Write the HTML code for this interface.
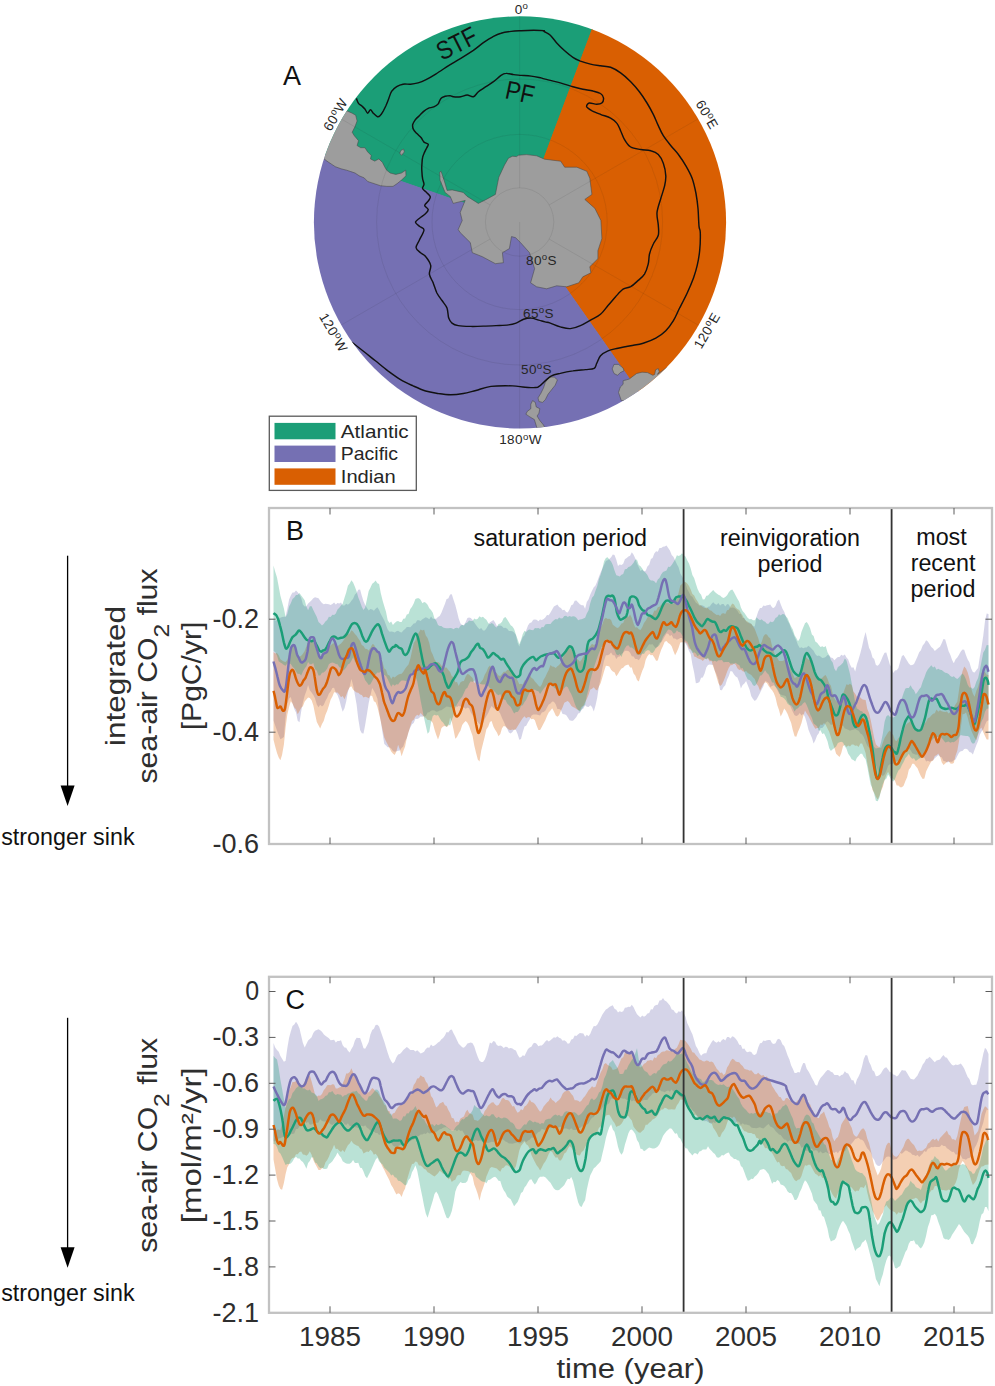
<!DOCTYPE html>
<html><head><meta charset="utf-8"><title>Figure</title>
<style>
html,body{margin:0;padding:0;background:#fff;}
body{width:995px;height:1386px;overflow:hidden;font-family:"Liberation Sans",sans-serif;}
svg{display:block;}
text{font-family:"Liberation Sans",sans-serif;}
</style></head><body>
<svg width="995" height="1386" viewBox="0 0 995 1386">
<rect width="995" height="1386" fill="#fff"/>

<defs><clipPath id="mapclip"><circle cx="520.0" cy="222.4" r="206.1"/></clipPath></defs>
<g clip-path="url(#mapclip)">
<path d="M520.0,222.4 L323.2,154.6 A208.1,208.1 0 0 1 592.9,27.5 Z" fill="#1b9e77" stroke="#1b9e77" stroke-width="1"/>
<path d="M520.0,222.4 L592.9,27.5 A208.1,208.1 0 0 1 639.4,392.9 Z" fill="#d95f02" stroke="#d95f02" stroke-width="1"/>
<path d="M520.0,222.4 L639.4,392.9 A208.1,208.1 0 0 1 323.2,154.6 Z" fill="#7570b3" stroke="#7570b3" stroke-width="1"/>
<polygon points="441.1,171.3 444.1,180.3 447.1,190.4 452.2,189.9 463.2,192.4 467.2,196.4 478.3,203.4 486.3,199.4 495.4,194.4 497.4,184.3 498.8,177.3 504.4,165.2 508.4,158.2 512.5,156.2 516.5,156.6 518.5,155.2 526.5,154.6 536.6,155.8 544.6,159.2 560.7,161.2 564.7,167.2 576.8,167.2 586.8,171.3 589.8,178.3 591.9,194.4 584.8,199.4 594.9,208.4 600.9,220.5 601.9,238.6 597.9,250.7 597.9,258.7 589.8,266.7 590.9,272.8 582.8,276.8 578.8,282.8 566.7,286.8 556.7,285.8 546.6,288.8 536.6,286.8 530.6,282.8 534.6,268.7 529.5,252.7 520.5,242.6 515.5,237.6 511.5,236.6 509.4,248.6 502.4,252.7 503.4,262.7 495.4,263.7 482.3,256.7 472.3,252.7 470.3,242.6 460.2,232.6 458.2,229.5 462.2,220.5 460.2,212.5 465.2,200.4 453.2,203.4 450.2,196.4 445.1,192.4 440.1,180.3 439.7,172.3" fill="#9d9d9d" stroke="#4a4a4a" stroke-width="0.55"/>
<polygon points="342.4,109.7 347.3,111.1 352.2,113.2 355.7,115.3 357.1,121.0 355.0,126.6 352.2,132.2 354.3,135.7 358.5,140.7 357.1,145.6 360.7,147.7 364.9,147.7 367.7,151.9 371.2,155.4 370.5,158.9 374.7,161.1 378.9,158.9 382.5,162.5 384.6,166.7 386.7,170.2 390.2,173.0 395.8,174.4 401.5,173.0 405.7,170.2 406.0,175.8 401.5,180.1 397.2,183.6 393.0,186.4 386.7,186.4 380.4,185.7 376.1,184.3 371.9,182.9 367.7,181.5 364.2,177.9 359.2,175.8 355.0,173.0 350.8,171.6 346.6,170.2 341.0,168.8 335.3,166.7 331.1,163.9 326.9,161.1 324.1,158.9 315.6,156.1 324.1,132.2" fill="#9d9d9d" stroke="#4a4a4a" stroke-width="0.55"/>
<polygon points="400.8,150.5 403.6,149.1 404.3,151.9 401.5,155.4 399.8,153.3" fill="#9d9d9d" stroke="#4a4a4a" stroke-width="0.55"/>
<polygon points="629.4,378.9 633.0,376.2 636.6,373.5 642.1,372.2 647.5,372.6 652.9,375.3 654.7,374.4 655.6,369.8 658.3,368.6 659.2,371.7 657.4,374.4 667.4,367.1 636.6,401.5 621.3,400.6 618.5,392.5 620.3,387.0 623.1,384.3 623.1,380.7 626.7,379.8" fill="#9d9d9d" stroke="#4a4a4a" stroke-width="0.55"/>
<polygon points="614.0,364.4 618.5,364.4 623.1,368.0 624.0,370.8 620.3,372.6 617.6,375.3 614.0,373.5 612.2,368.9" fill="#9d9d9d" stroke="#4a4a4a" stroke-width="0.55"/>
<polygon points="548.9,377.1 554.3,377.1 557.4,379.8 555.2,385.2 551.6,389.7 548.0,394.3 545.3,399.7 542.6,402.4 538.9,401.5 538.0,397.9 540.8,393.4 543.5,387.9 545.3,382.5" fill="#9d9d9d" stroke="#4a4a4a" stroke-width="0.55"/>
<polygon points="532.6,400.6 535.3,402.4 536.2,406.9 539.8,408.7 538.9,413.3 537.1,416.0 539.8,420.5 543.5,425.0 546.2,430.4 537.1,428.6 534.4,419.6 529.9,416.9 525.9,414.2 527.2,411.5 530.8,408.7 530.8,404.2" fill="#9d9d9d" stroke="#4a4a4a" stroke-width="0.55"/>
<circle cx="519.6" cy="222" r="34.2" stroke="#222" stroke-opacity="0.11" stroke-width="0.8" fill="none"/>
<circle cx="519.6" cy="222" r="87.6" stroke="#222" stroke-opacity="0.11" stroke-width="0.8" fill="none"/>
<circle cx="519.6" cy="222" r="143.0" stroke="#222" stroke-opacity="0.11" stroke-width="0.8" fill="none"/>
<line x1="519.6" y1="187.8" x2="519.6" y2="12.9" stroke="#222" stroke-opacity="0.11" stroke-width="0.8" fill="none"/>
<line x1="549.2" y1="204.9" x2="700.7" y2="117.4" stroke="#222" stroke-opacity="0.11" stroke-width="0.8" fill="none"/>
<line x1="549.2" y1="239.1" x2="700.7" y2="326.5" stroke="#222" stroke-opacity="0.11" stroke-width="0.8" fill="none"/>
<line x1="519.6" y1="256.2" x2="519.6" y2="431.1" stroke="#222" stroke-opacity="0.11" stroke-width="0.8" fill="none"/>
<line x1="490.0" y1="239.1" x2="338.5" y2="326.6" stroke="#222" stroke-opacity="0.11" stroke-width="0.8" fill="none"/>
<line x1="490.0" y1="204.9" x2="338.5" y2="117.4" stroke="#222" stroke-opacity="0.11" stroke-width="0.8" fill="none"/>
<line x1="519.6" y1="256.2" x2="519.6" y2="222" stroke="#222" stroke-opacity="0.11" stroke-width="0.8" fill="none"/>
<path d="M356.4,98.4 C356.8,99.3 357.6,102.1 358.5,103.4 C359.5,104.7 361.0,105.2 362.1,106.2 C363.1,107.1 363.9,107.8 364.9,109.0 C365.8,110.2 366.8,113.1 367.7,113.2 C368.6,113.3 369.6,109.7 370.5,109.7 C371.4,109.7 372.1,112.0 373.3,113.2 C374.5,114.4 376.4,116.4 377.5,116.7 C378.7,117.1 379.4,116.3 380.4,115.3 C381.3,114.4 382.2,112.7 383.2,111.1 C384.1,109.5 385.0,107.6 386.0,105.5 C386.9,103.4 387.9,100.8 388.8,98.4 C389.7,96.1 390.3,93.4 391.6,91.4 C392.9,89.4 394.8,87.9 396.7,86.7 C398.6,85.5 400.7,84.6 403.0,84.2 C405.3,83.8 408.0,84.4 410.6,84.2 C413.1,84.0 415.6,83.6 418.1,82.9 C420.6,82.2 422.7,81.4 425.6,79.9 C428.6,78.4 431.9,76.5 435.7,74.1 C439.4,71.8 444.1,68.5 448.2,65.8 C452.4,63.2 456.6,60.9 460.8,58.3 C465.0,55.7 469.6,52.8 473.4,50.3 C477.1,47.7 480.1,45.0 483.4,42.7 C486.8,40.4 490.5,38.0 493.5,36.4 C496.4,34.8 498.1,34.0 501.0,33.2 C503.9,32.3 507.7,31.8 511.1,31.4 C514.4,31.0 517.3,30.9 521.1,30.7 C524.9,30.4 529.9,30.2 533.7,30.2 C537.4,30.2 542.0,30.4 543.7,30.7 C545.4,30.9 542.9,30.7 544.0,31.4 C545.1,32.2 548.2,33.3 550.3,35.2 C552.3,37.1 554.2,40.2 556.5,42.7 C558.8,45.2 561.3,47.8 564.1,50.3 C566.8,52.7 570.1,55.5 572.9,57.3 C575.6,59.1 577.5,59.9 580.4,61.1 C583.3,62.2 587.1,63.3 590.5,64.1 C593.8,64.9 597.2,65.3 600.5,65.8 C603.9,66.4 607.2,66.2 610.6,67.3 C613.9,68.5 617.3,70.5 620.6,72.9 C624.0,75.3 627.5,78.5 630.7,81.7 C633.8,84.8 636.7,88.1 639.4,91.7 C642.2,95.3 644.7,99.2 647.0,103.0 C649.3,106.8 651.4,110.6 653.3,114.3 C655.2,118.1 656.6,122.1 658.3,125.6 C660.0,129.2 661.2,132.3 663.3,135.7 C665.4,139.0 668.3,142.6 670.9,145.7 C673.4,148.9 675.9,151.2 678.4,154.5 C680.9,157.9 683.6,161.9 685.9,165.8 C688.2,169.8 690.5,173.8 692.2,178.4 C693.9,183.0 695.0,188.4 696.0,193.5 C696.9,198.5 697.5,203.1 698.0,208.5 C698.5,214.0 698.6,222.1 699.0,226.1 C699.4,230.2 700.1,228.6 700.3,232.7 C700.4,236.7 700.3,244.8 699.7,250.3 C699.2,255.7 698.3,260.7 697.2,265.3 C696.2,269.9 695.1,273.3 693.5,277.9 C691.8,282.5 689.5,287.9 687.2,293.0 C684.9,298.0 682.0,303.4 679.6,308.0 C677.3,312.6 675.7,316.8 673.4,320.6 C671.1,324.4 668.8,327.7 665.8,330.7 C662.9,333.6 659.5,336.1 655.8,338.2 C652.0,340.3 647.4,342.0 643.2,343.2 C639.0,344.5 634.8,344.9 630.7,345.7 C626.5,346.6 621.9,347.4 618.1,348.2 C614.3,349.1 611.0,349.5 608.0,350.8 C605.1,352.0 602.4,353.7 600.5,355.8 C598.6,357.9 597.8,361.2 596.7,363.3 C595.7,365.4 596.1,367.3 594.2,368.3 C592.3,369.4 589.0,369.2 585.4,369.6 C581.9,370.0 577.1,370.2 572.9,370.9 C568.7,371.5 563.9,372.5 560.3,373.4 C556.7,374.2 554.0,374.6 551.5,375.9 C549.0,377.1 547.5,379.0 545.2,380.9 C542.9,382.8 541.0,386.1 537.7,387.2 C534.3,388.2 529.3,387.4 525.1,387.2 C520.9,387.0 518.3,386.1 512.6,385.9 C506.9,385.8 497.1,385.7 491.0,386.4 C484.8,387.2 480.5,389.3 475.9,390.5 C471.3,391.6 467.5,392.8 463.3,393.5 C459.1,394.2 454.9,394.7 450.8,394.7 C446.6,394.7 442.4,394.1 438.2,393.5 C434.0,392.8 429.8,392.2 425.6,391.0 C421.4,389.7 417.3,387.8 413.1,385.9 C408.9,384.0 404.7,382.2 400.5,379.6 C396.3,377.1 392.1,374.0 387.9,370.9 C383.8,367.7 379.6,364.2 375.4,360.8 C371.2,357.5 366.8,353.9 362.8,350.8 C358.8,347.6 353.4,343.4 351.5,342.0" fill="none" stroke="#111" stroke-width="1.45" stroke-linejoin="round"/>
<path d="M541.2,77.9 C539.5,77.6 534.5,76.5 531.2,76.1 C527.8,75.7 524.0,75.6 521.1,75.4 C518.2,75.1 516.1,75.0 513.6,74.6 C511.1,74.3 508.1,73.2 506.0,73.4 C503.9,73.5 503.1,74.0 501.0,75.4 C498.9,76.8 496.0,79.8 493.5,81.7 C491.0,83.5 488.4,85.0 485.9,86.7 C483.4,88.4 480.5,90.0 478.4,91.7 C476.3,93.4 475.3,96.2 473.4,96.7 C471.5,97.3 469.2,95.0 467.1,95.0 C465.0,95.0 463.1,96.4 460.8,96.7 C458.5,97.0 455.1,96.9 453.3,96.7 C451.5,96.5 451.4,95.7 450.0,95.6 C448.6,95.6 446.6,95.9 445.1,96.3 C443.6,96.8 442.0,97.2 440.9,98.4 C439.7,99.7 439.2,102.7 438.0,104.1 C436.9,105.5 435.5,106.2 433.8,106.9 C432.2,107.6 429.8,107.6 428.2,108.3 C426.6,109.0 425.4,109.9 424.0,111.1 C422.6,112.3 421.2,113.9 419.8,115.3 C418.3,116.7 416.7,118.0 415.5,119.5 C414.4,121.1 413.1,122.8 412.7,124.5 C412.4,126.1 412.7,127.9 413.4,129.4 C414.1,130.9 415.6,132.2 416.9,133.6 C418.2,135.0 420.0,136.4 421.2,137.8 C422.3,139.2 422.8,141.0 424.0,142.1 C425.1,143.1 427.7,143.2 428.2,144.2 C428.7,145.1 427.4,146.4 426.8,147.7 C426.2,149.0 425.4,150.3 424.7,151.9 C424.0,153.6 423.0,155.4 422.6,157.5 C422.1,159.6 422.0,162.2 421.9,164.6 C421.7,166.9 421.7,169.3 421.9,171.6 C422.0,174.0 422.2,176.5 422.6,178.6 C422.9,180.8 424.0,182.6 424.0,184.3 C424.0,185.9 422.1,187.1 422.6,188.5 C423.0,189.9 425.5,191.3 426.8,192.7 C428.1,194.1 430.1,195.5 430.3,196.9 C430.5,198.3 429.1,199.8 428.2,201.2 C427.3,202.6 424.7,204.0 424.7,205.4 C424.7,206.8 428.1,208.2 428.2,209.6 C428.3,211.0 426.8,212.4 425.4,213.8 C424.0,215.2 421.4,216.6 419.8,218.0 C418.1,219.4 415.5,220.9 415.5,222.3 C415.5,223.7 418.3,225.2 419.8,226.5 C421.2,227.8 424.0,227.7 424.0,230.0 C423.9,232.3 420.7,237.2 419.3,240.2 C418.0,243.2 415.9,245.6 416.1,247.7 C416.3,249.8 419.0,251.3 420.6,252.8 C422.2,254.2 424.0,254.4 425.6,256.5 C427.3,258.6 430.0,262.4 430.7,265.3 C431.3,268.3 429.0,271.2 429.4,274.1 C429.8,277.1 431.9,279.8 433.2,282.9 C434.4,286.1 435.5,290.0 436.9,293.0 C438.4,295.9 440.3,298.0 442.0,300.5 C443.6,303.0 445.9,305.1 447.0,308.0 C448.1,311.0 447.9,315.6 448.7,318.1 C449.6,320.6 450.4,321.9 452.0,323.1 C453.6,324.4 455.2,325.1 458.3,325.6 C461.4,326.2 466.7,326.3 470.9,326.4 C475.0,326.5 479.2,326.3 483.4,326.1 C487.6,326.0 491.8,325.8 496.0,325.6 C500.2,325.4 505.2,325.3 508.5,324.9 C511.9,324.5 513.6,324.0 516.1,323.1 C518.6,322.2 521.1,320.2 523.6,319.3 C526.1,318.5 528.6,318.0 531.2,318.1 C533.7,318.2 536.4,319.5 538.7,320.1 C541.0,320.7 543.0,321.4 545.0,321.9 C546.9,322.4 547.7,322.3 550.3,323.1 C552.8,324.0 557.0,326.0 560.3,326.9 C563.7,327.8 567.0,328.9 570.4,328.6 C573.7,328.4 577.1,327.1 580.4,325.6 C583.8,324.2 587.1,322.0 590.5,320.1 C593.8,318.2 597.6,316.8 600.5,314.3 C603.4,311.9 605.5,308.5 608.0,305.5 C610.6,302.6 613.1,299.5 615.6,296.7 C618.1,294.0 620.6,290.9 623.1,289.2 C625.6,287.5 628.1,288.1 630.7,286.7 C633.2,285.2 635.9,282.5 638.2,280.4 C640.5,278.3 642.8,276.8 644.5,274.1 C646.1,271.4 647.4,267.4 648.2,264.1 C649.1,260.7 648.7,257.4 649.5,254.0 C650.3,250.7 651.8,247.1 653.3,244.0 C654.7,240.8 657.5,238.3 658.3,235.2 C659.1,232.0 658.5,228.9 658.3,225.1 C658.1,221.4 656.6,217.0 657.0,212.6 C657.5,208.1 659.5,202.9 660.8,198.5 C662.1,194.1 663.7,189.7 664.6,185.9 C665.4,182.2 666.0,179.6 665.8,175.9 C665.6,172.1 664.6,166.9 663.3,163.3 C662.1,159.8 660.4,156.6 658.3,154.5 C656.2,152.4 653.7,151.6 650.8,150.8 C647.8,149.9 644.1,150.1 640.7,149.5 C637.4,148.9 633.4,148.7 630.7,147.0 C627.9,145.3 626.0,142.2 624.4,139.4 C622.7,136.7 621.9,133.4 620.6,130.7 C619.3,127.9 618.5,125.2 616.8,123.1 C615.2,121.0 613.3,119.6 610.6,118.1 C607.8,116.6 603.6,115.6 600.5,114.3 C597.4,113.1 594.0,111.8 591.7,110.6 C589.4,109.3 587.1,108.0 586.7,106.8 C586.3,105.5 587.5,103.4 589.2,103.0 C590.9,102.6 594.6,104.3 596.7,104.3 C598.8,104.3 600.6,104.1 601.8,103.0 C602.9,102.0 603.7,99.6 603.5,98.0 C603.3,96.4 602.3,94.6 600.5,93.5 C598.7,92.3 595.9,91.7 593.0,91.0 C590.0,90.2 586.3,89.9 582.9,89.2 C579.6,88.5 576.6,87.7 572.9,86.7 C569.1,85.6 564.9,84.2 560.3,82.9 C555.7,81.7 548.4,80.0 545.2,79.1 C542.0,78.3 541.9,78.1 541.2,77.9" fill="none" stroke="#111" stroke-width="1.45" stroke-linejoin="round"/>
</g>
<text x="283" y="85" font-size="27" fill="#111">A</text>
<text x="442" y="61" font-size="26" fill="#111" transform="rotate(-27 442 61)" textLength="42" lengthAdjust="spacingAndGlyphs">STF</text>
<text x="504" y="98" font-size="26" fill="#111" transform="rotate(12 504 98)" textLength="29" lengthAdjust="spacingAndGlyphs">PF</text>
<text x="521.5" y="13.5" font-size="13.5" fill="#262626" letter-spacing="0.4" text-anchor="middle">0<tspan font-size="9.7" dy="-4.5">o</tspan><tspan dy="4.5"></tspan></text>
<text x="520.5" y="444" font-size="13.5" fill="#262626" letter-spacing="0.4" text-anchor="middle">180<tspan font-size="9.7" dy="-4.5">o</tspan><tspan dy="4.5">W</tspan></text>
<text x="339.5" y="117" font-size="13.5" fill="#262626" letter-spacing="0.4" transform="rotate(-60 339.5 117)" text-anchor="middle">60<tspan font-size="9.7" dy="-4.5">o</tspan><tspan dy="4.5">W</tspan></text>
<text x="703" y="117" font-size="13.5" fill="#262626" letter-spacing="0.4" transform="rotate(60 703 117)" text-anchor="middle">60<tspan font-size="9.7" dy="-4.5">o</tspan><tspan dy="4.5">E</tspan></text>
<text x="329.5" y="335" font-size="13.5" fill="#262626" letter-spacing="0.4" transform="rotate(60 329.5 335)" text-anchor="middle">120<tspan font-size="9.7" dy="-4.5">o</tspan><tspan dy="4.5">W</tspan></text>
<text x="711" y="333" font-size="13.5" fill="#262626" letter-spacing="0.4" transform="rotate(-60 711 333)" text-anchor="middle">120<tspan font-size="9.7" dy="-4.5">o</tspan><tspan dy="4.5">E</tspan></text>
<text x="541.5" y="264.5" font-size="13.5" fill="#262626" letter-spacing="0.4" text-anchor="middle">80<tspan font-size="9.7" dy="-4.5">o</tspan><tspan dy="4.5">S</tspan></text>
<text x="538.5" y="317.5" font-size="13.5" fill="#262626" letter-spacing="0.4" text-anchor="middle">65<tspan font-size="9.7" dy="-4.5">o</tspan><tspan dy="4.5">S</tspan></text>
<text x="536.5" y="373.5" font-size="13.5" fill="#262626" letter-spacing="0.4" text-anchor="middle">50<tspan font-size="9.7" dy="-4.5">o</tspan><tspan dy="4.5">S</tspan></text>
<rect x="269.3" y="416.2" width="147" height="74.2" fill="#fff" stroke="#5a5a5a" stroke-width="1.3"/>
<rect x="274.5" y="422.9" width="61" height="16.4" fill="#1b9e77"/>
<text x="340.8" y="437.7" font-size="18.5" fill="#262626" textLength="67.8" lengthAdjust="spacingAndGlyphs">Atlantic</text>
<rect x="274.5" y="445.6" width="61" height="16.4" fill="#7570b3"/>
<text x="340.8" y="460.4" font-size="18.5" fill="#262626" textLength="57.3" lengthAdjust="spacingAndGlyphs">Pacific</text>
<rect x="274.5" y="468.4" width="61" height="16.4" fill="#d95f02"/>
<text x="340.8" y="483.2" font-size="18.5" fill="#262626" textLength="54.9" lengthAdjust="spacingAndGlyphs">Indian</text>
<defs><clipPath id="clipB"><rect x="269.0" y="508.0" width="723.0" height="336.0"/></clipPath></defs>
<g clip-path="url(#clipB)">
<path d="M273.5,619.3 L275.2,620.8 L277.0,619.9 L278.7,617.7 L280.4,617.7 L282.1,616.9 L283.9,616.8 L285.6,616.5 L287.3,608.9 L289.1,599.5 L290.8,595.6 L292.5,592.6 L294.3,592.4 L296.0,590.5 L297.7,592.3 L299.5,594.8 L301.2,598.0 L302.9,604.4 L304.7,606.6 L306.4,606.3 L308.1,603.5 L309.8,602.0 L311.6,600.3 L313.3,598.2 L315.0,597.3 L316.8,597.8 L318.5,598.3 L320.2,600.7 L322.0,603.0 L323.7,604.2 L325.4,603.7 L327.2,604.0 L328.9,604.2 L330.6,605.1 L332.4,604.0 L334.1,602.6 L335.8,604.5 L337.5,603.1 L339.3,603.6 L341.0,602.6 L342.7,605.5 L344.5,605.5 L346.2,603.7 L347.9,604.8 L349.7,603.3 L351.4,600.7 L353.1,598.8 L354.9,594.5 L356.6,592.9 L358.3,589.7 L360.1,589.6 L361.8,595.7 L363.5,601.3 L365.2,605.1 L367.0,608.0 L368.7,610.6 L370.4,608.9 L372.2,609.6 L373.9,610.8 L375.6,608.8 L377.4,607.2 L379.1,610.0 L380.8,613.9 L382.6,617.3 L384.3,620.5 L386.0,625.0 L387.7,629.5 L389.5,631.7 L391.2,631.5 L392.9,631.7 L394.7,632.6 L396.4,631.3 L398.1,630.7 L399.9,632.1 L401.6,632.4 L403.3,630.6 L405.1,628.9 L406.8,627.0 L408.5,626.9 L410.3,627.2 L412.0,625.4 L413.7,623.5 L415.4,623.3 L417.2,620.3 L418.9,620.2 L420.6,620.9 L422.4,619.2 L424.1,618.3 L425.8,617.2 L427.6,618.0 L429.3,619.2 L431.0,616.4 L432.8,618.7 L434.5,618.8 L436.2,618.7 L438.0,617.0 L439.7,615.9 L441.4,612.8 L443.1,608.6 L444.9,603.9 L446.6,599.0 L448.3,598.4 L450.1,594.5 L451.8,594.2 L453.5,599.7 L455.3,605.0 L457.0,611.5 L458.7,618.4 L460.5,623.5 L462.2,624.9 L463.9,625.1 L465.7,622.0 L467.4,618.1 L469.1,617.4 L470.8,618.1 L472.6,620.1 L474.3,622.6 L476.0,625.0 L477.8,627.6 L479.5,629.2 L481.2,628.1 L483.0,630.4 L484.7,630.5 L486.4,628.6 L488.2,625.3 L489.9,622.2 L491.6,621.3 L493.4,620.0 L495.1,622.4 L496.8,626.0 L498.5,625.7 L500.3,625.5 L502.0,626.3 L503.7,628.0 L505.5,627.7 L507.2,628.8 L508.9,630.9 L510.7,630.9 L512.4,631.2 L514.1,632.5 L515.9,634.9 L517.6,642.8 L519.3,646.5 L521.0,641.5 L522.8,636.9 L524.5,635.2 L526.2,630.2 L528.0,625.5 L529.7,622.9 L531.4,622.4 L533.2,619.8 L534.9,619.6 L536.6,619.8 L538.4,621.3 L540.1,619.4 L541.8,620.0 L543.6,618.9 L545.3,617.4 L547.0,615.1 L548.7,615.2 L550.5,612.5 L552.2,609.5 L553.9,606.4 L555.7,605.5 L557.4,604.6 L559.1,606.9 L560.9,607.9 L562.6,610.3 L564.3,609.8 L566.1,611.9 L567.8,612.4 L569.5,609.5 L571.3,605.2 L573.0,604.6 L574.7,600.8 L576.4,600.5 L578.2,602.4 L579.9,604.3 L581.6,605.2 L583.4,605.3 L585.1,608.8 L586.8,602.1 L588.6,599.3 L590.3,594.5 L592.0,590.8 L593.8,587.3 L595.5,585.6 L597.2,581.6 L599.0,576.4 L600.7,572.3 L602.4,568.4 L604.1,564.8 L605.9,561.0 L607.6,560.3 L609.3,559.0 L611.1,557.2 L612.8,554.6 L614.5,555.1 L616.3,559.7 L618.0,566.1 L619.7,564.6 L621.5,564.9 L623.2,563.7 L624.9,559.3 L626.7,558.1 L628.4,556.6 L630.1,555.7 L631.8,552.2 L633.6,554.7 L635.3,558.4 L637.0,563.4 L638.8,567.3 L640.5,571.1 L642.2,569.7 L644.0,571.3 L645.7,570.7 L647.4,566.6 L649.2,564.7 L650.9,559.0 L652.6,557.9 L654.3,553.4 L656.1,551.2 L657.8,551.7 L659.5,547.9 L661.3,548.0 L663.0,546.7 L664.7,546.6 L666.5,545.6 L668.2,548.1 L669.9,550.6 L671.7,554.9 L673.4,556.7 L675.1,560.3 L676.9,564.2 L678.6,567.2 L680.3,573.6 L682.0,576.3 L683.8,579.6 L685.5,583.1 L687.2,589.0 L689.0,592.2 L690.7,595.8 L692.4,596.8 L694.2,599.9 L695.9,602.7 L697.6,603.8 L699.4,605.8 L701.1,605.3 L702.8,605.5 L704.6,606.6 L706.3,608.8 L708.0,606.7 L709.7,606.6 L711.5,604.0 L713.2,602.3 L714.9,604.1 L716.7,604.8 L718.4,602.9 L720.1,605.5 L721.9,604.1 L723.6,604.1 L725.3,606.5 L727.1,603.9 L728.8,604.6 L730.5,608.0 L732.3,607.5 L734.0,607.7 L735.7,609.0 L737.4,610.8 L739.2,614.1 L740.9,613.9 L742.6,618.0 L744.4,618.1 L746.1,621.4 L747.8,622.8 L749.6,622.5 L751.3,623.9 L753.0,626.1 L754.8,626.5 L756.5,616.7 L758.2,611.4 L760.0,607.9 L761.7,607.9 L763.4,605.5 L765.1,606.1 L766.9,605.3 L768.6,604.9 L770.3,604.5 L772.1,607.4 L773.8,607.9 L775.5,605.9 L777.3,601.2 L779.0,599.6 L780.7,604.2 L782.5,608.8 L784.2,611.7 L785.9,616.5 L787.6,620.7 L789.4,623.8 L791.1,629.0 L792.8,632.6 L794.6,636.8 L796.3,640.6 L798.0,645.0 L799.8,648.0 L801.5,647.2 L803.2,648.3 L805.0,647.4 L806.7,647.4 L808.4,645.8 L810.2,647.3 L811.9,649.1 L813.6,650.8 L815.3,654.1 L817.1,655.9 L818.8,655.4 L820.5,656.4 L822.3,657.9 L824.0,657.7 L825.7,656.9 L827.5,655.0 L829.2,655.4 L830.9,657.5 L832.7,657.9 L834.4,660.2 L836.1,658.6 L837.9,656.9 L839.6,656.9 L841.3,654.7 L843.0,655.8 L844.8,654.5 L846.5,657.6 L848.2,659.4 L850.0,664.4 L851.7,667.7 L853.4,667.2 L855.2,671.6 L856.9,664.3 L858.6,659.2 L860.4,652.9 L862.1,646.2 L863.8,638.6 L865.6,631.9 L867.3,639.7 L869.0,647.8 L870.7,651.1 L872.5,657.5 L874.2,659.1 L875.9,664.9 L877.7,665.7 L879.4,663.9 L881.1,660.4 L882.9,655.9 L884.6,652.7 L886.3,652.6 L888.1,658.6 L889.8,664.5 L891.5,667.6 L893.3,672.9 L895.0,670.4 L896.7,670.3 L898.4,668.1 L900.2,661.6 L901.9,655.9 L903.6,655.1 L905.4,658.1 L907.1,660.8 L908.8,663.5 L910.6,665.3 L912.3,664.9 L914.0,663.9 L915.8,660.3 L917.5,656.6 L919.2,652.2 L920.9,650.2 L922.7,645.6 L924.4,643.4 L926.1,640.2 L927.9,641.5 L929.6,644.3 L931.3,647.1 L933.1,648.4 L934.8,650.9 L936.5,649.6 L938.3,647.9 L940.0,646.8 L941.7,643.2 L943.5,639.1 L945.2,639.5 L946.9,645.2 L948.6,651.3 L950.4,655.0 L952.1,660.1 L953.8,663.3 L955.6,659.3 L957.3,657.4 L959.0,654.8 L960.8,651.4 L962.5,649.4 L964.2,649.8 L966.0,655.2 L967.7,659.5 L969.4,662.3 L971.2,668.6 L972.9,672.0 L974.6,672.4 L976.3,670.3 L978.1,667.9 L979.8,657.0 L981.5,647.3 L983.3,635.5 L985.0,621.1 L986.7,613.4 L988.5,613.9 L988.5,720.2 L986.7,721.2 L985.0,725.1 L983.3,729.4 L981.5,731.5 L979.8,734.8 L978.1,740.9 L976.3,745.2 L974.6,749.7 L972.9,754.4 L971.2,752.5 L969.4,752.0 L967.7,749.5 L966.0,748.7 L964.2,748.9 L962.5,751.1 L960.8,751.2 L959.0,752.8 L957.3,755.9 L955.6,759.4 L953.8,760.2 L952.1,761.8 L950.4,761.7 L948.6,761.9 L946.9,762.6 L945.2,761.3 L943.5,761.1 L941.7,757.3 L940.0,756.7 L938.3,755.0 L936.5,756.8 L934.8,758.2 L933.1,760.2 L931.3,760.9 L929.6,761.7 L927.9,760.7 L926.1,761.4 L924.4,757.8 L922.7,757.7 L920.9,756.8 L919.2,757.7 L917.5,754.6 L915.8,754.8 L914.0,753.9 L912.3,753.2 L910.6,750.2 L908.8,748.6 L907.1,749.1 L905.4,750.9 L903.6,753.6 L901.9,756.6 L900.2,756.8 L898.4,761.0 L896.7,761.4 L895.0,761.5 L893.3,763.7 L891.5,764.1 L889.8,764.3 L888.1,765.8 L886.3,770.9 L884.6,774.5 L882.9,775.9 L881.1,774.7 L879.4,773.4 L877.7,770.1 L875.9,764.8 L874.2,757.1 L872.5,753.0 L870.7,748.8 L869.0,747.6 L867.3,745.7 L865.6,741.7 L863.8,736.9 L862.1,734.4 L860.4,733.4 L858.6,730.7 L856.9,730.1 L855.2,728.9 L853.4,729.7 L851.7,730.0 L850.0,730.8 L848.2,729.7 L846.5,728.9 L844.8,728.4 L843.0,725.6 L841.3,726.2 L839.6,728.1 L837.9,731.7 L836.1,727.9 L834.4,727.4 L832.7,724.2 L830.9,725.0 L829.2,722.8 L827.5,721.2 L825.7,722.7 L824.0,725.9 L822.3,727.9 L820.5,728.1 L818.8,733.2 L817.1,735.6 L815.3,740.3 L813.6,743.5 L811.9,737.8 L810.2,733.9 L808.4,729.4 L806.7,722.5 L805.0,716.9 L803.2,713.8 L801.5,715.4 L799.8,712.9 L798.0,715.2 L796.3,716.0 L794.6,715.2 L792.8,711.7 L791.1,708.1 L789.4,703.9 L787.6,701.8 L785.9,696.3 L784.2,695.5 L782.5,695.3 L780.7,694.4 L779.0,693.5 L777.3,690.1 L775.5,686.8 L773.8,685.3 L772.1,686.0 L770.3,687.0 L768.6,682.9 L766.9,681.7 L765.1,681.1 L763.4,686.3 L761.7,689.6 L760.0,693.1 L758.2,696.5 L756.5,699.6 L754.8,701.0 L753.0,698.9 L751.3,696.3 L749.6,689.8 L747.8,685.2 L746.1,680.9 L744.4,683.6 L742.6,685.0 L740.9,688.6 L739.2,681.9 L737.4,677.5 L735.7,676.4 L734.0,674.5 L732.3,671.6 L730.5,671.0 L728.8,676.1 L727.1,679.5 L725.3,685.2 L723.6,687.1 L721.9,690.2 L720.1,690.1 L718.4,679.7 L716.7,674.8 L714.9,670.9 L713.2,665.1 L711.5,664.8 L709.7,664.6 L708.0,664.9 L706.3,667.5 L704.6,673.4 L702.8,677.6 L701.1,677.7 L699.4,682.0 L697.6,683.1 L695.9,683.2 L694.2,672.8 L692.4,664.5 L690.7,654.1 L689.0,650.9 L687.2,646.2 L685.5,643.6 L683.8,640.1 L682.0,638.1 L680.3,637.9 L678.6,639.1 L676.9,639.7 L675.1,638.5 L673.4,638.6 L671.7,635.1 L669.9,636.0 L668.2,633.7 L666.5,633.6 L664.7,636.5 L663.0,639.5 L661.3,642.2 L659.5,642.8 L657.8,646.0 L656.1,648.6 L654.3,646.5 L652.6,644.2 L650.9,644.6 L649.2,644.3 L647.4,646.7 L645.7,649.0 L644.0,650.7 L642.2,653.9 L640.5,657.7 L638.8,660.3 L637.0,658.9 L635.3,659.0 L633.6,656.5 L631.8,656.2 L630.1,652.7 L628.4,651.0 L626.7,650.7 L624.9,650.8 L623.2,652.7 L621.5,654.1 L619.7,656.4 L618.0,656.7 L616.3,659.0 L614.5,655.2 L612.8,655.2 L611.1,652.5 L609.3,654.5 L607.6,655.3 L605.9,655.2 L604.1,660.4 L602.4,668.3 L600.7,678.1 L599.0,685.9 L597.2,697.7 L595.5,705.4 L593.8,711.6 L592.0,707.1 L590.3,705.3 L588.6,706.9 L586.8,706.7 L585.1,705.2 L583.4,708.5 L581.6,709.7 L579.9,712.9 L578.2,713.6 L576.4,717.0 L574.7,718.9 L573.0,720.8 L571.3,720.7 L569.5,720.3 L567.8,717.4 L566.1,715.1 L564.3,714.3 L562.6,713.9 L560.9,710.1 L559.1,709.0 L557.4,708.9 L555.7,704.3 L553.9,701.7 L552.2,701.6 L550.5,703.6 L548.7,704.5 L547.0,707.4 L545.3,710.8 L543.6,712.1 L541.8,712.5 L540.1,715.5 L538.4,715.1 L536.6,714.5 L534.9,714.6 L533.2,714.5 L531.4,715.7 L529.7,719.5 L528.0,722.2 L526.2,725.8 L524.5,726.4 L522.8,732.1 L521.0,738.9 L519.3,739.7 L517.6,734.1 L515.9,730.1 L514.1,729.6 L512.4,732.0 L510.7,733.6 L508.9,732.4 L507.2,728.7 L505.5,725.7 L503.7,721.4 L502.0,717.9 L500.3,713.8 L498.5,711.1 L496.8,710.0 L495.1,708.9 L493.4,708.0 L491.6,706.1 L489.9,709.0 L488.2,712.9 L486.4,715.9 L484.7,718.9 L483.0,723.2 L481.2,725.3 L479.5,724.1 L477.8,722.3 L476.0,719.4 L474.3,717.5 L472.6,715.2 L470.8,712.6 L469.1,708.3 L467.4,707.4 L465.7,708.8 L463.9,707.5 L462.2,705.9 L460.5,706.8 L458.7,705.7 L457.0,707.3 L455.3,705.8 L453.5,706.8 L451.8,707.5 L450.1,707.2 L448.3,706.8 L446.6,706.6 L444.9,707.8 L443.1,708.9 L441.4,710.3 L439.7,710.4 L438.0,711.4 L436.2,711.7 L434.5,710.5 L432.8,710.2 L431.0,710.7 L429.3,712.2 L427.6,712.6 L425.8,715.9 L424.1,715.8 L422.4,716.7 L420.6,716.6 L418.9,718.3 L417.2,718.9 L415.4,718.8 L413.7,723.1 L412.0,724.2 L410.3,727.6 L408.5,732.0 L406.8,738.2 L405.1,741.1 L403.3,746.6 L401.6,748.0 L399.9,750.4 L398.1,750.7 L396.4,751.2 L394.7,751.8 L392.9,750.9 L391.2,748.5 L389.5,747.2 L387.7,747.2 L386.0,745.5 L384.3,744.0 L382.6,733.3 L380.8,721.6 L379.1,711.2 L377.4,698.8 L375.6,694.1 L373.9,690.7 L372.2,687.9 L370.4,695.5 L368.7,702.9 L367.0,713.8 L365.2,724.7 L363.5,733.5 L361.8,733.3 L360.1,729.9 L358.3,718.9 L356.6,704.4 L354.9,695.0 L353.1,685.0 L351.4,679.0 L349.7,686.5 L347.9,692.0 L346.2,701.5 L344.5,708.2 L342.7,711.7 L341.0,706.2 L339.3,699.7 L337.5,694.9 L335.8,692.6 L334.1,687.8 L332.4,688.1 L330.6,691.4 L328.9,693.4 L327.2,697.7 L325.4,701.0 L323.7,705.0 L322.0,706.6 L320.2,704.7 L318.5,707.2 L316.8,704.6 L315.0,698.3 L313.3,695.1 L311.6,692.4 L309.8,690.3 L308.1,684.9 L306.4,691.0 L304.7,695.4 L302.9,702.5 L301.2,711.3 L299.5,722.2 L297.7,720.8 L296.0,712.6 L294.3,708.9 L292.5,703.2 L290.8,696.9 L289.1,698.5 L287.3,704.1 L285.6,716.7 L283.9,736.9 L282.1,738.3 L280.4,739.3 L278.7,734.9 L277.0,730.4 L275.2,725.5 L273.5,720.5 Z" fill="#7570b3" fill-opacity="0.3" stroke="none"/>
<path d="M273.5,651.9 L275.2,653.6 L277.0,653.0 L278.7,655.2 L280.4,659.3 L282.1,660.4 L283.9,661.6 L285.6,661.9 L287.3,660.1 L289.1,654.4 L290.8,649.9 L292.5,646.3 L294.3,646.0 L296.0,649.4 L297.7,653.8 L299.5,656.8 L301.2,655.8 L302.9,653.7 L304.7,651.1 L306.4,646.2 L308.1,641.2 L309.8,639.5 L311.6,641.7 L313.3,642.1 L315.0,645.8 L316.8,652.5 L318.5,656.6 L320.2,656.8 L322.0,653.7 L323.7,651.0 L325.4,649.9 L327.2,647.2 L328.9,646.3 L330.6,645.6 L332.4,643.8 L334.1,643.0 L335.8,645.9 L337.5,646.3 L339.3,644.8 L341.0,643.6 L342.7,641.4 L344.5,639.0 L346.2,635.1 L347.9,634.4 L349.7,633.5 L351.4,630.2 L353.1,631.5 L354.9,633.9 L356.6,635.8 L358.3,638.6 L360.1,641.1 L361.8,645.0 L363.5,646.0 L365.2,648.8 L367.0,649.0 L368.7,650.6 L370.4,648.1 L372.2,644.2 L373.9,644.5 L375.6,648.1 L377.4,650.1 L379.1,653.4 L380.8,657.4 L382.6,662.6 L384.3,668.5 L386.0,669.8 L387.7,674.8 L389.5,675.6 L391.2,679.1 L392.9,676.4 L394.7,677.5 L396.4,676.0 L398.1,674.7 L399.9,674.0 L401.6,673.7 L403.3,671.7 L405.1,668.8 L406.8,666.4 L408.5,664.4 L410.3,658.8 L412.0,650.9 L413.7,642.9 L415.4,640.4 L417.2,635.4 L418.9,632.6 L420.6,629.6 L422.4,630.4 L424.1,629.7 L425.8,635.4 L427.6,638.1 L429.3,643.1 L431.0,651.1 L432.8,654.8 L434.5,659.3 L436.2,662.0 L438.0,661.9 L439.7,662.9 L441.4,665.8 L443.1,665.2 L444.9,667.7 L446.6,667.4 L448.3,670.1 L450.1,672.1 L451.8,676.2 L453.5,677.1 L455.3,682.3 L457.0,682.1 L458.7,686.1 L460.5,682.3 L462.2,681.2 L463.9,681.0 L465.7,676.4 L467.4,673.9 L469.1,674.6 L470.8,676.3 L472.6,677.9 L474.3,682.9 L476.0,682.1 L477.8,683.5 L479.5,683.7 L481.2,681.8 L483.0,679.4 L484.7,674.7 L486.4,672.0 L488.2,667.6 L489.9,665.5 L491.6,668.1 L493.4,669.8 L495.1,672.0 L496.8,673.3 L498.5,675.4 L500.3,676.0 L502.0,673.9 L503.7,671.8 L505.5,671.7 L507.2,670.1 L508.9,669.4 L510.7,670.5 L512.4,673.3 L514.1,673.4 L515.9,677.6 L517.6,680.5 L519.3,684.2 L521.0,683.7 L522.8,684.4 L524.5,680.5 L526.2,679.9 L528.0,677.6 L529.7,674.6 L531.4,677.8 L533.2,679.1 L534.9,681.5 L536.6,683.3 L538.4,685.4 L540.1,686.9 L541.8,684.5 L543.6,679.8 L545.3,676.9 L547.0,673.3 L548.7,670.0 L550.5,664.9 L552.2,666.4 L553.9,666.7 L555.7,668.0 L557.4,666.3 L559.1,665.1 L560.9,662.5 L562.6,657.7 L564.3,654.8 L566.1,652.4 L567.8,649.1 L569.5,647.4 L571.3,649.6 L573.0,652.2 L574.7,657.5 L576.4,658.4 L578.2,659.7 L579.9,661.7 L581.6,659.8 L583.4,656.3 L585.1,653.7 L586.8,650.8 L588.6,647.7 L590.3,646.1 L592.0,643.8 L593.8,645.1 L595.5,644.3 L597.2,638.4 L599.0,632.3 L600.7,627.5 L602.4,624.3 L604.1,619.2 L605.9,617.8 L607.6,619.0 L609.3,618.8 L611.1,620.0 L612.8,624.7 L614.5,626.0 L616.3,627.6 L618.0,628.0 L619.7,626.2 L621.5,623.5 L623.2,622.9 L624.9,618.5 L626.7,615.9 L628.4,617.0 L630.1,614.4 L631.8,617.8 L633.6,623.7 L635.3,627.6 L637.0,627.2 L638.8,629.3 L640.5,630.1 L642.2,627.3 L644.0,623.0 L645.7,620.7 L647.4,617.4 L649.2,616.3 L650.9,614.8 L652.6,614.8 L654.3,610.5 L656.1,610.8 L657.8,607.3 L659.5,606.8 L661.3,604.7 L663.0,604.1 L664.7,604.1 L666.5,602.8 L668.2,602.9 L669.9,603.7 L671.7,603.2 L673.4,603.8 L675.1,601.4 L676.9,598.7 L678.6,592.7 L680.3,585.5 L682.0,584.1 L683.8,582.2 L685.5,582.0 L687.2,583.6 L689.0,585.9 L690.7,589.6 L692.4,594.1 L694.2,595.6 L695.9,599.0 L697.6,601.5 L699.4,604.7 L701.1,605.5 L702.8,607.0 L704.6,607.9 L706.3,607.4 L708.0,608.3 L709.7,610.3 L711.5,610.7 L713.2,612.4 L714.9,613.8 L716.7,615.1 L718.4,614.7 L720.1,616.0 L721.9,613.6 L723.6,613.2 L725.3,614.0 L727.1,610.3 L728.8,609.8 L730.5,606.2 L732.3,603.6 L734.0,604.5 L735.7,607.4 L737.4,608.9 L739.2,610.0 L740.9,613.1 L742.6,615.5 L744.4,619.1 L746.1,620.8 L747.8,621.8 L749.6,623.6 L751.3,623.8 L753.0,626.5 L754.8,629.1 L756.5,633.8 L758.2,637.9 L760.0,645.1 L761.7,642.1 L763.4,636.4 L765.1,634.2 L766.9,634.6 L768.6,637.1 L770.3,638.4 L772.1,646.3 L773.8,651.7 L775.5,656.3 L777.3,657.7 L779.0,661.1 L780.7,661.1 L782.5,661.1 L784.2,660.2 L785.9,658.5 L787.6,663.0 L789.4,666.4 L791.1,669.6 L792.8,674.0 L794.6,678.1 L796.3,677.2 L798.0,673.9 L799.8,672.8 L801.5,666.5 L803.2,662.5 L805.0,657.0 L806.7,657.7 L808.4,659.7 L810.2,659.6 L811.9,665.6 L813.6,670.2 L815.3,676.1 L817.1,678.8 L818.8,679.5 L820.5,679.0 L822.3,677.7 L824.0,675.9 L825.7,675.1 L827.5,678.8 L829.2,683.6 L830.9,685.8 L832.7,693.7 L834.4,698.3 L836.1,701.1 L837.9,702.0 L839.6,701.9 L841.3,697.1 L843.0,694.0 L844.8,688.7 L846.5,684.3 L848.2,685.1 L850.0,683.7 L851.7,685.2 L853.4,691.4 L855.2,693.7 L856.9,696.8 L858.6,697.1 L860.4,697.4 L862.1,699.2 L863.8,699.8 L865.6,699.9 L867.3,708.9 L869.0,713.1 L870.7,719.9 L872.5,729.2 L874.2,738.0 L875.9,744.3 L877.7,746.3 L879.4,747.2 L881.1,747.9 L882.9,742.6 L884.6,738.0 L886.3,735.3 L888.1,732.2 L889.8,730.6 L891.5,733.3 L893.3,735.0 L895.0,740.2 L896.7,740.9 L898.4,738.0 L900.2,737.1 L901.9,734.6 L903.6,731.3 L905.4,725.7 L907.1,723.6 L908.8,722.5 L910.6,721.0 L912.3,722.5 L914.0,724.2 L915.8,728.4 L917.5,730.6 L919.2,729.7 L920.9,730.9 L922.7,727.0 L924.4,723.7 L926.1,721.8 L927.9,718.3 L929.6,717.6 L931.3,715.4 L933.1,713.8 L934.8,713.2 L936.5,709.6 L938.3,711.8 L940.0,710.2 L941.7,711.3 L943.5,711.7 L945.2,711.9 L946.9,711.6 L948.6,713.6 L950.4,711.9 L952.1,711.6 L953.8,707.4 L955.6,704.3 L957.3,701.8 L959.0,690.2 L960.8,678.1 L962.5,671.3 L964.2,666.5 L966.0,668.4 L967.7,672.4 L969.4,678.6 L971.2,688.4 L972.9,693.7 L974.6,696.8 L976.3,691.1 L978.1,686.8 L979.8,680.6 L981.5,672.9 L983.3,671.3 L985.0,672.2 L986.7,674.8 L988.5,675.0 L988.5,739.6 L986.7,739.6 L985.0,736.0 L983.3,732.3 L981.5,727.5 L979.8,729.2 L978.1,734.5 L976.3,740.2 L974.6,737.8 L972.9,734.3 L971.2,730.2 L969.4,724.3 L967.7,717.6 L966.0,712.5 L964.2,713.9 L962.5,714.2 L960.8,728.0 L959.0,741.2 L957.3,750.7 L955.6,755.5 L953.8,763.0 L952.1,763.8 L950.4,763.4 L948.6,761.0 L946.9,762.1 L945.2,763.6 L943.5,765.0 L941.7,762.3 L940.0,756.6 L938.3,753.6 L936.5,755.3 L934.8,756.1 L933.1,760.4 L931.3,761.4 L929.6,764.4 L927.9,767.8 L926.1,771.6 L924.4,778.6 L922.7,779.1 L920.9,776.3 L919.2,772.5 L917.5,768.3 L915.8,766.3 L914.0,763.8 L912.3,763.7 L910.6,767.6 L908.8,769.7 L907.1,777.3 L905.4,780.9 L903.6,785.8 L901.9,787.2 L900.2,787.3 L898.4,785.6 L896.7,785.4 L895.0,780.8 L893.3,779.2 L891.5,777.1 L889.8,774.9 L888.1,771.8 L886.3,775.0 L884.6,780.1 L882.9,786.8 L881.1,790.9 L879.4,796.1 L877.7,799.6 L875.9,796.8 L874.2,792.8 L872.5,790.1 L870.7,780.6 L869.0,772.3 L867.3,762.9 L865.6,753.1 L863.8,747.8 L862.1,743.5 L860.4,743.4 L858.6,747.1 L856.9,745.4 L855.2,745.7 L853.4,744.6 L851.7,744.6 L850.0,746.4 L848.2,745.5 L846.5,746.9 L844.8,744.8 L843.0,746.3 L841.3,752.9 L839.6,756.9 L837.9,755.4 L836.1,753.7 L834.4,747.8 L832.7,743.1 L830.9,736.9 L829.2,731.8 L827.5,728.4 L825.7,724.7 L824.0,722.9 L822.3,725.1 L820.5,724.6 L818.8,728.0 L817.1,728.0 L815.3,728.8 L813.6,725.9 L811.9,722.7 L810.2,719.5 L808.4,716.0 L806.7,713.5 L805.0,710.4 L803.2,716.2 L801.5,722.9 L799.8,727.8 L798.0,731.7 L796.3,736.7 L794.6,736.2 L792.8,730.1 L791.1,722.8 L789.4,718.8 L787.6,714.1 L785.9,710.7 L784.2,708.5 L782.5,713.0 L780.7,716.4 L779.0,709.9 L777.3,705.2 L775.5,697.4 L773.8,692.9 L772.1,690.3 L770.3,688.2 L768.6,685.9 L766.9,683.0 L765.1,682.2 L763.4,683.9 L761.7,687.2 L760.0,690.8 L758.2,686.0 L756.5,684.1 L754.8,679.0 L753.0,677.2 L751.3,674.9 L749.6,674.1 L747.8,672.9 L746.1,670.9 L744.4,671.8 L742.6,671.2 L740.9,669.5 L739.2,669.9 L737.4,668.3 L735.7,664.8 L734.0,663.5 L732.3,664.9 L730.5,665.2 L728.8,667.8 L727.1,671.7 L725.3,676.7 L723.6,680.9 L721.9,684.6 L720.1,685.9 L718.4,683.2 L716.7,677.4 L714.9,671.3 L713.2,666.6 L711.5,660.8 L709.7,661.6 L708.0,658.6 L706.3,658.4 L704.6,658.9 L702.8,661.0 L701.1,659.4 L699.4,658.9 L697.6,658.2 L695.9,657.1 L694.2,656.5 L692.4,651.3 L690.7,649.6 L689.0,648.6 L687.2,644.1 L685.5,642.2 L683.8,642.5 L682.0,642.2 L680.3,642.6 L678.6,647.7 L676.9,651.7 L675.1,655.2 L673.4,650.9 L671.7,646.2 L669.9,644.0 L668.2,643.1 L666.5,641.0 L664.7,641.7 L663.0,646.0 L661.3,649.4 L659.5,654.8 L657.8,660.6 L656.1,660.8 L654.3,657.6 L652.6,655.1 L650.9,655.2 L649.2,654.1 L647.4,656.2 L645.7,659.7 L644.0,667.1 L642.2,671.1 L640.5,675.9 L638.8,681.5 L637.0,680.0 L635.3,675.5 L633.6,673.4 L631.8,667.4 L630.1,667.4 L628.4,664.4 L626.7,665.0 L624.9,665.7 L623.2,667.8 L621.5,668.4 L619.7,671.0 L618.0,674.1 L616.3,676.2 L614.5,672.3 L612.8,671.4 L611.1,669.7 L609.3,666.6 L607.6,666.0 L605.9,665.7 L604.1,671.3 L602.4,677.3 L600.7,683.0 L599.0,686.5 L597.2,690.4 L595.5,689.5 L593.8,687.3 L592.0,688.7 L590.3,689.6 L588.6,694.7 L586.8,698.9 L585.1,702.3 L583.4,705.7 L581.6,706.9 L579.9,710.4 L578.2,710.0 L576.4,709.0 L574.7,707.7 L573.0,706.9 L571.3,705.7 L569.5,702.8 L567.8,701.1 L566.1,701.7 L564.3,702.7 L562.6,707.2 L560.9,710.7 L559.1,715.3 L557.4,716.8 L555.7,715.6 L553.9,711.5 L552.2,708.2 L550.5,710.5 L548.7,712.5 L547.0,716.0 L545.3,720.3 L543.6,723.4 L541.8,727.1 L540.1,730.0 L538.4,730.0 L536.6,725.5 L534.9,720.3 L533.2,718.7 L531.4,719.3 L529.7,717.2 L528.0,716.9 L526.2,718.3 L524.5,716.2 L522.8,717.9 L521.0,720.8 L519.3,723.5 L517.6,726.2 L515.9,728.9 L514.1,730.1 L512.4,729.6 L510.7,730.1 L508.9,729.8 L507.2,728.3 L505.5,726.6 L503.7,725.9 L502.0,728.2 L500.3,733.9 L498.5,736.3 L496.8,732.3 L495.1,729.7 L493.4,726.6 L491.6,721.0 L489.9,722.0 L488.2,726.8 L486.4,729.2 L484.7,736.7 L483.0,743.4 L481.2,750.8 L479.5,761.4 L477.8,759.5 L476.0,752.7 L474.3,745.5 L472.6,735.9 L470.8,731.1 L469.1,726.0 L467.4,722.7 L465.7,721.0 L463.9,722.8 L462.2,725.1 L460.5,730.6 L458.7,733.5 L457.0,737.1 L455.3,738.8 L453.5,729.4 L451.8,721.5 L450.1,717.6 L448.3,726.0 L446.6,727.0 L444.9,725.9 L443.1,726.5 L441.4,728.3 L439.7,734.8 L438.0,739.5 L436.2,734.8 L434.5,729.6 L432.8,723.0 L431.0,720.7 L429.3,720.1 L427.6,720.1 L425.8,717.8 L424.1,717.0 L422.4,714.9 L420.6,713.1 L418.9,715.8 L417.2,714.8 L415.4,716.6 L413.7,719.7 L412.0,721.0 L410.3,726.3 L408.5,732.3 L406.8,738.0 L405.1,746.5 L403.3,751.2 L401.6,756.2 L399.9,749.5 L398.1,744.8 L396.4,751.5 L394.7,754.9 L392.9,753.4 L391.2,751.6 L389.5,747.9 L387.7,744.5 L386.0,741.3 L384.3,737.4 L382.6,729.9 L380.8,721.3 L379.1,714.1 L377.4,706.9 L375.6,702.2 L373.9,701.3 L372.2,696.0 L370.4,695.6 L368.7,698.2 L367.0,697.2 L365.2,696.8 L363.5,697.5 L361.8,695.0 L360.1,694.5 L358.3,692.8 L356.6,692.4 L354.9,691.3 L353.1,689.7 L351.4,686.2 L349.7,687.2 L347.9,690.5 L346.2,695.1 L344.5,699.2 L342.7,696.0 L341.0,697.2 L339.3,694.6 L337.5,692.5 L335.8,692.6 L334.1,692.3 L332.4,696.4 L330.6,699.8 L328.9,705.6 L327.2,710.7 L325.4,714.9 L323.7,720.9 L322.0,724.1 L320.2,728.4 L318.5,725.3 L316.8,722.1 L315.0,713.8 L313.3,705.2 L311.6,700.2 L309.8,697.9 L308.1,697.4 L306.4,699.5 L304.7,701.4 L302.9,706.3 L301.2,707.8 L299.5,711.0 L297.7,714.2 L296.0,709.2 L294.3,707.4 L292.5,703.6 L290.8,701.3 L289.1,706.9 L287.3,714.7 L285.6,727.6 L283.9,744.5 L282.1,754.8 L280.4,760.2 L278.7,757.6 L277.0,753.0 L275.2,746.4 L273.5,739.7 Z" fill="#d95f02" fill-opacity="0.3" stroke="none"/>
<path d="M273.5,565.6 L275.2,571.7 L277.0,577.6 L278.7,586.5 L280.4,595.8 L282.1,602.0 L283.9,608.4 L285.6,617.3 L287.3,614.1 L289.1,606.6 L290.8,603.3 L292.5,599.1 L294.3,597.6 L296.0,595.0 L297.7,595.0 L299.5,593.1 L301.2,595.4 L302.9,597.8 L304.7,600.2 L306.4,606.6 L308.1,610.3 L309.8,606.2 L311.6,606.3 L313.3,610.1 L315.0,613.6 L316.8,616.9 L318.5,622.0 L320.2,623.4 L322.0,625.5 L323.7,623.9 L325.4,621.4 L327.2,619.9 L328.9,616.8 L330.6,616.9 L332.4,614.7 L334.1,615.0 L335.8,613.5 L337.5,609.4 L339.3,607.8 L341.0,605.5 L342.7,603.7 L344.5,597.7 L346.2,592.5 L347.9,585.8 L349.7,583.6 L351.4,580.3 L353.1,582.6 L354.9,586.8 L356.6,591.4 L358.3,597.5 L360.1,602.1 L361.8,606.7 L363.5,609.9 L365.2,607.5 L367.0,599.0 L368.7,590.9 L370.4,587.8 L372.2,583.8 L373.9,582.5 L375.6,580.5 L377.4,583.2 L379.1,584.0 L380.8,593.2 L382.6,600.5 L384.3,606.3 L386.0,611.7 L387.7,620.2 L389.5,622.9 L391.2,621.5 L392.9,624.9 L394.7,623.1 L396.4,621.5 L398.1,621.0 L399.9,622.0 L401.6,621.9 L403.3,618.8 L405.1,618.4 L406.8,614.5 L408.5,614.1 L410.3,609.0 L412.0,606.8 L413.7,603.4 L415.4,599.1 L417.2,598.2 L418.9,598.3 L420.6,599.8 L422.4,603.2 L424.1,601.9 L425.8,602.8 L427.6,604.7 L429.3,608.3 L431.0,610.0 L432.8,612.8 L434.5,618.8 L436.2,620.6 L438.0,624.9 L439.7,626.1 L441.4,626.0 L443.1,627.6 L444.9,628.0 L446.6,628.3 L448.3,628.2 L450.1,628.1 L451.8,628.3 L453.5,629.2 L455.3,627.9 L457.0,627.7 L458.7,628.4 L460.5,625.8 L462.2,624.8 L463.9,625.7 L465.7,623.2 L467.4,622.6 L469.1,620.4 L470.8,621.0 L472.6,620.9 L474.3,618.6 L476.0,619.5 L477.8,618.7 L479.5,616.3 L481.2,617.6 L483.0,616.7 L484.7,618.5 L486.4,619.7 L488.2,622.9 L489.9,624.2 L491.6,623.0 L493.4,623.9 L495.1,626.6 L496.8,627.6 L498.5,624.1 L500.3,623.4 L502.0,621.8 L503.7,618.1 L505.5,617.0 L507.2,619.4 L508.9,622.2 L510.7,625.3 L512.4,626.6 L514.1,629.0 L515.9,634.6 L517.6,639.2 L519.3,644.3 L521.0,640.1 L522.8,634.0 L524.5,630.7 L526.2,632.1 L528.0,630.1 L529.7,629.6 L531.4,629.9 L533.2,630.3 L534.9,628.0 L536.6,628.3 L538.4,627.9 L540.1,628.9 L541.8,626.9 L543.6,627.3 L545.3,624.4 L547.0,624.0 L548.7,624.1 L550.5,623.9 L552.2,621.8 L553.9,620.2 L555.7,619.0 L557.4,619.4 L559.1,617.5 L560.9,618.6 L562.6,618.3 L564.3,615.9 L566.1,615.8 L567.8,616.9 L569.5,616.0 L571.3,616.7 L573.0,616.2 L574.7,616.4 L576.4,617.8 L578.2,620.2 L579.9,619.5 L581.6,619.3 L583.4,618.6 L585.1,617.8 L586.8,613.6 L588.6,610.3 L590.3,603.1 L592.0,597.8 L593.8,595.8 L595.5,590.8 L597.2,586.2 L599.0,579.0 L600.7,574.5 L602.4,568.4 L604.1,561.2 L605.9,558.1 L607.6,557.3 L609.3,559.4 L611.1,561.6 L612.8,565.0 L614.5,570.4 L616.3,575.2 L618.0,575.8 L619.7,576.5 L621.5,574.7 L623.2,574.1 L624.9,569.2 L626.7,569.1 L628.4,567.1 L630.1,566.4 L631.8,565.1 L633.6,562.8 L635.3,559.5 L637.0,559.8 L638.8,565.0 L640.5,566.3 L642.2,568.6 L644.0,571.4 L645.7,572.7 L647.4,575.0 L649.2,579.1 L650.9,580.6 L652.6,580.6 L654.3,581.2 L656.1,583.3 L657.8,579.5 L659.5,577.9 L661.3,574.2 L663.0,572.0 L664.7,571.3 L666.5,570.4 L668.2,566.7 L669.9,566.9 L671.7,565.1 L673.4,562.2 L675.1,559.6 L676.9,555.3 L678.6,555.9 L680.3,555.3 L682.0,553.3 L683.8,555.3 L685.5,556.6 L687.2,560.3 L689.0,563.5 L690.7,568.5 L692.4,575.1 L694.2,578.3 L695.9,583.7 L697.6,589.1 L699.4,592.7 L701.1,594.7 L702.8,599.6 L704.6,599.3 L706.3,595.7 L708.0,595.6 L709.7,593.5 L711.5,591.7 L713.2,590.1 L714.9,592.1 L716.7,593.6 L718.4,594.7 L720.1,595.5 L721.9,597.2 L723.6,597.9 L725.3,597.0 L727.1,595.3 L728.8,592.3 L730.5,590.2 L732.3,589.4 L734.0,592.2 L735.7,595.5 L737.4,598.7 L739.2,601.8 L740.9,607.4 L742.6,611.0 L744.4,613.0 L746.1,615.4 L747.8,618.0 L749.6,619.2 L751.3,618.9 L753.0,620.3 L754.8,620.2 L756.5,617.2 L758.2,618.9 L760.0,620.3 L761.7,619.2 L763.4,621.0 L765.1,621.7 L766.9,623.7 L768.6,623.8 L770.3,621.4 L772.1,622.3 L773.8,621.3 L775.5,618.0 L777.3,616.9 L779.0,614.2 L780.7,615.4 L782.5,614.1 L784.2,614.3 L785.9,616.3 L787.6,618.3 L789.4,622.7 L791.1,626.6 L792.8,629.5 L794.6,635.3 L796.3,637.9 L798.0,641.2 L799.8,638.5 L801.5,631.7 L803.2,627.5 L805.0,623.2 L806.7,621.9 L808.4,624.4 L810.2,628.5 L811.9,634.6 L813.6,635.9 L815.3,641.5 L817.1,642.7 L818.8,644.9 L820.5,646.9 L822.3,646.2 L824.0,647.3 L825.7,646.1 L827.5,652.2 L829.2,655.3 L830.9,660.0 L832.7,662.5 L834.4,668.7 L836.1,671.3 L837.9,666.9 L839.6,666.0 L841.3,664.5 L843.0,662.7 L844.8,658.4 L846.5,660.6 L848.2,666.9 L850.0,674.1 L851.7,683.3 L853.4,692.4 L855.2,702.4 L856.9,708.4 L858.6,709.5 L860.4,711.0 L862.1,711.3 L863.8,713.9 L865.6,719.4 L867.3,722.4 L869.0,728.0 L870.7,732.2 L872.5,740.3 L874.2,747.1 L875.9,748.5 L877.7,748.1 L879.4,748.0 L881.1,741.9 L882.9,733.3 L884.6,721.7 L886.3,716.6 L888.1,714.9 L889.8,716.8 L891.5,717.0 L893.3,717.6 L895.0,716.4 L896.7,712.7 L898.4,709.6 L900.2,702.3 L901.9,698.2 L903.6,693.1 L905.4,688.5 L907.1,688.1 L908.8,688.1 L910.6,685.2 L912.3,688.5 L914.0,690.2 L915.8,694.2 L917.5,691.9 L919.2,689.2 L920.9,687.2 L922.7,681.4 L924.4,677.6 L926.1,672.4 L927.9,669.2 L929.6,667.2 L931.3,665.3 L933.1,667.5 L934.8,666.5 L936.5,669.8 L938.3,668.8 L940.0,669.8 L941.7,669.9 L943.5,671.6 L945.2,672.7 L946.9,673.1 L948.6,674.0 L950.4,675.9 L952.1,677.1 L953.8,676.3 L955.6,677.9 L957.3,679.1 L959.0,677.6 L960.8,675.2 L962.5,673.4 L964.2,675.4 L966.0,679.6 L967.7,684.8 L969.4,687.6 L971.2,687.5 L972.9,689.0 L974.6,687.1 L976.3,681.7 L978.1,678.0 L979.8,670.6 L981.5,661.5 L983.3,652.6 L985.0,649.8 L986.7,644.9 L988.5,645.3 L988.5,708.4 L986.7,708.7 L985.0,711.8 L983.3,718.0 L981.5,721.5 L979.8,726.9 L978.1,733.6 L976.3,739.1 L974.6,743.0 L972.9,743.8 L971.2,742.1 L969.4,737.1 L967.7,736.1 L966.0,736.0 L964.2,735.8 L962.5,735.4 L960.8,735.1 L959.0,736.9 L957.3,739.6 L955.6,741.1 L953.8,742.2 L952.1,742.1 L950.4,742.8 L948.6,741.6 L946.9,741.9 L945.2,742.4 L943.5,740.3 L941.7,738.0 L940.0,736.8 L938.3,736.8 L936.5,737.6 L934.8,737.3 L933.1,738.8 L931.3,741.0 L929.6,745.0 L927.9,745.4 L926.1,749.8 L924.4,752.1 L922.7,754.0 L920.9,757.9 L919.2,758.6 L917.5,759.7 L915.8,761.1 L914.0,758.3 L912.3,758.8 L910.6,757.3 L908.8,753.8 L907.1,756.2 L905.4,757.9 L903.6,761.9 L901.9,765.1 L900.2,768.7 L898.4,770.5 L896.7,774.3 L895.0,779.0 L893.3,781.5 L891.5,780.1 L889.8,777.1 L888.1,774.6 L886.3,778.7 L884.6,779.9 L882.9,784.1 L881.1,790.2 L879.4,797.7 L877.7,801.3 L875.9,800.7 L874.2,794.0 L872.5,788.4 L870.7,784.4 L869.0,776.1 L867.3,766.7 L865.6,759.2 L863.8,756.9 L862.1,753.8 L860.4,753.8 L858.6,756.0 L856.9,757.8 L855.2,761.6 L853.4,759.9 L851.7,759.3 L850.0,756.3 L848.2,753.8 L846.5,748.8 L844.8,746.3 L843.0,742.4 L841.3,741.7 L839.6,742.2 L837.9,743.1 L836.1,746.5 L834.4,747.9 L832.7,749.2 L830.9,750.9 L829.2,748.3 L827.5,741.3 L825.7,736.8 L824.0,733.3 L822.3,734.0 L820.5,730.2 L818.8,730.8 L817.1,726.2 L815.3,724.7 L813.6,723.4 L811.9,717.7 L810.2,714.4 L808.4,709.2 L806.7,705.1 L805.0,702.0 L803.2,703.2 L801.5,705.4 L799.8,706.1 L798.0,708.2 L796.3,708.9 L794.6,711.6 L792.8,707.6 L791.1,705.2 L789.4,705.2 L787.6,703.7 L785.9,700.5 L784.2,698.4 L782.5,697.3 L780.7,696.7 L779.0,692.1 L777.3,688.8 L775.5,686.7 L773.8,682.5 L772.1,682.4 L770.3,678.2 L768.6,674.6 L766.9,672.9 L765.1,670.2 L763.4,673.0 L761.7,675.2 L760.0,675.8 L758.2,680.4 L756.5,683.9 L754.8,685.9 L753.0,685.2 L751.3,682.0 L749.6,680.1 L747.8,679.4 L746.1,676.2 L744.4,671.9 L742.6,668.1 L740.9,668.5 L739.2,665.1 L737.4,664.3 L735.7,662.8 L734.0,663.7 L732.3,663.4 L730.5,663.8 L728.8,662.1 L727.1,661.9 L725.3,661.9 L723.6,662.3 L721.9,660.0 L720.1,660.3 L718.4,660.2 L716.7,661.8 L714.9,660.7 L713.2,661.5 L711.5,660.6 L709.7,660.0 L708.0,657.8 L706.3,659.4 L704.6,658.1 L702.8,656.5 L701.1,656.1 L699.4,654.7 L697.6,656.2 L695.9,653.6 L694.2,652.2 L692.4,652.9 L690.7,649.3 L689.0,645.8 L687.2,641.8 L685.5,641.0 L683.8,637.5 L682.0,635.0 L680.3,632.3 L678.6,632.1 L676.9,630.3 L675.1,633.2 L673.4,633.4 L671.7,630.8 L669.9,629.8 L668.2,629.6 L666.5,632.0 L664.7,634.4 L663.0,636.9 L661.3,641.3 L659.5,645.0 L657.8,646.7 L656.1,647.6 L654.3,650.9 L652.6,653.1 L650.9,652.8 L649.2,650.3 L647.4,650.2 L645.7,651.2 L644.0,654.0 L642.2,653.4 L640.5,655.2 L638.8,654.6 L637.0,654.9 L635.3,650.8 L633.6,648.9 L631.8,647.5 L630.1,647.5 L628.4,645.3 L626.7,645.8 L624.9,648.2 L623.2,652.0 L621.5,656.9 L619.7,654.1 L618.0,655.2 L616.3,654.2 L614.5,649.7 L612.8,648.1 L611.1,643.8 L609.3,642.2 L607.6,640.1 L605.9,639.3 L604.1,643.2 L602.4,645.7 L600.7,648.9 L599.0,652.9 L597.2,657.7 L595.5,662.7 L593.8,668.0 L592.0,674.2 L590.3,680.4 L588.6,688.9 L586.8,695.8 L585.1,704.7 L583.4,706.5 L581.6,709.3 L579.9,711.8 L578.2,710.3 L576.4,707.5 L574.7,703.5 L573.0,698.3 L571.3,694.2 L569.5,691.1 L567.8,687.2 L566.1,686.2 L564.3,687.9 L562.6,689.7 L560.9,691.8 L559.1,692.5 L557.4,690.1 L555.7,688.7 L553.9,687.5 L552.2,685.2 L550.5,682.4 L548.7,683.8 L547.0,685.1 L545.3,686.8 L543.6,688.7 L541.8,691.5 L540.1,693.9 L538.4,691.2 L536.6,690.8 L534.9,689.6 L533.2,690.1 L531.4,689.6 L529.7,692.3 L528.0,695.7 L526.2,699.8 L524.5,702.0 L522.8,705.3 L521.0,705.8 L519.3,709.7 L517.6,711.9 L515.9,712.0 L514.1,713.6 L512.4,710.3 L510.7,706.9 L508.9,705.3 L507.2,703.4 L505.5,700.1 L503.7,699.5 L502.0,697.7 L500.3,694.1 L498.5,695.2 L496.8,694.2 L495.1,691.9 L493.4,690.4 L491.6,689.8 L489.9,688.2 L488.2,685.7 L486.4,686.0 L484.7,684.3 L483.0,684.5 L481.2,684.2 L479.5,683.5 L477.8,683.4 L476.0,683.2 L474.3,680.3 L472.6,681.9 L470.8,681.3 L469.1,683.8 L467.4,687.8 L465.7,689.0 L463.9,693.1 L462.2,696.8 L460.5,698.7 L458.7,701.4 L457.0,704.2 L455.3,707.7 L453.5,714.9 L451.8,720.3 L450.1,725.5 L448.3,724.5 L446.6,726.7 L444.9,725.2 L443.1,722.6 L441.4,720.9 L439.7,718.0 L438.0,714.9 L436.2,715.5 L434.5,714.8 L432.8,716.1 L431.0,722.2 L429.3,731.7 L427.6,733.7 L425.8,725.8 L424.1,718.2 L422.4,709.4 L420.6,700.6 L418.9,690.4 L417.2,681.3 L415.4,676.0 L413.7,671.4 L412.0,672.0 L410.3,677.6 L408.5,679.6 L406.8,681.5 L405.1,680.8 L403.3,680.4 L401.6,680.4 L399.9,681.9 L398.1,684.5 L396.4,684.3 L394.7,685.7 L392.9,684.3 L391.2,686.8 L389.5,683.1 L387.7,679.2 L386.0,676.1 L384.3,675.1 L382.6,672.7 L380.8,671.6 L379.1,672.8 L377.4,672.5 L375.6,674.6 L373.9,677.7 L372.2,680.9 L370.4,684.3 L368.7,685.0 L367.0,682.6 L365.2,680.3 L363.5,675.8 L361.8,670.9 L360.1,669.0 L358.3,663.4 L356.6,662.9 L354.9,661.5 L353.1,657.3 L351.4,660.8 L349.7,663.4 L347.9,664.6 L346.2,667.5 L344.5,669.6 L342.7,671.1 L341.0,668.3 L339.3,667.0 L337.5,664.2 L335.8,664.1 L334.1,663.1 L332.4,662.6 L330.6,662.9 L328.9,664.2 L327.2,668.6 L325.4,670.9 L323.7,672.4 L322.0,672.7 L320.2,675.5 L318.5,675.4 L316.8,670.8 L315.0,669.0 L313.3,663.0 L311.6,664.3 L309.8,664.3 L308.1,661.9 L306.4,666.2 L304.7,668.5 L302.9,671.5 L301.2,675.6 L299.5,673.7 L297.7,674.1 L296.0,671.6 L294.3,668.4 L292.5,666.7 L290.8,663.9 L289.1,663.3 L287.3,663.5 L285.6,665.8 L283.9,664.9 L282.1,663.5 L280.4,662.6 L278.7,661.3 L277.0,655.6 L275.2,652.1 L273.5,651.2 Z" fill="#1b9e77" fill-opacity="0.3" stroke="none"/>
<path d="M273.5,613.1 C273.9,613.5 275.3,614.1 276.1,615.1 C276.9,616.1 277.4,617.3 278.1,619.0 C278.7,620.8 279.4,623.2 280.0,625.6 C280.7,627.9 281.3,630.6 282.0,633.4 C282.6,636.2 283.3,640.0 283.9,642.5 C284.6,645.0 285.3,647.7 285.9,648.4 C286.6,649.2 287.2,648.1 287.9,647.1 C288.5,646.1 289.1,644.2 289.8,642.5 C290.6,640.9 291.5,638.6 292.4,637.3 C293.4,636.0 294.6,635.8 295.7,634.7 C296.8,633.6 298.0,630.8 299.0,630.5 C299.9,630.2 300.7,631.7 301.6,632.7 C302.5,633.8 303.3,635.5 304.2,636.7 C305.1,637.9 305.9,639.3 306.8,639.9 C307.7,640.6 308.7,640.4 309.4,640.6 C310.2,640.8 310.6,641.2 311.4,641.2 C312.1,641.2 313.1,639.9 314.0,640.6 C314.9,641.2 315.7,643.5 316.6,645.1 C317.5,646.8 318.5,649.3 319.2,650.4 C320.0,651.5 320.5,651.7 321.2,651.7 C321.8,651.7 322.5,650.7 323.1,650.4 C323.8,650.0 324.4,650.4 325.1,649.7 C325.8,649.1 326.3,647.9 327.1,646.5 C327.8,645.0 328.8,642.8 329.7,641.2 C330.5,639.7 331.4,637.8 332.3,637.0 C333.2,636.3 334.0,636.4 334.9,636.7 C335.8,636.9 336.6,638.4 337.5,638.6 C338.4,638.8 339.1,638.2 340.1,638.0 C341.1,637.7 342.3,638.0 343.4,637.3 C344.5,636.7 345.7,635.5 346.7,634.0 C347.6,632.6 348.4,630.5 349.3,628.8 C350.1,627.2 351.0,625.2 351.9,624.2 C352.8,623.3 353.6,622.9 354.5,622.9 C355.4,622.9 356.2,623.3 357.1,624.2 C358.0,625.2 358.9,626.9 359.7,628.8 C360.6,630.8 361.5,633.9 362.3,636.0 C363.2,638.1 364.1,640.5 364.9,641.2 C365.8,642.0 366.7,641.6 367.6,640.6 C368.4,639.6 369.3,637.1 370.2,635.4 C371.0,633.6 371.9,631.6 372.8,630.1 C373.7,628.6 374.5,627.2 375.4,626.2 C376.3,625.2 377.3,624.1 378.0,624.2 C378.8,624.4 379.3,625.3 380.0,626.9 C380.6,628.4 381.2,631.0 381.9,633.4 C382.7,635.8 383.7,638.7 384.5,641.2 C385.4,643.7 386.4,646.7 387.2,648.4 C387.9,650.2 388.5,651.6 389.1,651.7 C389.8,651.8 390.4,649.8 391.1,649.1 C391.7,648.3 392.4,647.5 393.0,647.1 C393.7,646.7 394.5,646.8 395.0,646.5 C395.5,646.1 395.2,644.9 395.9,645.1 C396.6,645.4 398.2,647.1 399.1,647.8 C400.1,648.4 401.0,648.1 401.8,649.1 C402.5,650.0 403.1,652.7 403.7,653.6 C404.4,654.6 404.9,655.3 405.7,654.9 C406.4,654.6 407.4,653.5 408.3,651.7 C409.2,649.8 410.0,646.3 410.9,643.8 C411.8,641.3 412.8,638.4 413.5,636.7 C414.3,634.9 414.8,633.5 415.5,633.4 C416.1,633.3 416.8,634.3 417.4,636.0 C418.1,637.7 418.7,640.8 419.4,643.8 C420.0,646.9 420.7,651.0 421.4,654.3 C422.0,657.6 422.7,660.9 423.3,663.4 C424.0,665.9 424.5,668.4 425.3,669.3 C426.0,670.2 427.0,669.2 427.9,668.7 C428.8,668.1 429.6,666.8 430.5,666.1 C431.4,665.3 432.2,664.5 433.1,664.1 C434.0,663.7 434.9,663.1 435.7,663.4 C436.6,663.8 437.5,665.0 438.3,666.1 C439.2,667.1 440.1,668.4 441.0,670.0 C441.8,671.5 442.8,673.2 443.6,675.2 C444.3,677.2 444.8,679.7 445.5,681.7 C446.3,683.8 447.4,687.0 448.1,687.6 C448.9,688.3 449.3,686.8 450.1,685.7 C450.9,684.5 451.8,681.9 452.7,680.4 C453.6,678.9 454.5,678.0 455.3,676.5 C456.2,675.0 457.2,673.5 457.9,671.3 C458.7,669.1 459.2,665.2 459.9,663.4 C460.6,661.7 461.0,661.5 461.9,660.8 C462.7,660.2 464.0,660.2 465.1,659.5 C466.2,658.9 467.4,658.1 468.4,656.9 C469.4,655.7 470.1,653.6 471.0,652.3 C471.9,651.0 472.7,650.3 473.6,649.1 C474.5,647.9 475.5,646.0 476.2,645.1 C477.0,644.3 477.5,643.4 478.2,643.8 C478.8,644.3 479.4,646.9 480.1,647.8 C480.9,648.6 481.9,648.2 482.8,649.1 C483.6,649.9 484.5,651.6 485.4,653.0 C486.2,654.4 487.1,657.1 488.0,657.6 C488.9,658.0 489.7,656.4 490.6,655.6 C491.5,654.8 492.3,653.1 493.2,653.0 C494.1,652.9 495.0,654.3 495.8,654.9 C496.7,655.6 497.6,656.1 498.4,656.9 C499.3,657.7 500.2,659.2 501.1,659.5 C501.9,659.8 502.8,658.2 503.7,658.9 C504.5,659.5 505.4,662.0 506.3,663.4 C507.2,664.9 508.0,666.1 508.9,667.4 C509.8,668.7 510.6,670.0 511.5,671.3 C512.4,672.6 513.2,674.2 514.1,675.2 C515.0,676.2 515.8,677.2 516.7,677.2 C517.7,677.2 519.3,676.4 520.0,675.2 C520.7,674.0 520.3,671.7 520.9,670.0 C521.5,668.2 522.5,666.3 523.5,664.7 C524.5,663.2 525.7,661.9 526.8,660.8 C527.8,659.7 528.9,658.9 530.0,658.2 C531.1,657.6 532.3,656.6 533.3,656.9 C534.3,657.2 535.0,660.0 535.9,660.2 C536.8,660.4 537.6,658.9 538.5,658.2 C539.4,657.6 540.2,656.8 541.1,656.3 C542.1,655.7 543.3,655.3 544.4,654.9 C545.5,654.6 546.6,654.5 547.7,654.3 C548.8,654.1 549.9,653.9 550.9,653.6 C551.9,653.4 552.8,652.8 553.5,653.0 C554.3,653.2 554.7,654.2 555.5,654.9 C556.3,655.7 557.2,657.2 558.1,657.6 C559.0,657.9 559.9,657.5 560.7,656.9 C561.6,656.4 562.5,655.3 563.3,654.3 C564.2,653.3 565.1,652.2 566.0,651.0 C566.8,649.8 567.8,647.9 568.6,647.1 C569.3,646.3 569.9,646.2 570.5,646.5 C571.2,646.7 571.8,647.1 572.5,648.4 C573.1,649.7 573.9,652.0 574.4,654.3 C575.0,656.6 575.3,659.7 575.8,662.1 C576.2,664.5 576.5,667.1 577.1,668.7 C577.6,670.2 578.3,670.8 579.0,671.3 C579.8,671.7 580.9,671.7 581.6,671.3 C582.4,670.8 582.9,670.6 583.6,668.7 C584.2,666.7 585.0,662.8 585.6,659.5 C586.1,656.3 586.4,651.9 586.9,649.1 C587.3,646.2 587.6,644.1 588.2,642.5 C588.7,641.0 589.4,640.6 590.1,639.9 C590.9,639.3 591.9,639.4 592.7,638.6 C593.6,637.9 594.5,636.7 595.4,635.4 C596.2,634.0 597.2,632.6 598.0,630.8 C598.7,628.9 599.3,626.6 599.9,624.2 C600.6,621.8 601.2,619.2 601.9,616.4 C602.5,613.6 603.2,610.3 603.8,607.3 C604.5,604.2 605.1,600.0 605.8,598.1 C606.5,596.2 607.0,596.1 607.8,595.8 C608.5,595.4 609.6,596.2 610.4,596.2 C611.1,596.1 611.7,595.2 612.3,595.5 C613.0,595.8 613.8,596.6 614.3,598.1 C614.8,599.6 615.2,602.3 615.6,604.6 C616.0,607.0 616.4,610.3 616.9,612.5 C617.5,614.7 618.2,616.5 618.9,617.7 C619.5,618.9 620.1,619.6 620.8,619.7 C621.6,619.8 622.6,618.9 623.4,618.4 C624.3,617.8 625.4,617.4 626.1,616.4 C626.7,615.4 626.9,614.4 627.4,612.5 C627.8,610.5 628.2,607.0 628.7,604.6 C629.1,602.3 629.4,599.5 630.0,598.1 C630.5,596.8 631.2,596.8 631.9,596.5 C632.7,596.3 633.7,596.3 634.5,596.8 C635.4,597.3 636.4,598.0 637.2,599.4 C637.9,600.8 638.5,603.8 639.1,605.3 C639.8,606.8 640.4,607.7 641.1,608.6 C641.7,609.4 642.4,610.1 643.0,610.5 C643.7,611.0 644.2,610.4 645.0,611.2 C645.8,611.9 646.9,614.3 647.8,615.1 C648.7,615.9 649.6,615.3 650.5,615.8 C651.3,616.2 652.2,617.2 653.1,617.7 C653.9,618.3 654.8,619.3 655.7,619.0 C656.5,618.7 657.4,617.3 658.3,615.8 C659.2,614.2 660.0,611.8 660.9,609.9 C661.8,607.9 662.6,605.5 663.5,604.0 C664.4,602.5 665.3,601.3 666.1,600.7 C667.0,600.2 667.9,600.4 668.7,600.7 C669.6,601.1 670.5,602.7 671.4,602.7 C672.2,602.7 673.2,601.6 674.0,600.7 C674.7,599.9 675.2,598.2 675.9,597.5 C676.7,596.8 677.7,596.7 678.5,596.5 C679.4,596.4 680.3,596.4 681.2,596.5 C682.0,596.7 682.9,596.8 683.8,597.5 C684.6,598.2 685.5,599.3 686.4,600.7 C687.3,602.1 688.1,604.2 689.0,606.0 C689.9,607.7 690.7,609.3 691.6,611.2 C692.5,613.0 693.3,615.3 694.2,617.1 C695.1,618.8 696.0,620.4 696.8,621.6 C697.7,622.8 698.6,623.5 699.4,624.2 C700.3,625.0 701.2,626.4 702.1,626.2 C702.9,626.0 703.8,624.1 704.7,622.9 C705.5,621.7 706.4,619.5 707.3,619.0 C708.2,618.6 709.0,619.9 709.9,620.3 C710.8,620.8 711.6,621.3 712.5,621.6 C713.4,622.0 714.4,621.5 715.1,622.3 C715.9,623.0 716.4,624.8 717.1,626.2 C717.7,627.6 718.4,629.8 719.0,630.8 C719.7,631.8 720.2,632.2 721.0,632.1 C721.8,632.0 722.7,630.3 723.6,630.1 C724.5,629.9 725.4,631.2 726.2,630.8 C727.1,630.3 728.0,628.3 728.8,627.5 C729.7,626.7 730.6,626.3 731.5,626.2 C732.3,626.1 733.1,626.5 734.1,626.9 C735.0,627.2 736.5,627.3 737.3,628.2 C738.2,629.0 738.6,630.6 739.3,632.1 C739.9,633.6 740.6,635.7 741.3,637.3 C741.9,638.9 742.6,640.6 743.2,641.9 C743.9,643.2 744.5,644.1 745.2,645.1 C745.8,646.2 746.4,647.5 747.1,648.4 C747.9,649.3 748.9,650.2 749.7,650.4 C750.6,650.6 751.5,650.3 752.4,649.7 C753.2,649.2 754.1,647.7 755.0,647.1 C755.8,646.6 756.8,646.8 757.6,646.5 C758.3,646.1 758.9,645.0 759.5,645.1 C760.2,645.3 760.7,646.2 761.5,647.1 C762.3,648.0 763.2,649.5 764.1,650.4 C765.0,651.2 765.8,651.9 766.7,652.3 C767.7,652.8 768.9,652.5 770.0,653.0 C771.1,653.5 772.5,655.0 773.5,655.5 C774.5,656.0 775.2,656.3 776.1,656.1 C777.0,655.9 777.8,654.8 778.7,654.2 C779.6,653.5 780.5,652.9 781.3,652.2 C782.2,651.6 783.2,650.4 783.9,650.3 C784.7,650.1 785.3,650.6 785.9,651.6 C786.6,652.5 787.2,654.4 787.9,656.1 C788.5,657.9 789.2,660.0 789.8,662.0 C790.5,664.0 791.1,666.3 791.8,667.9 C792.4,669.5 793.0,670.7 793.7,671.8 C794.5,672.9 795.5,673.8 796.4,674.4 C797.2,675.1 798.2,676.2 799.0,675.7 C799.7,675.3 800.3,673.8 800.9,671.8 C801.6,669.8 802.2,666.6 802.9,664.0 C803.5,661.4 804.2,658.0 804.8,656.1 C805.5,654.3 806.2,653.0 806.8,652.9 C807.5,652.8 808.1,654.4 808.8,655.5 C809.4,656.6 810.1,657.8 810.7,659.4 C811.4,661.0 812.0,663.2 812.7,665.3 C813.3,667.3 814.0,670.0 814.6,671.8 C815.3,673.7 816.0,675.2 816.6,676.4 C817.3,677.6 817.8,678.3 818.6,679.0 C819.3,679.6 820.4,679.6 821.2,680.3 C821.9,681.0 822.5,681.9 823.1,682.9 C823.8,683.9 824.4,684.8 825.1,686.2 C825.8,687.6 826.5,689.4 827.1,691.4 C827.6,693.4 827.8,696.0 828.4,697.9 C828.9,699.9 829.7,701.4 830.3,703.2 C831.0,704.9 831.6,706.6 832.3,708.4 C832.9,710.1 833.6,712.4 834.2,713.6 C834.9,714.8 835.6,715.6 836.2,715.6 C836.9,715.6 837.5,715.0 838.2,713.6 C838.8,712.2 839.6,709.5 840.1,707.1 C840.7,704.7 841.0,701.3 841.4,699.2 C841.9,697.2 842.2,695.3 842.7,694.7 C843.3,694.0 844.0,694.8 844.7,695.3 C845.4,695.9 846.0,697.0 846.7,697.9 C847.3,698.9 848.0,699.7 848.6,701.2 C849.3,702.7 850.0,704.8 850.6,707.1 C851.1,709.4 851.4,712.3 851.9,714.9 C852.3,717.5 852.6,720.8 853.2,722.8 C853.7,724.7 854.5,726.1 855.1,726.7 C855.8,727.2 856.5,726.9 857.1,726.0 C857.8,725.2 858.4,723.0 859.1,721.5 C859.7,719.9 860.4,718.0 861.0,716.9 C861.7,715.8 862.3,715.1 863.0,714.9 C863.6,714.7 864.3,714.7 864.9,715.6 C865.6,716.4 866.3,717.9 866.9,720.1 C867.6,722.4 868.2,726.0 868.9,729.3 C869.5,732.6 870.2,736.0 870.8,739.7 C871.5,743.4 872.2,747.8 872.8,751.5 C873.3,755.2 873.7,758.7 874.1,762.0 C874.5,765.2 875.0,768.5 875.4,771.1 C875.8,773.7 876.2,776.5 876.7,777.6 C877.3,778.7 878.0,779.2 878.7,777.6 C879.3,776.1 880.0,771.8 880.6,768.5 C881.3,765.2 881.9,761.1 882.6,758.0 C883.2,755.0 883.9,752.2 884.5,750.2 C885.2,748.2 885.7,747.0 886.5,746.3 C887.3,745.5 888.2,745.3 889.1,745.6 C890.0,746.0 891.0,747.3 891.7,748.2 C892.5,749.2 893.1,750.9 893.7,751.5 C894.2,752.2 894.4,751.8 895.0,752.2 C895.6,752.5 896.3,754.4 897.0,753.5 C897.7,752.5 898.3,749.0 899.0,746.3 C899.6,743.6 900.3,740.0 900.9,737.1 C901.6,734.3 902.2,731.7 902.9,729.3 C903.5,726.9 904.2,724.5 904.8,722.8 C905.5,721.0 906.2,719.9 906.8,718.8 C907.5,717.8 908.1,716.2 908.8,716.2 C909.4,716.2 910.1,717.5 910.7,718.8 C911.4,720.1 912.0,722.5 912.7,724.1 C913.3,725.6 914.0,727.0 914.6,728.0 C915.3,729.0 915.8,729.5 916.6,729.9 C917.4,730.4 918.5,730.7 919.2,730.6 C920.0,730.5 920.5,730.4 921.2,729.3 C921.8,728.2 922.5,726.0 923.1,724.1 C923.8,722.1 924.4,720.1 925.1,717.5 C925.8,714.9 926.4,711.2 927.1,708.4 C927.7,705.6 928.4,702.2 929.0,700.6 C929.7,698.9 930.3,698.8 931.0,698.6 C931.6,698.4 932.3,699.2 932.9,699.2 C933.6,699.2 934.2,698.6 934.9,698.6 C935.6,698.6 936.2,698.5 936.9,699.2 C937.5,700.0 938.2,701.9 938.8,703.2 C939.5,704.5 940.0,706.2 940.8,707.1 C941.5,708.0 942.5,708.1 943.4,708.4 C944.3,708.7 945.1,709.0 946.0,709.0 C946.9,709.0 947.7,708.6 948.6,708.4 C949.5,708.2 950.4,707.7 951.2,707.7 C952.1,707.7 953.0,708.2 953.8,708.4 C954.7,708.6 955.6,709.3 956.5,709.0 C957.3,708.8 958.2,707.6 959.1,707.1 C959.9,706.5 960.8,706.0 961.7,705.8 C962.6,705.6 963.5,706.0 964.3,705.8 C965.1,705.6 965.6,704.3 966.3,704.5 C966.9,704.7 967.6,705.8 968.2,707.1 C968.9,708.4 969.5,710.4 970.2,712.3 C970.8,714.3 971.5,716.9 972.1,718.8 C972.8,720.8 973.5,723.6 974.1,724.1 C974.6,724.5 974.9,723.2 975.4,721.5 C975.9,719.7 976.7,716.4 977.4,713.6 C978.0,710.8 978.7,707.5 979.3,704.5 C980.0,701.4 980.7,698.4 981.3,695.3 C981.8,692.3 982.2,688.8 982.6,686.2 C983.0,683.6 983.3,681.1 983.9,679.6 C984.4,678.2 985.2,677.5 985.9,677.7 C986.5,677.9 987.4,679.8 987.8,681.0 C988.2,682.2 988.4,684.2 988.5,684.9" fill="none" stroke="#1b9e77" stroke-width="2.45" stroke-linejoin="round" stroke-linecap="butt"/>
<path d="M273.5,661.5 C273.8,662.7 274.8,666.2 275.5,668.7 C276.1,671.2 276.8,673.9 277.4,676.5 C278.1,679.1 278.7,682.4 279.4,684.3 C280.0,686.3 280.7,687.2 281.3,688.3 C282.0,689.4 282.7,690.3 283.3,690.9 C283.8,691.4 284.2,692.2 284.6,691.5 C285.0,690.9 285.5,689.5 285.9,687.0 C286.3,684.5 286.8,680.2 287.2,676.5 C287.6,672.8 288.1,668.4 288.5,664.7 C289.0,661.0 289.4,657.1 289.8,654.3 C290.3,651.5 290.6,649.3 291.1,647.8 C291.7,646.2 292.4,645.4 293.1,645.1 C293.7,644.9 294.4,644.9 295.0,646.5 C295.7,648.0 296.4,652.3 297.0,654.3 C297.7,656.3 298.3,656.9 299.0,658.2 C299.6,659.5 300.3,661.5 300.9,662.1 C301.6,662.8 302.1,662.6 302.9,662.1 C303.7,661.7 304.7,661.3 305.5,659.5 C306.3,657.8 306.9,654.5 307.5,651.7 C308.0,648.9 308.3,644.8 308.8,642.5 C309.2,640.2 309.5,638.8 310.1,638.0 C310.6,637.1 311.4,637.3 312.0,637.3 C312.7,637.3 313.4,636.9 314.0,638.0 C314.5,639.1 314.8,641.8 315.3,643.8 C315.8,645.9 316.6,648.3 317.3,650.4 C317.9,652.4 318.6,654.9 319.2,656.3 C319.9,657.6 320.5,658.5 321.2,658.2 C321.8,657.9 322.5,655.2 323.1,654.3 C323.8,653.4 324.4,653.4 325.1,653.0 C325.8,652.6 326.4,653.0 327.1,651.7 C327.7,650.4 328.4,647.1 329.0,645.1 C329.7,643.2 330.3,641.0 331.0,639.9 C331.6,638.8 332.3,638.3 332.9,638.6 C333.6,638.9 334.2,640.4 334.9,641.9 C335.6,643.4 336.2,645.7 336.9,647.8 C337.5,649.8 338.2,652.6 338.8,654.3 C339.5,656.0 340.0,657.5 340.8,658.2 C341.5,659.0 342.5,658.9 343.4,658.9 C344.3,658.9 345.1,658.5 346.0,658.2 C346.9,657.9 347.9,658.4 348.6,656.9 C349.4,655.4 350.0,651.1 350.6,649.1 C351.1,647.0 351.3,645.5 351.9,644.5 C352.4,643.5 353.2,642.4 353.8,643.2 C354.5,644.0 355.0,646.6 355.8,649.1 C356.6,651.6 357.5,655.4 358.4,658.2 C359.3,661.0 360.3,663.8 361.0,666.1 C361.8,668.3 362.3,670.6 363.0,671.9 C363.6,673.2 364.3,674.3 364.9,673.9 C365.6,673.5 366.3,671.7 366.9,669.3 C367.6,666.9 368.2,662.5 368.9,659.5 C369.5,656.6 370.2,653.5 370.8,651.7 C371.5,649.8 372.0,648.9 372.8,648.4 C373.5,648.0 374.6,648.5 375.4,649.1 C376.2,649.6 376.7,651.0 377.4,651.7 C378.0,652.3 378.8,651.7 379.3,653.0 C379.9,654.3 380.2,656.7 380.6,659.5 C381.1,662.4 381.4,666.3 381.9,670.0 C382.5,673.7 383.2,678.7 383.9,681.7 C384.5,684.8 385.1,686.5 385.9,688.3 C386.6,690.0 387.7,690.4 388.5,692.2 C389.2,693.9 389.8,696.9 390.4,698.7 C391.1,700.6 391.7,703.3 392.4,703.3 C393.0,703.3 393.9,699.9 394.3,698.7 C394.8,697.5 394.6,697.2 395.2,696.1 C395.8,695.0 397.0,692.7 397.8,692.2 C398.7,691.6 399.6,692.9 400.5,692.8 C401.3,692.7 402.2,692.3 403.1,691.5 C403.9,690.8 404.8,690.1 405.7,688.3 C406.5,686.4 407.5,682.6 408.3,680.4 C409.1,678.2 409.5,676.3 410.3,675.2 C411.0,674.1 412.1,674.7 412.9,673.9 C413.6,673.1 414.2,671.3 414.8,670.6 C415.5,670.0 415.9,670.3 416.8,670.0 C417.7,669.6 418.9,668.9 420.0,668.7 C421.2,668.4 422.7,668.9 424.0,668.7 C425.3,668.4 426.8,668.0 427.9,667.4 C429.0,666.7 429.5,665.3 430.5,664.7 C431.5,664.2 432.8,663.9 433.8,664.1 C434.7,664.3 435.5,665.0 436.4,666.1 C437.3,667.1 438.1,669.8 439.0,670.6 C439.9,671.5 440.8,672.0 441.6,671.3 C442.4,670.5 442.9,668.2 443.6,666.1 C444.2,663.9 444.9,660.8 445.5,658.2 C446.2,655.6 446.8,652.6 447.5,650.4 C448.1,648.2 448.8,646.6 449.4,645.1 C450.1,643.7 450.8,642.1 451.4,641.9 C452.1,641.7 452.7,642.2 453.4,643.8 C454.0,645.5 454.7,649.1 455.3,651.7 C456.0,654.3 456.6,656.9 457.3,659.5 C457.9,662.1 458.6,665.2 459.2,667.4 C459.9,669.5 460.6,671.5 461.2,672.6 C461.9,673.7 462.4,674.0 463.2,673.9 C463.9,673.8 464.9,672.6 465.8,671.9 C466.6,671.3 467.5,670.4 468.4,670.0 C469.3,669.5 470.1,669.3 471.0,669.3 C471.9,669.3 472.9,669.0 473.6,670.0 C474.4,671.0 474.9,672.8 475.6,675.2 C476.2,677.6 476.9,681.3 477.5,684.3 C478.2,687.4 478.8,691.5 479.5,693.5 C480.1,695.4 480.8,696.3 481.5,696.1 C482.1,695.9 482.7,693.7 483.4,692.2 C484.2,690.7 485.3,688.7 486.0,687.0 C486.8,685.2 487.3,684.1 488.0,681.7 C488.6,679.3 489.3,675.0 489.9,672.6 C490.6,670.2 491.4,668.2 491.9,667.4 C492.5,666.5 492.8,666.7 493.2,667.4 C493.6,668.0 494.0,669.5 494.5,671.3 C495.1,673.0 495.8,676.2 496.5,677.8 C497.1,679.4 497.8,680.4 498.4,681.1 C499.1,681.7 499.7,682.3 500.4,681.7 C501.1,681.2 501.6,679.0 502.4,677.8 C503.1,676.6 504.1,674.8 505.0,674.5 C505.8,674.3 506.7,676.0 507.6,676.5 C508.5,677.0 509.3,677.5 510.2,677.8 C511.1,678.1 512.0,677.2 512.8,678.5 C513.6,679.8 514.1,683.4 514.8,685.7 C515.4,687.9 515.9,690.9 516.7,692.2 C517.6,693.5 519.3,693.6 520.0,693.5 C520.7,693.4 520.4,692.4 520.9,691.5 C521.4,690.7 522.2,689.5 522.8,688.3 C523.5,687.1 524.0,685.9 524.8,684.3 C525.6,682.8 526.5,680.9 527.4,679.1 C528.3,677.4 529.2,675.5 530.0,673.9 C530.9,672.3 531.9,670.3 532.6,669.3 C533.4,668.3 533.9,667.9 534.6,668.0 C535.3,668.1 535.9,670.0 536.6,670.0 C537.2,670.0 537.8,668.7 538.5,668.0 C539.3,667.4 540.4,666.4 541.1,666.1 C541.9,665.7 542.4,666.9 543.1,666.1 C543.7,665.2 544.4,662.6 545.0,660.8 C545.7,659.1 546.2,656.8 547.0,655.6 C547.8,654.4 548.6,654.1 549.6,653.6 C550.6,653.2 551.9,653.3 552.9,653.0 C553.9,652.7 554.8,652.0 555.5,651.7 C556.2,651.4 556.3,650.7 556.8,651.0 C557.4,651.4 558.1,652.4 558.8,653.6 C559.4,654.8 560.1,656.7 560.7,658.2 C561.4,659.7 561.9,661.5 562.7,662.8 C563.4,664.1 564.5,665.4 565.3,666.1 C566.1,666.7 566.5,666.8 567.3,666.7 C568.0,666.6 569.0,665.9 569.9,665.4 C570.7,664.9 571.7,664.2 572.5,663.4 C573.2,662.7 573.8,661.9 574.4,660.8 C575.1,659.7 575.6,657.9 576.4,656.9 C577.2,655.9 578.1,655.4 579.0,654.9 C579.9,654.5 580.8,654.5 581.6,654.3 C582.5,654.1 583.4,653.8 584.2,653.6 C585.1,653.5 586.0,654.2 586.9,653.6 C587.7,653.1 588.6,651.2 589.5,650.4 C590.3,649.5 591.2,648.6 592.1,648.4 C593.0,648.2 593.9,649.8 594.7,649.1 C595.5,648.3 596.0,646.5 596.7,643.8 C597.3,641.2 598.0,636.7 598.6,633.4 C599.3,630.1 599.9,627.1 600.6,624.2 C601.2,621.4 601.9,619.2 602.5,616.4 C603.2,613.6 603.8,610.0 604.5,607.3 C605.1,604.5 605.9,601.5 606.5,600.1 C607.0,598.7 607.2,598.8 607.8,598.8 C608.3,598.8 609.0,599.7 609.7,600.1 C610.5,600.4 611.6,600.2 612.3,600.7 C613.1,601.3 613.6,602.3 614.3,603.3 C614.9,604.4 615.6,605.8 616.3,607.3 C616.9,608.7 617.7,610.9 618.2,611.8 C618.8,612.8 619.0,613.9 619.5,613.1 C620.1,612.4 620.8,609.0 621.5,607.3 C622.1,605.5 622.8,603.3 623.4,602.7 C624.1,602.0 624.7,602.6 625.4,603.3 C626.1,604.1 626.6,606.5 627.4,607.3 C628.1,608.0 629.2,608.3 630.0,607.9 C630.7,607.5 631.3,604.1 631.9,604.6 C632.6,605.2 633.2,608.6 633.9,611.2 C634.5,613.8 635.2,618.0 635.9,620.3 C636.5,622.6 637.2,624.9 637.8,624.9 C638.5,624.9 639.1,622.1 639.8,620.3 C640.4,618.6 641.1,615.6 641.7,614.4 C642.4,613.2 643.1,613.4 643.7,613.1 C644.2,612.9 644.4,613.8 645.0,613.1 C645.6,612.5 646.3,610.2 647.2,609.2 C648.1,608.2 649.4,607.9 650.5,607.3 C651.5,606.6 652.7,605.8 653.7,605.3 C654.7,604.8 655.6,605.2 656.3,604.0 C657.1,602.8 657.6,600.3 658.3,598.1 C658.9,595.9 659.6,593.4 660.3,590.9 C660.9,588.4 661.6,585.0 662.2,583.1 C662.9,581.1 663.6,579.7 664.2,579.2 C664.7,578.6 665.0,579.0 665.5,579.8 C665.9,580.7 666.3,582.4 666.8,584.4 C667.2,586.4 667.7,589.4 668.1,591.6 C668.5,593.8 668.9,595.9 669.4,597.5 C669.9,599.0 670.6,600.1 671.4,600.7 C672.1,601.4 673.2,601.1 674.0,601.4 C674.7,601.7 675.3,602.3 675.9,602.7 C676.6,603.1 677.2,604.2 677.9,604.0 C678.5,603.8 679.2,602.6 679.8,601.4 C680.5,600.2 681.3,597.9 681.8,596.8 C682.4,595.7 682.7,594.8 683.1,594.8 C683.6,594.8 684.0,595.6 684.4,596.8 C684.9,598.0 685.3,600.1 685.7,602.0 C686.2,604.0 686.5,606.2 687.0,608.6 C687.6,611.0 688.3,614.0 689.0,616.4 C689.6,618.8 690.4,621.0 691.0,622.9 C691.5,624.9 691.8,626.0 692.3,628.2 C692.7,630.3 693.1,633.6 693.6,636.0 C694.0,638.4 694.3,640.6 694.9,642.5 C695.4,644.5 696.1,646.2 696.8,647.8 C697.6,649.3 698.6,650.5 699.4,651.7 C700.3,652.9 701.3,654.2 702.1,654.9 C702.8,655.7 703.4,656.7 704.0,656.3 C704.7,655.8 705.3,653.8 706.0,652.3 C706.6,650.9 707.3,649.6 707.9,647.8 C708.6,645.9 709.2,643.1 709.9,641.2 C710.6,639.4 711.2,637.7 711.9,636.7 C712.5,635.6 713.2,634.9 713.8,634.7 C714.5,634.5 715.2,634.5 715.8,635.4 C716.3,636.2 716.5,638.1 717.1,639.9 C717.6,641.8 718.4,644.7 719.0,646.5 C719.7,648.2 720.2,650.3 721.0,650.4 C721.8,650.5 722.7,648.2 723.6,647.1 C724.5,646.0 725.4,644.8 726.2,643.8 C727.1,642.9 728.0,642.1 728.8,641.2 C729.7,640.4 730.6,639.3 731.5,638.6 C732.3,638.0 733.3,637.3 734.1,637.3 C734.8,637.3 735.4,637.7 736.0,638.6 C736.7,639.5 737.3,641.2 738.0,642.5 C738.6,643.8 739.3,645.4 739.9,646.5 C740.6,647.5 741.1,648.6 741.9,649.1 C742.7,649.5 743.8,648.3 744.5,649.1 C745.3,649.8 745.8,652.1 746.5,653.6 C747.1,655.2 747.8,656.8 748.4,658.2 C749.1,659.6 749.6,661.2 750.4,662.1 C751.2,663.1 752.1,664.0 753.0,664.1 C753.9,664.2 754.9,663.8 755.6,662.8 C756.4,661.8 756.9,660.0 757.6,658.2 C758.2,656.5 758.8,654.3 759.5,652.3 C760.3,650.4 761.3,647.7 762.2,646.5 C763.0,645.3 763.9,645.0 764.8,645.1 C765.6,645.3 766.5,646.6 767.4,647.1 C768.3,647.7 769.1,648.0 770.0,648.4 C770.9,648.8 771.9,649.8 772.8,649.6 C773.7,649.4 774.6,647.7 775.5,647.0 C776.3,646.3 777.2,645.3 778.1,645.4 C778.9,645.5 779.8,646.6 780.7,647.6 C781.5,648.7 782.5,649.9 783.3,651.6 C784.1,653.2 784.6,655.2 785.3,657.4 C785.9,659.7 786.6,662.7 787.2,665.3 C787.9,667.9 788.5,670.7 789.2,673.1 C789.8,675.5 790.5,678.0 791.1,679.6 C791.8,681.3 792.4,682.2 793.1,682.9 C793.7,683.7 794.4,683.6 795.0,684.2 C795.7,684.9 796.4,686.9 797.0,686.8 C797.7,686.7 798.3,685.1 799.0,683.6 C799.6,682.0 800.3,679.3 800.9,677.7 C801.6,676.1 802.2,674.3 802.9,673.8 C803.5,673.2 804.2,673.4 804.8,674.4 C805.5,675.4 806.2,677.7 806.8,679.6 C807.5,681.6 808.1,684.2 808.8,686.2 C809.4,688.1 810.1,689.9 810.7,691.4 C811.4,692.9 812.0,693.7 812.7,695.3 C813.3,697.0 814.0,699.7 814.6,701.2 C815.3,702.7 816.0,704.6 816.6,704.5 C817.3,704.4 817.9,702.2 818.6,700.6 C819.2,698.9 819.9,696.0 820.5,694.7 C821.2,693.4 821.8,693.3 822.5,692.7 C823.1,692.2 823.8,692.5 824.4,691.4 C825.1,690.3 825.9,687.2 826.4,686.2 C827.0,685.2 827.3,685.1 827.7,685.5 C828.1,686.0 828.6,687.4 829.0,688.8 C829.5,690.2 829.8,692.8 830.3,694.0 C830.9,695.2 831.6,695.8 832.3,696.0 C832.9,696.2 833.6,695.2 834.2,695.3 C834.9,695.4 835.6,695.7 836.2,696.6 C836.9,697.6 837.5,699.9 838.2,701.2 C838.8,702.5 839.6,704.4 840.1,704.5 C840.7,704.6 841.0,702.9 841.4,701.9 C841.9,700.8 842.3,698.8 842.7,697.9 C843.2,697.1 843.6,696.2 844.0,696.6 C844.5,697.1 844.9,698.8 845.4,700.6 C845.8,702.3 846.1,705.0 846.7,707.1 C847.2,709.2 848.0,711.9 848.6,713.0 C849.3,714.1 849.9,714.2 850.6,713.6 C851.2,713.1 851.9,711.0 852.5,709.7 C853.2,708.4 853.8,707.1 854.5,705.8 C855.1,704.5 855.8,703.4 856.5,701.9 C857.1,700.3 857.8,698.4 858.4,696.6 C859.1,694.9 859.7,693.0 860.4,691.4 C861.0,689.8 861.7,687.9 862.3,686.8 C863.0,685.7 863.6,684.9 864.3,684.9 C864.9,684.9 865.6,685.5 866.3,686.8 C866.9,688.1 867.6,690.6 868.2,692.7 C868.9,694.8 869.5,697.3 870.2,699.2 C870.8,701.2 871.5,702.7 872.1,704.5 C872.8,706.2 873.4,708.4 874.1,709.7 C874.7,711.0 875.3,711.9 876.1,712.3 C876.8,712.7 877.9,712.7 878.7,712.3 C879.4,711.9 880.0,710.8 880.6,709.7 C881.3,708.6 881.9,707.0 882.6,705.8 C883.2,704.6 883.9,703.1 884.5,702.5 C885.2,702.0 885.9,702.0 886.5,702.5 C887.2,703.1 887.8,704.5 888.5,705.8 C889.1,707.1 889.8,709.2 890.4,710.4 C891.1,711.5 891.6,712.2 892.4,713.0 C893.1,713.7 894.3,715.0 895.0,714.9 C895.7,714.8 895.8,713.8 896.4,712.3 C896.9,710.8 897.7,707.6 898.3,705.8 C899.0,703.9 899.6,702.2 900.3,701.2 C900.9,700.2 901.6,700.0 902.2,699.9 C902.9,699.8 903.5,699.8 904.2,700.6 C904.8,701.3 905.5,702.7 906.2,704.5 C906.8,706.2 907.5,709.2 908.1,711.0 C908.8,712.9 909.4,714.5 910.1,715.6 C910.7,716.7 911.4,717.4 912.0,717.5 C912.7,717.6 913.3,717.3 914.0,716.2 C914.6,715.1 915.3,713.1 916.0,711.0 C916.6,708.9 917.3,706.0 917.9,703.8 C918.6,701.6 919.2,699.2 919.9,697.9 C920.5,696.6 921.2,696.3 921.8,696.0 C922.5,695.7 923.0,696.1 923.8,696.0 C924.6,695.9 925.6,695.2 926.4,695.3 C927.2,695.4 927.7,695.9 928.4,696.6 C929.0,697.4 929.7,699.2 930.3,699.9 C931.0,700.6 931.6,700.8 932.3,700.6 C932.9,700.3 933.6,699.5 934.2,698.6 C934.9,697.7 935.4,696.0 936.2,695.3 C937.0,694.7 937.9,694.9 938.8,694.7 C939.7,694.5 940.7,693.8 941.4,694.0 C942.2,694.2 942.7,695.0 943.4,696.0 C944.0,697.0 944.7,698.7 945.4,699.9 C946.0,701.1 946.7,702.0 947.3,703.2 C948.0,704.4 948.6,705.8 949.3,707.1 C949.9,708.4 950.6,709.9 951.2,711.0 C951.9,712.1 952.5,713.2 953.2,713.6 C953.8,714.1 954.5,714.1 955.1,713.6 C955.8,713.2 956.5,712.1 957.1,711.0 C957.8,709.9 958.4,708.4 959.1,707.1 C959.7,705.8 960.4,704.0 961.0,703.2 C961.7,702.3 962.3,702.2 963.0,701.9 C963.6,701.5 964.3,700.9 964.9,701.2 C965.6,701.5 966.3,702.6 966.9,703.8 C967.6,705.0 968.2,706.8 968.9,708.4 C969.5,710.0 970.2,711.9 970.8,713.6 C971.5,715.4 972.1,717.5 972.8,718.8 C973.4,720.1 974.2,722.1 974.7,721.5 C975.3,720.8 975.5,717.8 976.1,714.9 C976.6,712.1 977.4,708.4 978.0,704.5 C978.7,700.6 979.3,695.8 980.0,691.4 C980.6,687.1 981.3,682.0 981.9,678.3 C982.6,674.6 983.2,671.3 983.9,669.2 C984.5,667.1 985.3,666.3 985.9,665.9 C986.4,665.6 986.7,666.3 987.2,667.2 C987.6,668.2 988.2,671.0 988.5,671.8" fill="none" stroke="#7570b3" stroke-width="2.45" stroke-linejoin="round" stroke-linecap="butt"/>
<path d="M273.5,690.9 C273.7,691.7 274.4,694.1 274.8,696.1 C275.2,698.1 275.7,700.7 276.1,702.6 C276.5,704.6 276.9,707.1 277.4,707.9 C278.0,708.6 278.8,707.4 279.4,707.2 C279.9,707.0 280.1,706.0 280.7,706.6 C281.2,707.1 282.0,709.9 282.6,710.5 C283.3,711.0 284.1,711.1 284.6,709.8 C285.1,708.5 285.5,705.6 285.9,702.6 C286.3,699.7 286.8,695.7 287.2,692.2 C287.6,688.7 288.1,684.8 288.5,681.7 C289.0,678.7 289.3,675.9 289.8,673.9 C290.4,671.9 291.1,670.4 291.8,670.0 C292.4,669.5 293.1,670.0 293.7,671.3 C294.4,672.6 295.0,675.9 295.7,677.8 C296.4,679.8 297.0,681.7 297.7,683.0 C298.3,684.3 299.0,685.4 299.6,685.7 C300.3,685.9 300.9,685.2 301.6,684.3 C302.2,683.5 302.9,681.5 303.5,680.4 C304.2,679.3 304.8,679.1 305.5,677.8 C306.2,676.5 306.8,674.2 307.5,672.6 C308.1,671.0 308.8,668.9 309.4,668.0 C310.1,667.1 310.7,667.0 311.4,667.4 C312.0,667.7 312.8,668.4 313.3,670.0 C313.9,671.5 314.2,673.9 314.6,676.5 C315.1,679.1 315.5,683.0 316.0,685.7 C316.4,688.3 316.8,690.7 317.3,692.2 C317.7,693.7 318.0,694.6 318.6,694.8 C319.1,695.0 319.9,694.4 320.5,693.5 C321.2,692.6 321.7,690.8 322.5,689.6 C323.2,688.4 324.3,687.6 325.1,686.3 C325.9,685.0 326.4,683.6 327.1,681.7 C327.7,679.9 328.4,677.4 329.0,675.2 C329.7,673.0 330.3,670.0 331.0,668.7 C331.6,667.4 332.2,667.3 332.9,667.4 C333.7,667.5 334.8,668.4 335.6,669.3 C336.3,670.2 337.0,671.6 337.5,672.6 C338.1,673.6 338.3,675.2 338.8,675.2 C339.4,675.2 340.1,674.1 340.8,672.6 C341.4,671.1 342.1,668.2 342.7,666.1 C343.4,663.9 344.0,661.3 344.7,659.5 C345.4,657.8 346.0,657.1 346.7,655.6 C347.3,654.1 348.0,651.6 348.6,650.4 C349.3,649.2 349.9,648.6 350.6,648.4 C351.2,648.2 351.9,648.1 352.5,649.1 C353.2,650.0 353.8,652.3 354.5,654.3 C355.1,656.3 355.8,658.9 356.5,660.8 C357.1,662.8 357.8,664.5 358.4,666.1 C359.1,667.6 359.6,669.1 360.4,670.0 C361.1,670.8 362.2,671.0 363.0,671.3 C363.8,671.6 364.3,672.2 364.9,671.9 C365.6,671.7 366.1,670.2 366.9,670.0 C367.7,669.8 368.6,670.1 369.5,670.6 C370.4,671.2 371.3,672.3 372.1,673.2 C373.0,674.2 373.9,675.5 374.7,676.5 C375.6,677.5 376.5,677.8 377.4,679.1 C378.2,680.4 379.2,682.2 380.0,684.3 C380.7,686.5 381.3,689.4 381.9,692.2 C382.6,695.0 383.2,698.9 383.9,701.3 C384.5,703.7 385.2,704.8 385.9,706.6 C386.5,708.3 387.2,710.0 387.8,711.8 C388.5,713.5 389.1,715.6 389.8,717.0 C390.4,718.4 391.1,719.6 391.7,720.3 C392.4,720.9 393.1,721.0 393.7,720.9 C394.2,720.8 394.6,720.3 395.0,719.6 C395.4,719.0 395.4,718.1 395.9,717.0 C396.4,715.9 397.2,713.6 397.8,713.1 C398.5,712.5 399.0,713.3 399.8,713.7 C400.6,714.2 401.6,716.0 402.4,715.7 C403.2,715.4 403.7,713.7 404.4,711.8 C405.0,709.8 405.7,706.6 406.3,703.9 C407.0,701.3 407.5,698.5 408.3,696.1 C409.1,693.7 410.0,691.7 410.9,689.6 C411.8,687.4 412.8,685.9 413.5,683.0 C414.3,680.2 414.8,675.3 415.5,672.6 C416.1,669.9 416.9,667.9 417.4,666.7 C418.0,665.5 418.2,664.9 418.7,665.4 C419.3,665.9 420.0,668.8 420.7,670.0 C421.4,671.2 422.1,672.0 422.7,672.6 C423.2,673.1 423.5,673.7 424.0,673.2 C424.4,672.8 424.7,669.4 425.3,670.0 C425.8,670.5 426.6,674.1 427.2,676.5 C427.9,678.9 428.5,681.9 429.2,684.3 C429.8,686.7 430.4,689.4 431.2,690.9 C431.9,692.4 433.0,692.0 433.8,693.5 C434.5,695.0 435.1,698.3 435.7,700.0 C436.4,701.8 437.0,703.4 437.7,703.9 C438.3,704.5 439.0,704.4 439.6,703.3 C440.3,702.2 441.0,699.2 441.6,697.4 C442.3,695.7 443.0,693.7 443.6,692.8 C444.1,692.0 444.3,691.6 444.9,692.2 C445.4,692.7 446.1,695.3 446.8,696.1 C447.6,696.9 448.7,696.1 449.4,696.8 C450.2,697.4 450.8,698.2 451.4,700.0 C452.1,701.9 452.7,705.4 453.4,707.9 C454.0,710.4 454.7,713.6 455.3,715.0 C456.0,716.5 456.5,716.7 457.3,716.4 C458.0,716.0 459.1,714.5 459.9,713.1 C460.7,711.7 461.2,709.8 461.9,707.9 C462.5,705.9 463.2,702.9 463.8,701.3 C464.5,699.8 465.1,698.9 465.8,698.7 C466.4,698.5 467.1,699.2 467.7,700.0 C468.4,700.9 468.9,702.9 469.7,703.9 C470.5,705.0 471.5,704.8 472.3,706.6 C473.1,708.3 473.6,711.3 474.3,714.4 C474.9,717.4 475.6,721.8 476.2,724.8 C476.9,727.9 477.5,731.8 478.2,732.7 C478.8,733.6 479.5,731.8 480.1,730.1 C480.8,728.3 481.5,725.3 482.1,722.2 C482.8,719.2 483.4,715.0 484.1,711.8 C484.7,708.5 485.4,705.5 486.0,702.6 C486.7,699.8 487.3,696.8 488.0,694.8 C488.6,692.8 489.3,691.5 489.9,690.9 C490.6,690.2 491.3,689.8 491.9,690.9 C492.6,692.0 493.2,694.8 493.9,697.4 C494.5,700.0 495.2,704.5 495.8,706.6 C496.5,708.6 497.1,710.0 497.8,709.8 C498.4,709.6 499.0,707.3 499.7,705.2 C500.5,703.2 501.5,699.6 502.4,697.4 C503.2,695.2 504.1,693.2 505.0,692.2 C505.8,691.2 506.8,691.5 507.6,691.5 C508.3,691.5 508.9,691.4 509.5,692.2 C510.2,692.9 510.7,695.0 511.5,696.1 C512.3,697.2 513.2,697.2 514.1,698.7 C515.0,700.2 515.8,704.4 516.7,705.2 C517.7,706.1 519.3,704.8 520.0,703.9 C520.7,703.1 520.4,702.0 520.9,700.0 C521.4,698.1 522.2,693.9 522.8,692.2 C523.5,690.4 524.0,689.8 524.8,689.6 C525.6,689.4 526.5,690.7 527.4,690.9 C528.3,691.1 529.3,691.0 530.0,690.9 C530.8,690.8 531.3,689.6 532.0,690.2 C532.6,690.9 533.3,692.5 533.9,694.8 C534.6,697.1 535.3,701.4 535.9,703.9 C536.6,706.4 537.2,709.2 537.9,709.8 C538.5,710.5 539.1,709.1 539.8,707.9 C540.6,706.7 541.6,704.6 542.4,702.6 C543.3,700.7 544.3,698.3 545.0,696.1 C545.8,693.9 546.4,691.5 547.0,689.6 C547.7,687.6 548.3,685.3 549.0,684.3 C549.6,683.4 550.3,683.6 550.9,683.7 C551.6,683.8 552.1,684.9 552.9,685.0 C553.7,685.1 554.7,683.6 555.5,684.3 C556.3,685.1 556.8,687.8 557.5,689.6 C558.1,691.3 558.8,694.8 559.4,694.8 C560.1,694.8 560.7,691.7 561.4,689.6 C562.0,687.4 562.7,684.1 563.3,681.7 C564.0,679.3 564.6,676.9 565.3,675.2 C566.0,673.5 566.6,672.3 567.3,671.3 C567.9,670.3 568.6,669.8 569.2,669.3 C569.9,668.9 570.5,668.1 571.2,668.7 C571.8,669.2 572.5,670.8 573.1,672.6 C573.8,674.3 574.4,676.7 575.1,679.1 C575.8,681.5 576.4,684.9 577.1,687.0 C577.7,689.0 578.3,690.8 579.0,691.5 C579.8,692.3 580.9,692.3 581.6,691.5 C582.4,690.8 582.9,688.8 583.6,687.0 C584.2,685.1 584.9,682.7 585.6,680.4 C586.2,678.1 586.9,675.0 587.5,673.2 C588.2,671.5 588.7,670.6 589.5,670.0 C590.2,669.3 591.2,669.3 592.1,669.3 C593.0,669.3 593.8,670.2 594.7,670.0 C595.6,669.8 596.5,669.1 597.3,668.0 C598.1,666.9 598.6,665.5 599.3,663.4 C599.9,661.4 600.6,658.2 601.2,655.6 C601.9,653.0 602.5,650.0 603.2,647.8 C603.8,645.5 604.5,643.1 605.1,641.9 C605.8,640.7 606.5,640.6 607.1,640.6 C607.8,640.6 608.4,641.7 609.1,641.9 C609.7,642.1 610.4,641.3 611.0,641.9 C611.7,642.4 612.2,644.2 613.0,645.1 C613.8,646.1 614.8,647.2 615.6,647.8 C616.4,648.3 616.9,648.9 617.6,648.4 C618.2,648.0 618.9,646.8 619.5,645.1 C620.2,643.5 620.8,640.5 621.5,638.6 C622.1,636.8 622.8,635.1 623.4,634.0 C624.1,633.0 624.7,632.4 625.4,632.1 C626.1,631.8 626.7,631.9 627.4,632.1 C628.0,632.3 628.7,633.3 629.3,633.4 C630.0,633.5 630.6,632.1 631.3,632.7 C631.9,633.4 632.6,635.2 633.2,637.3 C633.9,639.4 634.5,642.8 635.2,645.1 C635.9,647.5 636.5,650.4 637.2,651.7 C637.8,653.0 638.5,653.4 639.1,653.0 C639.8,652.6 640.4,650.4 641.1,649.1 C641.7,647.8 642.4,646.5 643.0,645.1 C643.7,643.8 644.3,642.4 645.0,641.2 C645.7,640.0 646.4,639.1 647.2,638.0 C648.0,636.9 648.9,635.7 649.8,634.7 C650.7,633.7 651.8,632.3 652.4,632.1 C653.1,631.9 653.3,632.6 653.7,633.4 C654.2,634.2 654.5,635.8 655.0,636.7 C655.6,637.5 656.3,638.9 657.0,638.6 C657.6,638.3 658.3,636.4 658.9,634.7 C659.6,633.0 660.3,630.1 660.9,628.2 C661.6,626.2 662.3,623.9 662.9,622.9 C663.4,622.0 663.6,622.0 664.2,622.3 C664.7,622.6 665.4,624.6 666.1,624.9 C666.9,625.2 667.9,624.7 668.7,624.2 C669.6,623.8 670.6,622.2 671.4,622.3 C672.1,622.4 672.6,624.1 673.3,624.9 C674.1,625.7 675.2,627.2 675.9,626.9 C676.7,626.5 677.2,624.8 677.9,622.9 C678.5,621.1 679.2,617.6 679.8,615.8 C680.5,613.9 681.2,612.7 681.8,611.8 C682.5,611.0 683.0,610.7 683.8,610.5 C684.5,610.3 685.6,610.2 686.4,610.5 C687.1,610.9 687.7,611.6 688.3,612.5 C689.0,613.4 689.6,614.4 690.3,615.8 C691.0,617.1 691.6,618.8 692.3,620.3 C692.9,621.8 693.6,623.6 694.2,624.9 C694.9,626.2 695.5,627.2 696.2,628.2 C696.8,629.1 697.5,629.9 698.1,630.8 C698.8,631.6 699.4,633.2 700.1,633.4 C700.8,633.6 701.4,632.6 702.1,632.1 C702.7,631.5 703.4,630.3 704.0,630.1 C704.7,629.9 705.3,630.0 706.0,630.8 C706.6,631.5 707.3,633.4 707.9,634.7 C708.6,636.0 709.2,637.7 709.9,638.6 C710.6,639.5 711.2,639.1 711.9,639.9 C712.5,640.8 713.2,642.1 713.8,643.8 C714.5,645.6 715.1,648.4 715.8,650.4 C716.4,652.3 717.1,654.6 717.7,655.6 C718.4,656.6 719.0,656.7 719.7,656.3 C720.4,655.8 721.0,654.2 721.7,653.0 C722.3,651.8 723.0,650.3 723.6,649.1 C724.3,647.9 724.9,646.9 725.6,645.8 C726.2,644.7 726.9,644.4 727.5,642.5 C728.2,640.7 729.0,636.9 729.5,634.7 C730.0,632.5 730.3,630.8 730.8,629.5 C731.3,628.2 732.1,626.9 732.8,626.9 C733.4,626.9 734.1,628.2 734.7,629.5 C735.4,630.8 736.0,633.1 736.7,634.7 C737.3,636.3 738.0,637.7 738.6,639.3 C739.3,640.8 739.9,642.8 740.6,643.8 C741.3,644.9 741.9,645.9 742.6,645.8 C743.2,645.7 743.9,644.0 744.5,643.2 C745.2,642.4 745.8,641.6 746.5,641.2 C747.1,640.9 747.8,640.8 748.4,641.2 C749.1,641.7 749.7,642.9 750.4,643.8 C751.1,644.8 751.7,646.0 752.4,647.1 C753.0,648.2 753.7,648.7 754.3,650.4 C755.0,652.0 755.6,654.5 756.3,656.9 C756.9,659.3 757.6,662.5 758.2,664.7 C758.9,667.0 759.5,670.2 760.2,670.6 C760.9,671.1 761.5,669.2 762.2,667.4 C762.8,665.5 763.5,661.4 764.1,659.5 C764.8,657.7 765.3,656.9 766.1,656.3 C766.8,655.6 768.0,655.6 768.7,655.6 C769.3,655.6 769.6,655.8 770.0,656.3 C770.4,656.7 770.4,656.4 770.9,658.1 C771.4,659.8 772.2,663.6 772.8,666.6 C773.5,669.5 774.1,673.1 774.8,675.7 C775.5,678.3 776.1,680.6 776.8,682.3 C777.4,683.9 778.1,684.7 778.7,685.5 C779.4,686.4 779.9,687.5 780.7,687.5 C781.4,687.5 782.5,686.5 783.3,685.5 C784.1,684.5 784.6,682.7 785.3,681.6 C785.9,680.5 786.7,678.9 787.2,679.0 C787.8,679.1 788.0,680.4 788.5,682.3 C789.1,684.1 789.8,687.5 790.5,690.1 C791.1,692.7 791.8,695.9 792.4,697.9 C793.1,700.0 793.7,701.4 794.4,702.5 C795.0,703.6 795.7,704.5 796.4,704.5 C797.0,704.5 797.7,703.8 798.3,702.5 C799.0,701.2 799.6,699.1 800.3,696.6 C800.9,694.1 801.6,690.4 802.2,687.5 C802.9,684.5 803.5,681.1 804.2,679.0 C804.8,676.9 805.5,675.5 806.2,675.1 C806.8,674.6 807.5,675.4 808.1,676.4 C808.8,677.4 809.4,678.9 810.1,681.0 C810.7,683.0 811.4,685.7 812.0,688.8 C812.7,691.8 813.3,696.2 814.0,699.2 C814.6,702.3 815.3,705.2 816.0,707.1 C816.6,708.9 817.3,710.1 817.9,710.4 C818.6,710.6 819.2,709.5 819.9,708.4 C820.5,707.3 821.2,705.2 821.8,703.8 C822.5,702.4 823.1,700.9 823.8,699.9 C824.4,698.9 825.1,698.3 825.8,697.9 C826.4,697.6 827.1,697.3 827.7,697.9 C828.4,698.6 829.1,700.1 829.7,701.9 C830.2,703.6 830.4,705.6 831.0,708.4 C831.5,711.2 832.3,715.6 832.9,718.8 C833.6,722.1 834.2,725.4 834.9,728.0 C835.6,730.6 836.2,733.5 836.9,734.5 C837.5,735.5 838.2,735.2 838.8,733.9 C839.5,732.6 840.1,729.4 840.8,726.7 C841.4,724.0 842.1,720.4 842.7,717.5 C843.4,714.7 844.0,711.5 844.7,709.7 C845.4,707.8 846.0,707.0 846.7,706.4 C847.3,705.9 848.0,706.2 848.6,706.4 C849.3,706.6 849.9,706.8 850.6,707.7 C851.2,708.7 851.9,710.5 852.5,712.3 C853.2,714.2 853.8,716.9 854.5,718.8 C855.1,720.8 855.8,722.9 856.5,724.1 C857.1,725.3 857.8,726.1 858.4,726.0 C859.1,725.9 859.7,724.5 860.4,723.4 C861.0,722.3 861.7,719.8 862.3,719.5 C863.0,719.2 863.6,719.8 864.3,721.5 C864.9,723.1 865.6,726.9 866.3,729.3 C866.9,731.7 867.6,733.2 868.2,735.8 C868.9,738.4 869.5,741.7 870.2,745.0 C870.8,748.2 871.5,751.7 872.1,755.4 C872.8,759.1 873.4,763.7 874.1,767.2 C874.7,770.7 875.4,774.4 876.1,776.3 C876.7,778.3 877.4,779.2 878.0,778.9 C878.7,778.7 879.3,777.2 880.0,775.0 C880.6,772.8 881.3,768.9 881.9,765.9 C882.6,762.8 883.2,759.3 883.9,756.7 C884.5,754.1 885.2,751.8 885.9,750.2 C886.5,748.6 887.2,747.5 887.8,746.9 C888.5,746.4 889.1,746.4 889.8,746.9 C890.4,747.5 891.1,748.3 891.7,750.2 C892.4,752.0 893.1,755.9 893.7,758.0 C894.2,760.2 894.6,762.2 895.0,763.3 C895.4,764.4 895.8,764.6 896.4,764.6 C896.9,764.6 897.7,764.1 898.3,763.3 C899.0,762.4 899.6,760.7 900.3,759.3 C900.9,758.0 901.6,756.6 902.2,755.4 C902.9,754.2 903.4,753.0 904.2,752.2 C905.0,751.3 906.0,751.2 906.8,750.2 C907.6,749.2 908.1,747.6 908.8,746.3 C909.4,745.0 910.2,743.2 910.7,742.4 C911.3,741.5 911.5,740.8 912.0,741.1 C912.6,741.3 913.2,742.5 914.0,743.7 C914.8,744.9 915.7,746.7 916.6,748.2 C917.5,749.8 918.3,751.4 919.2,752.8 C920.1,754.2 921.1,756.4 921.8,756.7 C922.6,757.1 923.0,755.9 923.8,754.8 C924.6,753.7 925.5,752.0 926.4,750.2 C927.3,748.3 928.3,745.8 929.0,743.7 C929.8,741.5 930.3,738.9 931.0,737.1 C931.6,735.4 932.3,733.5 932.9,733.2 C933.6,732.9 934.2,733.9 934.9,735.2 C935.6,736.5 936.3,740.0 936.9,741.1 C937.4,742.1 937.6,742.6 938.2,741.7 C938.7,740.8 939.5,737.1 940.1,735.8 C940.8,734.5 941.3,734.1 942.1,733.9 C942.8,733.6 943.9,734.5 944.7,734.5 C945.5,734.5 945.9,733.8 946.7,733.9 C947.4,734.0 948.5,734.6 949.3,735.2 C950.0,735.7 950.5,737.1 951.2,737.1 C952.0,737.1 953.0,735.6 953.8,735.2 C954.7,734.7 955.7,735.7 956.5,734.5 C957.2,733.3 957.9,731.3 958.4,728.0 C959.0,724.7 959.3,719.3 959.7,714.9 C960.2,710.6 960.6,705.2 961.0,701.9 C961.5,698.5 961.8,696.2 962.3,694.7 C962.9,693.1 963.6,692.7 964.3,692.7 C964.9,692.7 965.6,693.4 966.3,694.7 C966.9,696.0 967.6,698.0 968.2,700.6 C968.9,703.1 969.5,706.4 970.2,709.7 C970.8,713.0 971.5,717.1 972.1,720.1 C972.8,723.2 973.4,726.2 974.1,728.0 C974.7,729.7 975.4,730.8 976.1,730.6 C976.7,730.4 977.4,729.1 978.0,726.7 C978.7,724.3 979.3,719.9 980.0,716.2 C980.6,712.5 981.4,708.0 981.9,704.5 C982.5,701.0 982.8,697.1 983.2,695.3 C983.7,693.6 984.0,693.8 984.5,694.0 C985.1,694.2 986.0,695.3 986.5,696.6 C987.0,697.9 987.5,700.6 987.8,701.9 C988.1,703.2 988.4,704.0 988.5,704.5" fill="none" stroke="#d95f02" stroke-width="2.45" stroke-linejoin="round" stroke-linecap="butt"/>
<line x1="683.6" y1="508.0" x2="683.6" y2="844.0" stroke="#333" stroke-width="1.8"/>
<line x1="891.6" y1="508.0" x2="891.6" y2="844.0" stroke="#333" stroke-width="1.8"/>
</g>
<rect x="269.0" y="508.0" width="723.0" height="336.0" fill="none" stroke="#c2c2c2" stroke-width="2.3"/>
<line x1="330.0" y1="844.0" x2="330.0" y2="837.5" stroke="#5c5c5c" stroke-width="1"/>
<line x1="330.0" y1="508.0" x2="330.0" y2="514.5" stroke="#5c5c5c" stroke-width="1"/>
<line x1="434.0" y1="844.0" x2="434.0" y2="837.5" stroke="#5c5c5c" stroke-width="1"/>
<line x1="434.0" y1="508.0" x2="434.0" y2="514.5" stroke="#5c5c5c" stroke-width="1"/>
<line x1="538.0" y1="844.0" x2="538.0" y2="837.5" stroke="#5c5c5c" stroke-width="1"/>
<line x1="538.0" y1="508.0" x2="538.0" y2="514.5" stroke="#5c5c5c" stroke-width="1"/>
<line x1="642.0" y1="844.0" x2="642.0" y2="837.5" stroke="#5c5c5c" stroke-width="1"/>
<line x1="642.0" y1="508.0" x2="642.0" y2="514.5" stroke="#5c5c5c" stroke-width="1"/>
<line x1="746.0" y1="844.0" x2="746.0" y2="837.5" stroke="#5c5c5c" stroke-width="1"/>
<line x1="746.0" y1="508.0" x2="746.0" y2="514.5" stroke="#5c5c5c" stroke-width="1"/>
<line x1="850.0" y1="844.0" x2="850.0" y2="837.5" stroke="#5c5c5c" stroke-width="1"/>
<line x1="850.0" y1="508.0" x2="850.0" y2="514.5" stroke="#5c5c5c" stroke-width="1"/>
<line x1="954.0" y1="844.0" x2="954.0" y2="837.5" stroke="#5c5c5c" stroke-width="1"/>
<line x1="954.0" y1="508.0" x2="954.0" y2="514.5" stroke="#5c5c5c" stroke-width="1"/>
<line x1="269.0" y1="619.2" x2="275.5" y2="619.2" stroke="#5c5c5c" stroke-width="1"/>
<line x1="992.0" y1="619.2" x2="985.5" y2="619.2" stroke="#5c5c5c" stroke-width="1"/>
<text x="259.1" y="628.0" font-size="26.8" fill="#2e2e2e" text-anchor="end" textLength="46.6" lengthAdjust="spacingAndGlyphs">-0.2</text>
<line x1="269.0" y1="732.2" x2="275.5" y2="732.2" stroke="#5c5c5c" stroke-width="1"/>
<line x1="992.0" y1="732.2" x2="985.5" y2="732.2" stroke="#5c5c5c" stroke-width="1"/>
<text x="259.1" y="741.0" font-size="26.8" fill="#2e2e2e" text-anchor="end" textLength="46.6" lengthAdjust="spacingAndGlyphs">-0.4</text>
<text x="259.1" y="852.8" font-size="26.8" fill="#2e2e2e" text-anchor="end" textLength="46.6" lengthAdjust="spacingAndGlyphs">-0.6</text>
<text x="286" y="540" font-size="27" fill="#111">B</text>
<text x="560.3" y="545.6" font-size="23.3" fill="#111" text-anchor="middle">saturation period</text>
<text x="790" y="545.6" font-size="23.3" fill="#111" text-anchor="middle">reinvigoration</text>
<text x="790" y="571.6" font-size="23.3" fill="#111" text-anchor="middle">period</text>
<text x="941.5" y="544.6" font-size="23.3" fill="#111" text-anchor="middle">most</text>
<text x="943" y="570.6" font-size="23.3" fill="#111" text-anchor="middle">recent</text>
<text x="943" y="596.6" font-size="23.3" fill="#111" text-anchor="middle">period</text>
<g transform="translate(0,676) rotate(-90)" fill="#2e2e2e" font-size="27.5" text-anchor="middle"><text x="0" y="124.8" textLength="140" lengthAdjust="spacingAndGlyphs">integrated</text><text x="0" y="156.9" textLength="215" lengthAdjust="spacingAndGlyphs">sea-air CO<tspan font-size="22.5" dy="12.5">2</tspan><tspan dy="-12.5"> flux</tspan></text><text x="0" y="201.4" textLength="108.5" lengthAdjust="spacingAndGlyphs">[PgC/yr]</text></g>
<line x1="67.6" y1="555.7" x2="67.6" y2="796" stroke="#000" stroke-width="1.3"/>
<polygon points="60.599999999999994,785.5 74.6,785.5 67.6,806" fill="#000"/>
<text x="1.2" y="845" font-size="23.3" fill="#111">stronger sink</text>
<defs><clipPath id="clipC"><rect x="269.0" y="976.8" width="723.0" height="336.0"/></clipPath></defs>
<g clip-path="url(#clipC)">
<path d="M273.5,1042.9 L275.2,1047.4 L277.0,1050.1 L278.7,1051.8 L280.4,1056.0 L282.1,1058.8 L283.9,1061.7 L285.6,1060.7 L287.3,1048.2 L289.1,1037.8 L290.8,1031.6 L292.5,1025.9 L294.3,1024.6 L296.0,1021.7 L297.7,1024.2 L299.5,1028.5 L301.2,1035.7 L302.9,1043.0 L304.7,1047.5 L306.4,1044.0 L308.1,1040.5 L309.8,1038.9 L311.6,1037.2 L313.3,1033.0 L315.0,1030.8 L316.8,1030.0 L318.5,1029.3 L320.2,1030.3 L322.0,1031.8 L323.7,1034.3 L325.4,1035.8 L327.2,1037.1 L328.9,1038.3 L330.6,1040.2 L332.4,1040.1 L334.1,1039.8 L335.8,1042.4 L337.5,1041.1 L339.3,1041.0 L341.0,1040.3 L342.7,1045.3 L344.5,1047.5 L346.2,1047.7 L347.9,1050.7 L349.7,1052.5 L351.4,1049.0 L353.1,1046.2 L354.9,1040.6 L356.6,1037.8 L358.3,1038.1 L360.1,1038.1 L361.8,1042.7 L363.5,1048.2 L365.2,1048.8 L367.0,1045.4 L368.7,1042.0 L370.4,1034.5 L372.2,1030.0 L373.9,1028.8 L375.6,1024.9 L377.4,1024.8 L379.1,1026.5 L380.8,1031.6 L382.6,1036.7 L384.3,1041.4 L386.0,1047.3 L387.7,1052.7 L389.5,1058.1 L391.2,1061.3 L392.9,1063.5 L394.7,1061.5 L396.4,1057.3 L398.1,1054.6 L399.9,1054.0 L401.6,1052.3 L403.3,1049.9 L405.1,1048.4 L406.8,1046.9 L408.5,1048.2 L410.3,1050.1 L412.0,1049.9 L413.7,1049.9 L415.4,1051.5 L417.2,1050.3 L418.9,1051.8 L420.6,1053.5 L422.4,1052.8 L424.1,1051.7 L425.8,1048.9 L427.6,1047.6 L429.3,1047.7 L431.0,1044.4 L432.8,1046.3 L434.5,1045.4 L436.2,1044.3 L438.0,1042.5 L439.7,1041.4 L441.4,1039.3 L443.1,1038.1 L444.9,1035.5 L446.6,1032.1 L448.3,1032.6 L450.1,1030.0 L451.8,1029.5 L453.5,1033.3 L455.3,1036.5 L457.0,1040.2 L458.7,1043.8 L460.5,1045.6 L462.2,1047.2 L463.9,1047.8 L465.7,1046.0 L467.4,1043.5 L469.1,1043.1 L470.8,1042.5 L472.6,1043.3 L474.3,1046.4 L476.0,1052.0 L477.8,1057.1 L479.5,1060.7 L481.2,1062.0 L483.0,1062.0 L484.7,1059.8 L486.4,1055.4 L488.2,1048.9 L489.9,1042.6 L491.6,1043.6 L493.4,1041.0 L495.1,1041.8 L496.8,1045.1 L498.5,1045.9 L500.3,1045.6 L502.0,1046.3 L503.7,1047.9 L505.5,1046.8 L507.2,1047.1 L508.9,1048.4 L510.7,1048.0 L512.4,1048.5 L514.1,1049.8 L515.9,1050.4 L517.6,1054.4 L519.3,1057.5 L521.0,1057.2 L522.8,1055.2 L524.5,1055.9 L526.2,1052.4 L528.0,1048.9 L529.7,1047.5 L531.4,1046.8 L533.2,1043.6 L534.9,1042.7 L536.6,1043.7 L538.4,1046.3 L540.1,1045.5 L541.8,1045.5 L543.6,1043.7 L545.3,1041.6 L547.0,1039.9 L548.7,1041.5 L550.5,1040.3 L552.2,1038.8 L553.9,1037.2 L555.7,1037.8 L557.4,1036.3 L559.1,1037.8 L560.9,1038.4 L562.6,1040.7 L564.3,1040.3 L566.1,1041.4 L567.8,1043.8 L569.5,1043.3 L571.3,1039.5 L573.0,1038.9 L574.7,1035.4 L576.4,1036.0 L578.2,1034.2 L579.9,1032.9 L581.6,1033.2 L583.4,1033.4 L585.1,1036.7 L586.8,1034.7 L588.6,1036.3 L590.3,1033.7 L592.0,1029.5 L593.8,1025.9 L595.5,1026.2 L597.2,1024.8 L599.0,1021.5 L600.7,1017.9 L602.4,1014.5 L604.1,1012.0 L605.9,1009.4 L607.6,1008.6 L609.3,1007.1 L611.1,1005.9 L612.8,1005.2 L614.5,1008.7 L616.3,1009.7 L618.0,1012.5 L619.7,1011.3 L621.5,1012.0 L623.2,1011.3 L624.9,1007.7 L626.7,1007.4 L628.4,1006.8 L630.1,1007.1 L631.8,1004.7 L633.6,1007.3 L635.3,1010.9 L637.0,1014.2 L638.8,1016.0 L640.5,1017.5 L642.2,1015.5 L644.0,1016.7 L645.7,1015.7 L647.4,1013.4 L649.2,1013.1 L650.9,1009.2 L652.6,1009.4 L654.3,1006.1 L656.1,1004.9 L657.8,1004.8 L659.5,1000.4 L661.3,1000.3 L663.0,998.1 L664.7,1000.5 L666.5,1001.4 L668.2,1003.5 L669.9,1005.5 L671.7,1009.4 L673.4,1010.1 L675.1,1012.5 L676.9,1013.6 L678.6,1011.2 L680.3,1012.0 L682.0,1010.2 L683.8,1013.3 L685.5,1016.8 L687.2,1023.0 L689.0,1026.7 L690.7,1030.7 L692.4,1034.2 L694.2,1040.3 L695.9,1045.9 L697.6,1048.7 L699.4,1053.1 L701.1,1055.7 L702.8,1053.9 L704.6,1053.2 L706.3,1053.3 L708.0,1048.3 L709.7,1045.4 L711.5,1042.2 L713.2,1039.9 L714.9,1041.8 L716.7,1042.8 L718.4,1041.2 L720.1,1042.5 L721.9,1039.9 L723.6,1039.1 L725.3,1040.5 L727.1,1037.1 L728.8,1036.9 L730.5,1038.6 L732.3,1036.3 L734.0,1036.9 L735.7,1038.8 L737.4,1041.1 L739.2,1044.8 L740.9,1045.0 L742.6,1048.9 L744.4,1048.6 L746.1,1051.6 L747.8,1052.3 L749.6,1051.4 L751.3,1052.1 L753.0,1054.5 L754.8,1055.1 L756.5,1053.5 L758.2,1047.5 L760.0,1043.3 L761.7,1042.9 L763.4,1040.5 L765.1,1041.0 L766.9,1040.2 L768.6,1040.1 L770.3,1040.0 L772.1,1043.3 L773.8,1044.1 L775.5,1043.2 L777.3,1039.6 L779.0,1038.8 L780.7,1040.3 L782.5,1044.4 L784.2,1046.1 L785.9,1050.5 L787.6,1055.6 L789.4,1059.6 L791.1,1065.2 L792.8,1068.8 L794.6,1073.0 L796.3,1073.1 L798.0,1072.0 L799.8,1072.4 L801.5,1067.0 L803.2,1063.0 L805.0,1063.2 L806.7,1068.7 L808.4,1071.3 L810.2,1074.5 L811.9,1078.0 L813.6,1080.9 L815.3,1084.8 L817.1,1085.8 L818.8,1081.0 L820.5,1078.1 L822.3,1076.0 L824.0,1074.0 L825.7,1071.8 L827.5,1070.0 L829.2,1070.2 L830.9,1071.8 L832.7,1072.4 L834.4,1075.1 L836.1,1075.0 L837.9,1075.1 L839.6,1076.4 L841.3,1074.9 L843.0,1074.6 L844.8,1071.3 L846.5,1073.0 L848.2,1073.5 L850.0,1077.1 L851.7,1080.3 L853.4,1080.3 L855.2,1085.1 L856.9,1079.5 L858.6,1076.6 L860.4,1072.5 L862.1,1066.3 L863.8,1059.1 L865.6,1054.9 L867.3,1055.4 L869.0,1061.8 L870.7,1065.0 L872.5,1070.3 L874.2,1071.5 L875.9,1076.2 L877.7,1075.9 L879.4,1074.9 L881.1,1073.2 L882.9,1070.1 L884.6,1068.1 L886.3,1067.3 L888.1,1069.6 L889.8,1072.1 L891.5,1072.5 L893.3,1074.6 L895.0,1075.1 L896.7,1076.6 L898.4,1075.2 L900.2,1072.6 L901.9,1070.1 L903.6,1070.5 L905.4,1070.5 L907.1,1073.1 L908.8,1076.1 L910.6,1078.7 L912.3,1079.3 L914.0,1079.5 L915.8,1077.6 L917.5,1075.6 L919.2,1071.7 L920.9,1069.0 L922.7,1064.4 L924.4,1062.6 L926.1,1058.9 L927.9,1058.6 L929.6,1056.8 L931.3,1058.4 L933.1,1060.5 L934.8,1062.3 L936.5,1060.5 L938.3,1060.1 L940.0,1059.5 L941.7,1057.1 L943.5,1055.1 L945.2,1057.2 L946.9,1057.7 L948.6,1060.6 L950.4,1062.9 L952.1,1065.0 L953.8,1065.5 L955.6,1064.5 L957.3,1065.0 L959.0,1064.6 L960.8,1063.4 L962.5,1065.7 L964.2,1068.5 L966.0,1073.0 L967.7,1077.0 L969.4,1079.1 L971.2,1084.3 L972.9,1085.2 L974.6,1084.7 L976.3,1084.7 L978.1,1078.9 L979.8,1069.8 L981.5,1062.6 L983.3,1053.7 L985.0,1047.8 L986.7,1049.7 L988.5,1053.9 L988.5,1109.9 L986.7,1109.4 L985.0,1114.7 L983.3,1122.5 L981.5,1128.1 L979.8,1133.5 L978.1,1140.7 L976.3,1144.9 L974.6,1147.9 L972.9,1153.5 L971.2,1156.0 L969.4,1158.1 L967.7,1158.2 L966.0,1159.7 L964.2,1159.1 L962.5,1158.7 L960.8,1155.6 L959.0,1154.5 L957.3,1154.4 L955.6,1154.4 L953.8,1151.8 L952.1,1152.1 L950.4,1150.8 L948.6,1149.3 L946.9,1148.2 L945.2,1146.0 L943.5,1145.9 L941.7,1144.7 L940.0,1146.7 L938.3,1147.0 L936.5,1147.1 L934.8,1146.7 L933.1,1147.2 L931.3,1147.1 L929.6,1148.3 L927.9,1148.8 L926.1,1152.0 L924.4,1151.0 L922.7,1153.5 L920.9,1155.2 L919.2,1157.1 L917.5,1154.8 L915.8,1155.9 L914.0,1154.9 L912.3,1154.8 L910.6,1152.7 L908.8,1151.9 L907.1,1150.8 L905.4,1150.5 L903.6,1152.3 L901.9,1153.7 L900.2,1152.9 L898.4,1157.0 L896.7,1159.0 L895.0,1159.3 L893.3,1159.7 L891.5,1158.3 L889.8,1156.8 L888.1,1156.4 L886.3,1157.1 L884.6,1159.2 L882.9,1161.6 L881.1,1164.5 L879.4,1166.1 L877.7,1165.8 L875.9,1164.0 L874.2,1159.8 L872.5,1157.5 L870.7,1152.4 L869.0,1150.3 L867.3,1148.4 L865.6,1145.3 L863.8,1141.4 L862.1,1139.7 L860.4,1139.6 L858.6,1137.8 L856.9,1138.6 L855.2,1139.1 L853.4,1141.6 L851.7,1143.5 L850.0,1145.7 L848.2,1146.0 L846.5,1148.9 L844.8,1151.6 L843.0,1150.9 L841.3,1150.2 L839.6,1150.7 L837.9,1153.2 L836.1,1151.5 L834.4,1153.1 L832.7,1151.9 L830.9,1154.4 L829.2,1153.9 L827.5,1152.9 L825.7,1152.1 L824.0,1153.0 L822.3,1153.2 L820.5,1151.2 L818.8,1153.2 L817.1,1150.5 L815.3,1150.2 L813.6,1150.9 L811.9,1148.7 L810.2,1148.5 L808.4,1150.7 L806.7,1150.7 L805.0,1150.4 L803.2,1146.8 L801.5,1147.9 L799.8,1144.0 L798.0,1143.8 L796.3,1142.8 L794.6,1142.3 L792.8,1141.4 L791.1,1141.1 L789.4,1140.5 L787.6,1142.0 L785.9,1139.8 L784.2,1139.6 L782.5,1137.6 L780.7,1134.9 L779.0,1134.4 L777.3,1132.7 L775.5,1131.0 L773.8,1128.4 L772.1,1127.3 L770.3,1126.5 L768.6,1124.0 L766.9,1125.2 L765.1,1126.9 L763.4,1128.5 L761.7,1127.9 L760.0,1127.2 L758.2,1127.8 L756.5,1128.3 L754.8,1127.9 L753.0,1128.0 L751.3,1127.6 L749.6,1125.4 L747.8,1125.0 L746.1,1124.6 L744.4,1124.5 L742.6,1123.3 L740.9,1125.0 L739.2,1122.0 L737.4,1121.3 L735.7,1123.3 L734.0,1122.7 L732.3,1121.3 L730.5,1119.9 L728.8,1120.1 L727.1,1118.7 L725.3,1120.2 L723.6,1118.4 L721.9,1118.4 L720.1,1121.7 L718.4,1120.0 L716.7,1122.1 L714.9,1123.0 L713.2,1122.1 L711.5,1124.0 L709.7,1122.9 L708.0,1122.1 L706.3,1120.9 L704.6,1121.3 L702.8,1120.5 L701.1,1117.5 L699.4,1118.9 L697.6,1116.4 L695.9,1113.9 L694.2,1111.4 L692.4,1110.4 L690.7,1107.5 L689.0,1107.0 L687.2,1105.2 L685.5,1104.5 L683.8,1101.3 L682.0,1098.3 L680.3,1097.1 L678.6,1095.2 L676.9,1093.2 L675.1,1091.0 L673.4,1091.7 L671.7,1089.6 L669.9,1091.7 L668.2,1090.5 L666.5,1091.1 L664.7,1092.2 L663.0,1091.6 L661.3,1091.2 L659.5,1089.4 L657.8,1090.5 L656.1,1093.0 L654.3,1092.9 L652.6,1093.4 L650.9,1095.8 L649.2,1097.3 L647.4,1100.0 L645.7,1100.1 L644.0,1099.7 L642.2,1100.7 L640.5,1102.1 L638.8,1101.8 L637.0,1100.1 L635.3,1101.5 L633.6,1100.3 L631.8,1101.5 L630.1,1099.6 L628.4,1099.2 L626.7,1099.9 L624.9,1098.5 L623.2,1098.8 L621.5,1098.3 L619.7,1098.2 L618.0,1096.6 L616.3,1098.5 L614.5,1096.7 L612.8,1098.8 L611.1,1098.4 L609.3,1103.0 L607.6,1104.6 L605.9,1104.3 L604.1,1105.5 L602.4,1107.8 L600.7,1110.4 L599.0,1108.8 L597.2,1113.3 L595.5,1114.3 L593.8,1117.1 L592.0,1117.8 L590.3,1120.0 L588.6,1123.3 L586.8,1124.7 L585.1,1124.5 L583.4,1126.8 L581.6,1126.6 L579.9,1128.2 L578.2,1127.7 L576.4,1129.9 L574.7,1130.0 L573.0,1130.0 L571.3,1128.3 L569.5,1129.8 L567.8,1129.0 L566.1,1128.4 L564.3,1128.6 L562.6,1129.3 L560.9,1126.7 L559.1,1126.9 L557.4,1128.7 L555.7,1126.7 L553.9,1126.6 L552.2,1127.8 L550.5,1128.3 L548.7,1127.6 L547.0,1128.8 L545.3,1130.1 L543.6,1129.4 L541.8,1128.8 L540.1,1131.6 L538.4,1132.0 L536.6,1134.0 L534.9,1136.7 L533.2,1137.7 L531.4,1137.5 L529.7,1139.8 L528.0,1140.6 L526.2,1142.2 L524.5,1140.5 L522.8,1141.7 L521.0,1143.1 L519.3,1143.4 L517.6,1142.3 L515.9,1142.7 L514.1,1143.3 L512.4,1143.8 L510.7,1143.6 L508.9,1143.4 L507.2,1142.3 L505.5,1141.6 L503.7,1139.9 L502.0,1139.3 L500.3,1138.6 L498.5,1139.7 L496.8,1140.4 L495.1,1141.1 L493.4,1142.1 L491.6,1141.8 L489.9,1142.6 L488.2,1142.9 L486.4,1142.4 L484.7,1141.9 L483.0,1142.3 L481.2,1140.6 L479.5,1140.5 L477.8,1140.9 L476.0,1140.0 L474.3,1141.1 L472.6,1140.9 L470.8,1140.0 L469.1,1137.5 L467.4,1136.5 L465.7,1136.9 L463.9,1133.3 L462.2,1130.5 L460.5,1131.0 L458.7,1129.6 L457.0,1131.3 L455.3,1129.8 L453.5,1130.4 L451.8,1130.5 L450.1,1129.7 L448.3,1128.5 L446.6,1127.2 L444.9,1127.3 L443.1,1127.8 L441.4,1128.9 L439.7,1129.3 L438.0,1130.8 L436.2,1132.1 L434.5,1131.7 L432.8,1132.2 L431.0,1133.3 L429.3,1133.4 L427.6,1132.2 L425.8,1133.9 L424.1,1133.6 L422.4,1134.4 L420.6,1134.4 L418.9,1135.9 L417.2,1136.6 L415.4,1136.4 L413.7,1139.8 L412.0,1140.0 L410.3,1141.3 L408.5,1141.6 L406.8,1143.5 L405.1,1142.7 L403.3,1145.7 L401.6,1144.3 L399.9,1145.3 L398.1,1145.9 L396.4,1146.5 L394.7,1146.8 L392.9,1145.6 L391.2,1143.1 L389.5,1141.8 L387.7,1141.5 L386.0,1139.6 L384.3,1138.6 L382.6,1137.2 L380.8,1134.3 L379.1,1135.0 L377.4,1133.1 L375.6,1133.1 L373.9,1131.5 L372.2,1130.2 L370.4,1130.8 L368.7,1128.8 L367.0,1127.7 L365.2,1125.3 L363.5,1126.4 L361.8,1125.7 L360.1,1125.5 L358.3,1128.3 L356.6,1127.2 L354.9,1127.3 L353.1,1126.4 L351.4,1126.4 L349.7,1125.9 L347.9,1123.3 L346.2,1124.9 L344.5,1124.3 L342.7,1121.5 L341.0,1122.0 L339.3,1121.9 L337.5,1123.1 L335.8,1124.6 L334.1,1123.4 L332.4,1124.9 L330.6,1124.2 L328.9,1122.2 L327.2,1122.5 L325.4,1121.6 L323.7,1121.5 L322.0,1121.0 L320.2,1119.3 L318.5,1122.4 L316.8,1123.1 L315.0,1121.9 L313.3,1123.6 L311.6,1124.4 L309.8,1124.8 L308.1,1121.7 L306.4,1123.3 L304.7,1121.4 L302.9,1123.0 L301.2,1123.3 L299.5,1126.5 L297.7,1128.9 L296.0,1129.0 L294.3,1133.5 L292.5,1134.1 L290.8,1133.7 L289.1,1133.9 L287.3,1133.7 L285.6,1135.2 L283.9,1136.7 L282.1,1137.3 L280.4,1138.2 L278.7,1138.6 L277.0,1140.3 L275.2,1141.4 L273.5,1141.2 Z" fill="#7570b3" fill-opacity="0.3" stroke="none"/>
<path d="M273.5,1132.1 L275.2,1132.0 L277.0,1129.4 L278.7,1129.5 L280.4,1130.3 L282.1,1123.1 L283.9,1116.0 L285.6,1107.3 L287.3,1099.0 L289.1,1090.4 L290.8,1086.9 L292.5,1082.1 L294.3,1081.9 L296.0,1081.0 L297.7,1081.2 L299.5,1083.7 L301.2,1085.3 L302.9,1085.1 L304.7,1081.4 L306.4,1077.4 L308.1,1076.0 L309.8,1075.4 L311.6,1081.6 L313.3,1087.7 L315.0,1094.4 L316.8,1096.7 L318.5,1095.6 L320.2,1095.7 L322.0,1094.0 L323.7,1090.3 L325.4,1088.2 L327.2,1085.2 L328.9,1085.0 L330.6,1085.2 L332.4,1084.3 L334.1,1084.5 L335.8,1088.4 L337.5,1088.4 L339.3,1087.4 L341.0,1087.0 L342.7,1083.5 L344.5,1079.3 L346.2,1073.6 L347.9,1073.4 L349.7,1072.0 L351.4,1068.3 L353.1,1072.4 L354.9,1075.3 L356.6,1077.6 L358.3,1082.1 L360.1,1086.3 L361.8,1091.8 L363.5,1091.4 L365.2,1093.3 L367.0,1092.4 L368.7,1092.2 L370.4,1090.5 L372.2,1088.1 L373.9,1089.3 L375.6,1091.2 L377.4,1092.3 L379.1,1095.0 L380.8,1097.7 L382.6,1101.1 L384.3,1104.8 L386.0,1105.8 L387.7,1110.6 L389.5,1111.3 L391.2,1115.9 L392.9,1113.5 L394.7,1112.8 L396.4,1109.5 L398.1,1106.9 L399.9,1105.2 L401.6,1103.9 L403.3,1102.6 L405.1,1100.9 L406.8,1099.8 L408.5,1097.5 L410.3,1095.3 L412.0,1090.9 L413.7,1084.9 L415.4,1082.8 L417.2,1078.5 L418.9,1078.2 L420.6,1075.2 L422.4,1076.7 L424.1,1077.2 L425.8,1081.6 L427.6,1083.8 L429.3,1088.9 L431.0,1096.0 L432.8,1098.2 L434.5,1102.9 L436.2,1107.4 L438.0,1106.1 L439.7,1103.4 L441.4,1102.8 L443.1,1101.8 L444.9,1105.3 L446.6,1105.9 L448.3,1110.0 L450.1,1112.9 L451.8,1117.9 L453.5,1118.2 L455.3,1122.6 L457.0,1121.5 L458.7,1122.3 L460.5,1118.5 L462.2,1117.5 L463.9,1116.6 L465.7,1112.0 L467.4,1109.8 L469.1,1113.0 L470.8,1113.8 L472.6,1114.7 L474.3,1120.1 L476.0,1120.2 L477.8,1121.1 L479.5,1119.4 L481.2,1117.6 L483.0,1115.4 L484.7,1110.9 L486.4,1109.0 L488.2,1105.5 L489.9,1104.1 L491.6,1102.5 L493.4,1102.2 L495.1,1104.5 L496.8,1105.7 L498.5,1105.0 L500.3,1101.9 L502.0,1098.6 L503.7,1097.9 L505.5,1100.0 L507.2,1099.9 L508.9,1100.8 L510.7,1103.6 L512.4,1106.6 L514.1,1106.1 L515.9,1110.0 L517.6,1112.8 L519.3,1111.8 L521.0,1109.3 L522.8,1110.3 L524.5,1106.6 L526.2,1105.5 L528.0,1102.9 L529.7,1099.6 L531.4,1102.0 L533.2,1102.5 L534.9,1104.0 L536.6,1106.4 L538.4,1109.4 L540.1,1111.8 L541.8,1110.2 L543.6,1106.4 L545.3,1104.4 L547.0,1102.6 L548.7,1101.0 L550.5,1097.5 L552.2,1099.9 L553.9,1101.0 L555.7,1102.9 L557.4,1101.3 L559.1,1100.1 L560.9,1097.8 L562.6,1093.8 L564.3,1091.7 L566.1,1091.0 L567.8,1090.3 L569.5,1091.2 L571.3,1094.1 L573.0,1095.8 L574.7,1100.3 L576.4,1100.3 L578.2,1100.8 L579.9,1101.9 L581.6,1100.4 L583.4,1097.7 L585.1,1096.0 L586.8,1093.3 L588.6,1090.2 L590.3,1088.6 L592.0,1086.3 L593.8,1087.5 L595.5,1086.8 L597.2,1081.7 L599.0,1076.5 L600.7,1072.5 L602.4,1069.3 L604.1,1064.2 L605.9,1063.0 L607.6,1065.0 L609.3,1065.7 L611.1,1066.9 L612.8,1069.9 L614.5,1069.5 L616.3,1069.0 L618.0,1066.8 L619.7,1062.4 L621.5,1058.2 L623.2,1057.2 L624.9,1052.4 L626.7,1050.4 L628.4,1052.8 L630.1,1051.5 L631.8,1054.7 L633.6,1059.7 L635.3,1062.7 L637.0,1062.8 L638.8,1065.8 L640.5,1067.4 L642.2,1066.3 L644.0,1063.7 L645.7,1063.1 L647.4,1060.7 L649.2,1060.5 L650.9,1059.9 L652.6,1060.7 L654.3,1057.3 L656.1,1058.3 L657.8,1054.9 L659.5,1054.3 L661.3,1052.2 L663.0,1051.6 L664.7,1051.6 L666.5,1050.3 L668.2,1050.4 L669.9,1051.2 L671.7,1050.7 L673.4,1051.3 L675.1,1048.9 L676.9,1047.7 L678.6,1044.3 L680.3,1039.7 L682.0,1040.3 L683.8,1040.1 L685.5,1041.1 L687.2,1043.3 L689.0,1045.7 L690.7,1048.6 L692.4,1052.2 L694.2,1052.8 L695.9,1055.3 L697.6,1056.9 L699.4,1059.6 L701.1,1060.1 L702.8,1061.3 L704.6,1061.6 L706.3,1060.4 L708.0,1060.7 L709.7,1061.9 L711.5,1061.6 L713.2,1062.6 L714.9,1065.5 L716.7,1068.8 L718.4,1070.4 L720.1,1072.9 L721.9,1072.5 L723.6,1075.0 L725.3,1073.5 L727.1,1067.4 L728.8,1064.9 L730.5,1061.2 L732.3,1058.7 L734.0,1059.4 L735.7,1061.4 L737.4,1062.1 L739.2,1062.3 L740.9,1064.5 L742.6,1066.0 L744.4,1068.7 L746.1,1069.6 L747.8,1069.8 L749.6,1070.8 L751.3,1070.3 L753.0,1072.2 L754.8,1074.2 L756.5,1074.2 L758.2,1072.8 L760.0,1074.6 L761.7,1075.8 L763.4,1074.9 L765.1,1077.3 L766.9,1076.4 L768.6,1079.0 L770.3,1081.2 L772.1,1086.0 L773.8,1088.6 L775.5,1091.5 L777.3,1093.7 L779.0,1096.7 L780.7,1097.2 L782.5,1100.6 L784.2,1100.9 L785.9,1098.0 L787.6,1098.1 L789.4,1099.7 L791.1,1101.2 L792.8,1103.6 L794.6,1103.5 L796.3,1101.9 L798.0,1100.1 L799.8,1099.5 L801.5,1095.6 L803.2,1094.7 L805.0,1095.3 L806.7,1099.1 L808.4,1102.8 L810.2,1104.4 L811.9,1109.1 L813.6,1111.9 L815.3,1114.9 L817.1,1117.5 L818.8,1118.2 L820.5,1114.5 L822.3,1113.3 L824.0,1111.5 L825.7,1116.5 L827.5,1121.0 L829.2,1126.7 L830.9,1129.5 L832.7,1137.5 L834.4,1141.2 L836.1,1138.5 L837.9,1137.1 L839.6,1132.0 L841.3,1124.5 L843.0,1121.5 L844.8,1119.1 L846.5,1115.1 L848.2,1120.3 L850.0,1124.5 L851.7,1127.7 L853.4,1133.9 L855.2,1136.2 L856.9,1136.8 L858.6,1133.9 L860.4,1130.7 L862.1,1128.8 L863.8,1128.5 L865.6,1131.8 L867.3,1138.8 L869.0,1143.1 L870.7,1149.8 L872.5,1158.2 L874.2,1166.1 L875.9,1170.5 L877.7,1175.4 L879.4,1172.6 L881.1,1168.5 L882.9,1160.4 L884.6,1151.0 L886.3,1145.4 L888.1,1142.8 L889.8,1143.1 L891.5,1150.9 L893.3,1154.9 L895.0,1156.6 L896.7,1156.7 L898.4,1155.2 L900.2,1152.5 L901.9,1149.4 L903.6,1146.4 L905.4,1141.6 L907.1,1139.1 L908.8,1138.7 L910.6,1141.5 L912.3,1143.6 L914.0,1145.0 L915.8,1148.4 L917.5,1151.3 L919.2,1150.4 L920.9,1150.9 L922.7,1150.5 L924.4,1149.1 L926.1,1147.8 L927.9,1143.5 L929.6,1142.5 L931.3,1140.3 L933.1,1138.7 L934.8,1140.2 L936.5,1138.5 L938.3,1141.6 L940.0,1137.9 L941.7,1136.3 L943.5,1134.2 L945.2,1132.5 L946.9,1130.6 L948.6,1134.5 L950.4,1135.7 L952.1,1139.2 L953.8,1139.3 L955.6,1140.6 L957.3,1136.0 L959.0,1127.7 L960.8,1119.8 L962.5,1111.9 L964.2,1106.9 L966.0,1106.4 L967.7,1106.1 L969.4,1113.2 L971.2,1122.1 L972.9,1126.5 L974.6,1135.5 L976.3,1133.4 L978.1,1131.1 L979.8,1124.1 L981.5,1114.1 L983.3,1109.4 L985.0,1106.2 L986.7,1107.5 L988.5,1110.0 L988.5,1164.5 L986.7,1164.8 L985.0,1164.9 L983.3,1166.2 L981.5,1166.5 L979.8,1169.2 L978.1,1174.5 L976.3,1180.2 L974.6,1182.9 L972.9,1185.1 L971.2,1180.3 L969.4,1174.3 L967.7,1169.5 L966.0,1167.0 L964.2,1162.7 L962.5,1160.9 L960.8,1164.2 L959.0,1168.4 L957.3,1177.9 L955.6,1182.9 L953.8,1186.1 L952.1,1188.3 L950.4,1190.2 L948.6,1189.5 L946.9,1190.4 L945.2,1190.6 L943.5,1189.9 L941.7,1190.3 L940.0,1187.6 L938.3,1187.0 L936.5,1186.0 L934.8,1186.0 L933.1,1190.1 L931.3,1190.3 L929.6,1193.1 L927.9,1195.6 L926.1,1196.8 L924.4,1200.5 L922.7,1201.1 L920.9,1203.5 L919.2,1201.6 L917.5,1198.7 L915.8,1197.7 L914.0,1198.7 L912.3,1199.0 L910.6,1201.6 L908.8,1201.9 L907.1,1206.0 L905.4,1206.4 L903.6,1210.5 L901.9,1212.8 L900.2,1212.9 L898.4,1212.2 L896.7,1214.8 L895.0,1212.2 L893.3,1211.6 L891.5,1210.4 L889.8,1209.5 L888.1,1207.5 L886.3,1205.0 L884.6,1207.3 L882.9,1212.6 L881.1,1215.0 L879.4,1218.5 L877.7,1220.8 L875.9,1218.3 L874.2,1214.2 L872.5,1210.8 L870.7,1204.6 L869.0,1199.4 L867.3,1192.4 L865.6,1184.5 L863.8,1187.9 L862.1,1187.3 L860.4,1187.2 L858.6,1190.9 L856.9,1190.4 L855.2,1191.8 L853.4,1189.8 L851.7,1187.6 L850.0,1186.8 L848.2,1183.3 L846.5,1182.8 L844.8,1180.9 L843.0,1185.0 L841.3,1188.5 L839.6,1189.8 L837.9,1193.3 L836.1,1198.5 L834.4,1196.9 L832.7,1194.8 L830.9,1191.2 L829.2,1187.5 L827.5,1184.9 L825.7,1182.1 L824.0,1178.3 L822.3,1178.0 L820.5,1174.9 L818.8,1176.5 L817.1,1174.7 L815.3,1173.8 L813.6,1170.9 L811.9,1167.7 L810.2,1164.8 L808.4,1164.8 L806.7,1165.8 L805.0,1165.3 L803.2,1170.2 L801.5,1176.1 L799.8,1179.3 L798.0,1179.8 L796.3,1181.3 L794.6,1179.9 L792.8,1177.1 L791.1,1173.1 L789.4,1171.6 L787.6,1169.6 L785.9,1169.1 L784.2,1165.7 L782.5,1166.2 L780.7,1165.6 L779.0,1161.7 L777.3,1162.5 L775.5,1159.6 L773.8,1155.9 L772.1,1153.1 L770.3,1150.8 L768.6,1149.5 L766.9,1147.9 L765.1,1148.2 L763.4,1145.1 L761.7,1143.0 L760.0,1141.7 L758.2,1138.3 L756.5,1137.9 L754.8,1134.3 L753.0,1133.9 L751.3,1133.1 L749.6,1133.1 L747.8,1132.8 L746.1,1131.6 L744.4,1131.2 L742.6,1129.0 L740.9,1125.8 L739.2,1125.8 L737.4,1123.4 L735.7,1118.8 L734.0,1116.6 L732.3,1118.1 L730.5,1116.9 L728.8,1118.3 L727.1,1123.1 L725.3,1128.2 L723.6,1131.0 L721.9,1132.9 L720.1,1137.2 L718.4,1136.7 L716.7,1133.0 L714.9,1129.9 L713.2,1127.8 L711.5,1122.6 L709.7,1122.9 L708.0,1119.9 L706.3,1118.2 L704.6,1118.4 L702.8,1120.4 L701.1,1119.9 L699.4,1118.5 L697.6,1116.7 L695.9,1114.7 L694.2,1115.0 L692.4,1110.6 L690.7,1109.5 L689.0,1107.7 L687.2,1102.3 L685.5,1099.8 L683.8,1100.0 L682.0,1099.8 L680.3,1099.6 L678.6,1103.0 L676.9,1105.3 L675.1,1109.5 L673.4,1109.6 L671.7,1109.2 L669.9,1109.6 L668.2,1109.5 L666.5,1108.3 L664.7,1107.7 L663.0,1109.4 L661.3,1109.4 L659.5,1111.7 L657.8,1115.0 L656.1,1117.2 L654.3,1118.7 L652.6,1119.6 L650.9,1121.4 L649.2,1122.8 L647.4,1124.8 L645.7,1124.8 L644.0,1129.6 L642.2,1131.0 L640.5,1132.8 L638.8,1132.4 L637.0,1130.9 L635.3,1129.0 L633.6,1126.7 L631.8,1120.5 L630.1,1118.5 L628.4,1115.9 L626.7,1116.6 L624.9,1116.9 L623.2,1121.1 L621.5,1123.7 L619.7,1125.4 L618.0,1125.9 L616.3,1126.9 L614.5,1123.0 L612.8,1120.8 L611.1,1117.7 L609.3,1114.8 L607.6,1115.0 L605.9,1115.5 L604.1,1119.5 L602.4,1123.2 L600.7,1126.6 L599.0,1127.8 L597.2,1132.3 L595.5,1136.1 L593.8,1134.6 L592.0,1134.8 L590.3,1134.6 L588.6,1139.7 L586.8,1143.9 L585.1,1147.3 L583.4,1150.7 L581.6,1151.9 L579.9,1155.5 L578.2,1155.3 L576.4,1154.6 L574.7,1152.7 L573.0,1150.2 L571.3,1147.4 L569.5,1146.1 L567.8,1148.7 L566.1,1152.3 L564.3,1153.4 L562.6,1157.8 L560.9,1160.6 L559.1,1160.3 L557.4,1157.2 L555.7,1157.7 L553.9,1155.3 L552.2,1152.1 L550.5,1151.0 L548.7,1153.9 L547.0,1158.2 L545.3,1161.6 L543.6,1163.8 L541.8,1167.4 L540.1,1170.6 L538.4,1167.6 L536.6,1165.2 L534.9,1161.9 L533.2,1158.8 L531.4,1155.0 L529.7,1148.8 L528.0,1145.5 L526.2,1144.3 L524.5,1141.4 L522.8,1143.7 L521.0,1146.0 L519.3,1150.6 L517.6,1158.5 L515.9,1166.3 L514.1,1169.6 L512.4,1168.1 L510.7,1167.6 L508.9,1166.3 L507.2,1165.3 L505.5,1165.4 L503.7,1167.8 L502.0,1168.2 L500.3,1171.8 L498.5,1170.3 L496.8,1168.5 L495.1,1168.0 L493.4,1167.4 L491.6,1167.0 L489.9,1168.3 L488.2,1172.3 L486.4,1176.4 L484.7,1182.9 L483.0,1188.0 L481.2,1193.1 L479.5,1200.8 L477.8,1194.3 L476.0,1188.9 L474.3,1184.7 L472.6,1176.8 L470.8,1173.9 L469.1,1171.6 L467.4,1171.0 L465.7,1170.8 L463.9,1170.4 L462.2,1171.5 L460.5,1175.2 L458.7,1175.1 L457.0,1175.8 L455.3,1179.7 L453.5,1180.4 L451.8,1182.0 L450.1,1178.1 L448.3,1179.4 L446.6,1175.3 L444.9,1173.7 L443.1,1173.8 L441.4,1172.1 L439.7,1170.8 L438.0,1173.3 L436.2,1175.1 L434.5,1176.5 L432.8,1175.6 L431.0,1174.3 L429.3,1173.0 L427.6,1172.3 L425.8,1169.4 L424.1,1168.9 L422.4,1167.1 L420.6,1165.4 L418.9,1165.5 L417.2,1162.0 L415.4,1161.5 L413.7,1163.7 L412.0,1164.1 L410.3,1168.8 L408.5,1174.8 L406.8,1180.5 L405.1,1188.5 L403.3,1192.1 L401.6,1196.9 L399.9,1194.1 L398.1,1193.2 L396.4,1194.6 L394.7,1191.2 L392.9,1187.6 L391.2,1185.0 L389.5,1180.4 L387.7,1176.9 L386.0,1173.8 L384.3,1170.0 L382.6,1167.1 L380.8,1163.1 L379.1,1159.5 L377.4,1155.9 L375.6,1153.7 L373.9,1154.8 L372.2,1151.6 L370.4,1149.8 L368.7,1151.9 L367.0,1151.6 L365.2,1152.6 L363.5,1153.4 L361.8,1149.6 L360.1,1148.4 L358.3,1146.0 L356.6,1145.5 L354.9,1144.4 L353.1,1143.2 L351.4,1140.8 L349.7,1143.5 L347.9,1145.3 L346.2,1148.4 L344.5,1152.2 L342.7,1149.9 L341.0,1152.0 L339.3,1150.7 L337.5,1148.8 L335.8,1148.9 L334.1,1144.8 L332.4,1149.0 L330.6,1152.3 L328.9,1156.7 L327.2,1160.0 L325.4,1162.5 L323.7,1167.6 L322.0,1168.2 L320.2,1170.0 L318.5,1169.9 L316.8,1166.7 L315.0,1163.6 L313.3,1159.9 L311.6,1154.8 L309.8,1151.2 L308.1,1154.2 L306.4,1155.8 L304.7,1154.8 L302.9,1154.5 L301.2,1151.5 L299.5,1151.9 L297.7,1154.2 L296.0,1154.2 L294.3,1157.6 L292.5,1158.0 L290.8,1159.8 L289.1,1164.2 L287.3,1167.3 L285.6,1174.1 L283.9,1182.9 L282.1,1189.8 L280.4,1189.0 L278.7,1185.6 L277.0,1179.2 L275.2,1169.1 L273.5,1159.5 Z" fill="#d95f02" fill-opacity="0.3" stroke="none"/>
<path d="M273.5,1055.8 L275.2,1058.1 L277.0,1059.4 L278.7,1068.2 L280.4,1079.8 L282.1,1089.1 L283.9,1099.3 L285.6,1108.1 L287.3,1102.9 L289.1,1099.3 L290.8,1098.2 L292.5,1093.1 L294.3,1091.1 L296.0,1088.3 L297.7,1087.1 L299.5,1084.7 L301.2,1087.0 L302.9,1088.6 L304.7,1088.4 L306.4,1089.9 L308.1,1090.6 L309.8,1089.6 L311.6,1092.6 L313.3,1092.9 L315.0,1094.0 L316.8,1095.8 L318.5,1100.9 L320.2,1099.5 L322.0,1098.9 L323.7,1097.9 L325.4,1096.1 L327.2,1095.3 L328.9,1092.3 L330.6,1092.2 L332.4,1091.0 L334.1,1093.8 L335.8,1095.0 L337.5,1094.1 L339.3,1094.4 L341.0,1094.7 L342.7,1096.9 L344.5,1095.2 L346.2,1095.1 L347.9,1093.4 L349.7,1093.3 L351.4,1092.3 L353.1,1091.5 L354.9,1091.5 L356.6,1090.8 L358.3,1093.3 L360.1,1094.4 L361.8,1096.9 L363.5,1098.4 L365.2,1100.5 L367.0,1100.7 L368.7,1096.6 L370.4,1096.1 L372.2,1094.0 L373.9,1092.1 L375.6,1089.4 L377.4,1089.7 L379.1,1091.7 L380.8,1097.0 L382.6,1099.7 L384.3,1102.3 L386.0,1105.1 L387.7,1110.6 L389.5,1113.8 L391.2,1113.8 L392.9,1118.7 L394.7,1118.5 L396.4,1118.4 L398.1,1119.5 L399.9,1121.1 L401.6,1120.0 L403.3,1116.2 L405.1,1116.5 L406.8,1113.2 L408.5,1113.5 L410.3,1110.6 L412.0,1110.5 L413.7,1109.1 L415.4,1105.9 L417.2,1109.9 L418.9,1111.3 L420.6,1114.1 L422.4,1118.5 L424.1,1119.5 L425.8,1122.8 L427.6,1125.4 L429.3,1126.0 L431.0,1124.6 L432.8,1124.3 L434.5,1126.3 L436.2,1124.0 L438.0,1125.2 L439.7,1124.4 L441.4,1123.5 L443.1,1124.5 L444.9,1125.3 L446.6,1126.7 L448.3,1127.9 L450.1,1129.2 L451.8,1130.8 L453.5,1130.7 L455.3,1127.6 L457.0,1125.7 L458.7,1124.5 L460.5,1121.0 L462.2,1119.1 L463.9,1119.4 L465.7,1117.3 L467.4,1116.7 L469.1,1114.4 L470.8,1113.2 L472.6,1110.3 L474.3,1105.1 L476.0,1106.8 L477.8,1108.0 L479.5,1108.2 L481.2,1112.5 L483.0,1114.6 L484.7,1116.2 L486.4,1115.2 L488.2,1116.2 L489.9,1116.3 L491.6,1114.2 L493.4,1114.3 L495.1,1116.7 L496.8,1118.3 L498.5,1116.8 L500.3,1118.0 L502.0,1118.4 L503.7,1117.6 L505.5,1117.7 L507.2,1118.4 L508.9,1120.1 L510.7,1122.2 L512.4,1122.8 L514.1,1124.6 L515.9,1128.2 L517.6,1129.3 L519.3,1129.5 L521.0,1128.6 L522.8,1126.0 L524.5,1124.3 L526.2,1124.7 L528.0,1121.6 L529.7,1120.1 L531.4,1121.0 L533.2,1122.5 L534.9,1121.4 L536.6,1122.6 L538.4,1122.7 L540.1,1124.2 L541.8,1123.0 L543.6,1123.5 L545.3,1120.1 L547.0,1119.2 L548.7,1118.8 L550.5,1118.7 L552.2,1116.7 L553.9,1115.3 L555.7,1114.5 L557.4,1115.7 L559.1,1114.7 L560.9,1116.5 L562.6,1115.8 L564.3,1112.4 L566.1,1111.3 L567.8,1111.5 L569.5,1111.7 L571.3,1112.9 L573.0,1112.2 L574.7,1112.3 L576.4,1113.4 L578.2,1115.6 L579.9,1114.8 L581.6,1113.3 L583.4,1110.9 L585.1,1108.3 L586.8,1105.7 L588.6,1104.6 L590.3,1099.7 L592.0,1098.3 L593.8,1100.2 L595.5,1099.1 L597.2,1096.8 L599.0,1092.6 L600.7,1091.2 L602.4,1086.0 L604.1,1078.7 L605.9,1074.9 L607.6,1069.4 L609.3,1063.3 L611.1,1061.7 L612.8,1059.9 L614.5,1062.9 L616.3,1066.0 L618.0,1069.0 L619.7,1074.0 L621.5,1073.9 L623.2,1073.7 L624.9,1069.7 L626.7,1069.5 L628.4,1065.4 L630.1,1062.7 L631.8,1059.9 L633.6,1057.6 L635.3,1053.3 L637.0,1048.3 L638.8,1060.0 L640.5,1063.5 L642.2,1066.5 L644.0,1070.2 L645.7,1071.5 L647.4,1072.5 L649.2,1075.5 L650.9,1075.7 L652.6,1074.0 L654.3,1072.9 L656.1,1073.7 L657.8,1070.8 L659.5,1070.0 L661.3,1066.9 L663.0,1064.8 L664.7,1064.0 L666.5,1063.5 L668.2,1060.7 L669.9,1061.7 L671.7,1060.8 L673.4,1058.7 L675.1,1057.0 L676.9,1053.3 L678.6,1054.3 L680.3,1054.2 L682.0,1053.2 L683.8,1056.5 L685.5,1059.1 L687.2,1063.1 L689.0,1066.3 L690.7,1069.9 L692.4,1073.5 L694.2,1073.8 L695.9,1076.5 L697.6,1077.7 L699.4,1078.5 L701.1,1079.2 L702.8,1081.9 L704.6,1081.5 L706.3,1079.2 L708.0,1080.5 L709.7,1079.9 L711.5,1079.9 L713.2,1080.7 L714.9,1083.0 L716.7,1084.2 L718.4,1084.9 L720.1,1084.6 L721.9,1085.0 L723.6,1084.3 L725.3,1085.8 L727.1,1087.0 L728.8,1086.7 L730.5,1086.5 L732.3,1088.4 L734.0,1091.0 L735.7,1093.8 L737.4,1096.4 L739.2,1098.7 L740.9,1103.4 L742.6,1106.4 L744.4,1108.6 L746.1,1110.1 L747.8,1112.2 L749.6,1113.7 L751.3,1112.9 L753.0,1113.7 L754.8,1113.0 L756.5,1112.4 L758.2,1113.2 L760.0,1113.7 L761.7,1111.8 L763.4,1112.5 L765.1,1111.6 L766.9,1112.1 L768.6,1112.9 L770.3,1113.0 L772.1,1116.3 L773.8,1115.9 L775.5,1113.5 L777.3,1113.2 L779.0,1110.0 L780.7,1109.5 L782.5,1106.4 L784.2,1105.7 L785.9,1104.3 L787.6,1106.5 L789.4,1111.1 L791.1,1114.9 L792.8,1118.5 L794.6,1125.2 L796.3,1128.6 L798.0,1128.1 L799.8,1128.3 L801.5,1124.3 L803.2,1120.2 L805.0,1115.9 L806.7,1114.5 L808.4,1115.0 L810.2,1117.1 L811.9,1122.3 L813.6,1123.6 L815.3,1129.2 L817.1,1131.9 L818.8,1135.0 L820.5,1138.0 L822.3,1139.8 L824.0,1143.9 L825.7,1145.1 L827.5,1151.1 L829.2,1154.7 L830.9,1159.6 L832.7,1160.2 L834.4,1163.0 L836.1,1164.4 L837.9,1159.8 L839.6,1157.1 L841.3,1154.3 L843.0,1150.8 L844.8,1144.4 L846.5,1144.8 L848.2,1149.4 L850.0,1154.8 L851.7,1160.1 L853.4,1164.2 L855.2,1169.3 L856.9,1171.3 L858.6,1172.0 L860.4,1173.1 L862.1,1172.9 L863.8,1175.0 L865.6,1177.3 L867.3,1183.2 L869.0,1192.0 L870.7,1198.1 L872.5,1207.7 L874.2,1216.0 L875.9,1220.8 L877.7,1224.9 L879.4,1222.8 L881.1,1218.7 L882.9,1214.2 L884.6,1206.2 L886.3,1201.4 L888.1,1200.8 L889.8,1198.7 L891.5,1196.9 L893.3,1198.4 L895.0,1200.9 L896.7,1199.2 L898.4,1197.7 L900.2,1195.7 L901.9,1194.6 L903.6,1191.2 L905.4,1188.3 L907.1,1187.1 L908.8,1185.3 L910.6,1180.7 L912.3,1183.0 L914.0,1183.9 L915.8,1186.9 L917.5,1187.9 L919.2,1188.6 L920.9,1189.9 L922.7,1184.2 L924.4,1180.3 L926.1,1174.9 L927.9,1169.0 L929.6,1164.4 L931.3,1159.9 L933.1,1159.5 L934.8,1155.9 L936.5,1158.2 L938.3,1159.2 L940.0,1162.2 L941.7,1164.4 L943.5,1168.1 L945.2,1170.6 L946.9,1170.2 L948.6,1168.2 L950.4,1167.2 L952.1,1166.4 L953.8,1164.2 L955.6,1164.3 L957.3,1165.4 L959.0,1164.8 L960.8,1164.9 L962.5,1164.1 L964.2,1164.4 L966.0,1165.4 L967.7,1168.5 L969.4,1170.7 L971.2,1171.4 L972.9,1173.9 L974.6,1173.3 L976.3,1169.6 L978.1,1167.7 L979.8,1162.4 L981.5,1155.6 L983.3,1147.3 L985.0,1143.3 L986.7,1138.7 L988.5,1140.5 L988.5,1211.2 L986.7,1207.1 L985.0,1207.0 L983.3,1212.9 L981.5,1214.6 L979.8,1221.0 L978.1,1229.5 L976.3,1236.6 L974.6,1240.2 L972.9,1244.3 L971.2,1244.0 L969.4,1238.0 L967.7,1235.4 L966.0,1233.7 L964.2,1231.7 L962.5,1229.0 L960.8,1225.9 L959.0,1224.0 L957.3,1226.7 L955.6,1229.6 L953.8,1232.2 L952.1,1234.7 L950.4,1238.3 L948.6,1240.0 L946.9,1239.2 L945.2,1239.3 L943.5,1238.0 L941.7,1231.7 L940.0,1226.4 L938.3,1222.0 L936.5,1216.3 L934.8,1213.7 L933.1,1214.9 L931.3,1215.3 L929.6,1222.2 L927.9,1227.0 L926.1,1235.7 L924.4,1242.3 L922.7,1246.1 L920.9,1248.6 L919.2,1247.0 L917.5,1244.6 L915.8,1244.3 L914.0,1240.3 L912.3,1241.0 L910.6,1240.9 L908.8,1243.8 L907.1,1249.5 L905.4,1252.1 L903.6,1257.0 L901.9,1261.2 L900.2,1266.0 L898.4,1266.9 L896.7,1268.4 L895.0,1267.9 L893.3,1261.7 L891.5,1257.7 L889.8,1255.6 L888.1,1256.3 L886.3,1260.6 L884.6,1266.4 L882.9,1274.2 L881.1,1279.5 L879.4,1286.2 L877.7,1282.5 L875.9,1279.1 L874.2,1270.2 L872.5,1262.9 L870.7,1257.1 L869.0,1250.6 L867.3,1244.1 L865.6,1239.5 L863.8,1241.6 L862.1,1242.7 L860.4,1246.5 L858.6,1247.8 L856.9,1248.7 L855.2,1251.0 L853.4,1245.5 L851.7,1241.1 L850.0,1234.3 L848.2,1230.4 L846.5,1226.0 L844.8,1223.2 L843.0,1220.8 L841.3,1222.9 L839.6,1226.7 L837.9,1231.1 L836.1,1237.8 L834.4,1240.1 L832.7,1240.6 L830.9,1241.4 L829.2,1237.3 L827.5,1228.6 L825.7,1222.4 L824.0,1217.1 L822.3,1216.1 L820.5,1210.5 L818.8,1210.2 L817.1,1204.7 L815.3,1202.4 L813.6,1200.2 L811.9,1193.6 L810.2,1189.6 L808.4,1185.3 L806.7,1182.0 L805.0,1180.2 L803.2,1183.9 L801.5,1188.8 L799.8,1192.1 L798.0,1197.2 L796.3,1199.9 L794.6,1199.9 L792.8,1195.4 L791.1,1192.9 L789.4,1192.9 L787.6,1191.4 L785.9,1188.2 L784.2,1186.1 L782.5,1185.0 L780.7,1184.5 L779.0,1181.0 L777.3,1180.0 L775.5,1182.2 L773.8,1181.7 L772.1,1183.7 L770.3,1178.6 L768.6,1174.1 L766.9,1172.1 L765.1,1169.8 L763.4,1168.9 L761.7,1169.4 L760.0,1170.0 L758.2,1173.3 L756.5,1175.3 L754.8,1176.6 L753.0,1178.9 L751.3,1178.8 L749.6,1180.2 L747.8,1180.7 L746.1,1177.1 L744.4,1172.3 L742.6,1167.4 L740.9,1166.0 L739.2,1160.8 L737.4,1160.2 L735.7,1159.0 L734.0,1159.1 L732.3,1157.3 L730.5,1155.9 L728.8,1152.5 L727.1,1153.0 L725.3,1154.1 L723.6,1155.4 L721.9,1155.1 L720.1,1156.9 L718.4,1157.7 L716.7,1157.2 L714.9,1154.0 L713.2,1152.7 L711.5,1150.7 L709.7,1149.0 L708.0,1146.3 L706.3,1149.4 L704.6,1149.6 L702.8,1149.6 L701.1,1151.0 L699.4,1151.5 L697.6,1154.6 L695.9,1153.3 L694.2,1153.2 L692.4,1155.4 L690.7,1153.5 L689.0,1151.8 L687.2,1148.6 L685.5,1148.3 L683.8,1145.2 L682.0,1142.2 L680.3,1138.6 L678.6,1137.5 L676.9,1133.3 L675.1,1133.7 L673.4,1131.2 L671.7,1128.8 L669.9,1128.2 L668.2,1129.8 L666.5,1131.3 L664.7,1133.4 L663.0,1135.9 L661.3,1140.3 L659.5,1144.3 L657.8,1146.5 L656.1,1147.8 L654.3,1148.4 L652.6,1148.4 L650.9,1148.1 L649.2,1147.5 L647.4,1148.8 L645.7,1150.2 L644.0,1151.2 L642.2,1149.0 L640.5,1148.7 L638.8,1142.8 L637.0,1139.9 L635.3,1133.9 L633.6,1131.5 L631.8,1129.6 L630.1,1129.9 L628.4,1133.2 L626.7,1139.0 L624.9,1144.8 L623.2,1152.1 L621.5,1154.7 L619.7,1151.9 L618.0,1146.8 L616.3,1138.8 L614.5,1131.8 L612.8,1129.5 L611.1,1124.2 L609.3,1127.2 L607.6,1132.0 L605.9,1138.1 L604.1,1146.8 L602.4,1153.7 L600.7,1161.3 L599.0,1163.2 L597.2,1165.0 L595.5,1167.1 L593.8,1168.3 L592.0,1171.9 L590.3,1175.3 L588.6,1181.6 L586.8,1189.8 L585.1,1200.2 L583.4,1203.1 L581.6,1207.1 L579.9,1206.0 L578.2,1202.6 L576.4,1195.5 L574.7,1188.1 L573.0,1181.1 L571.3,1176.9 L569.5,1179.2 L567.8,1178.8 L566.1,1181.4 L564.3,1185.1 L562.6,1186.8 L560.9,1188.2 L559.1,1190.1 L557.4,1190.3 L555.7,1190.1 L553.9,1188.5 L552.2,1185.8 L550.5,1182.8 L548.7,1181.1 L547.0,1179.0 L545.3,1177.2 L543.6,1176.4 L541.8,1176.7 L540.1,1176.8 L538.4,1178.5 L536.6,1182.3 L534.9,1184.5 L533.2,1182.4 L531.4,1179.3 L529.7,1179.8 L528.0,1182.3 L526.2,1185.5 L524.5,1187.5 L522.8,1191.7 L521.0,1193.0 L519.3,1198.1 L517.6,1202.1 L515.9,1203.9 L514.1,1206.2 L512.4,1202.7 L510.7,1199.2 L508.9,1198.0 L507.2,1196.6 L505.5,1192.8 L503.7,1190.2 L502.0,1186.4 L500.3,1181.0 L498.5,1180.7 L496.8,1178.3 L495.1,1176.7 L493.4,1177.2 L491.6,1178.6 L489.9,1179.7 L488.2,1180.0 L486.4,1183.2 L484.7,1181.8 L483.0,1181.8 L481.2,1181.1 L479.5,1179.4 L477.8,1178.1 L476.0,1176.7 L474.3,1172.7 L472.6,1173.1 L470.8,1171.7 L469.1,1175.6 L467.4,1181.1 L465.7,1182.7 L463.9,1183.0 L462.2,1183.0 L460.5,1182.1 L458.7,1184.6 L457.0,1187.1 L455.3,1191.8 L453.5,1202.8 L451.8,1210.9 L450.1,1215.8 L448.3,1218.4 L446.6,1217.7 L444.9,1213.3 L443.1,1207.7 L441.4,1203.0 L439.7,1198.7 L438.0,1194.3 L436.2,1191.4 L434.5,1194.0 L432.8,1200.6 L431.0,1206.2 L429.3,1212.1 L427.6,1217.7 L425.8,1213.5 L424.1,1205.9 L422.4,1197.1 L420.6,1188.4 L418.9,1179.3 L417.2,1170.4 L415.4,1165.3 L413.7,1169.3 L412.0,1172.3 L410.3,1177.9 L408.5,1179.9 L406.8,1184.6 L405.1,1185.6 L403.3,1183.8 L401.6,1182.2 L399.9,1180.9 L398.1,1180.7 L396.4,1177.8 L394.7,1177.2 L392.9,1174.4 L391.2,1175.5 L389.5,1172.7 L387.7,1170.9 L386.0,1169.2 L384.3,1167.8 L382.6,1164.6 L380.8,1163.1 L379.1,1161.3 L377.4,1157.6 L375.6,1159.7 L373.9,1163.6 L372.2,1167.5 L370.4,1171.5 L368.7,1174.7 L367.0,1178.3 L365.2,1176.1 L363.5,1171.4 L361.8,1168.0 L360.1,1167.8 L358.3,1162.8 L356.6,1163.1 L354.9,1163.0 L353.1,1160.0 L351.4,1162.4 L349.7,1163.7 L347.9,1163.7 L346.2,1163.5 L344.5,1162.6 L342.7,1161.3 L341.0,1157.6 L339.3,1155.4 L337.5,1152.5 L335.8,1155.9 L334.1,1158.4 L332.4,1161.3 L330.6,1163.1 L328.9,1164.2 L327.2,1168.4 L325.4,1168.9 L323.7,1168.9 L322.0,1167.8 L320.2,1167.9 L318.5,1166.2 L316.8,1163.3 L315.0,1162.5 L313.3,1157.4 L311.6,1157.2 L309.8,1161.1 L308.1,1163.1 L306.4,1168.8 L304.7,1165.0 L302.9,1161.9 L301.2,1160.7 L299.5,1158.6 L297.7,1158.5 L296.0,1156.7 L294.3,1158.2 L292.5,1161.6 L290.8,1163.5 L289.1,1164.0 L287.3,1163.9 L285.6,1164.9 L283.9,1161.2 L282.1,1157.0 L280.4,1153.4 L278.7,1152.1 L277.0,1147.1 L275.2,1144.3 L273.5,1144.0 Z" fill="#1b9e77" fill-opacity="0.3" stroke="none"/>
<path d="M273.5,1100.8 C273.8,1100.5 274.8,1099.8 275.5,1099.4 C276.1,1099.1 276.9,1098.2 277.4,1098.8 C278.0,1099.3 278.2,1100.8 278.7,1102.7 C279.3,1104.7 280.0,1107.5 280.7,1110.6 C281.3,1113.6 282.1,1117.5 282.6,1121.0 C283.2,1124.5 283.5,1128.7 283.9,1131.5 C284.4,1134.2 284.7,1136.5 285.3,1137.3 C285.8,1138.2 286.6,1137.2 287.2,1136.7 C287.9,1136.1 288.5,1135.2 289.2,1134.1 C289.8,1133.0 290.4,1131.7 291.1,1130.1 C291.9,1128.6 292.9,1126.7 293.7,1124.9 C294.6,1123.2 295.5,1120.9 296.4,1119.7 C297.2,1118.5 298.2,1118.0 299.0,1117.7 C299.7,1117.5 300.3,1117.6 300.9,1118.4 C301.6,1119.2 302.2,1120.9 302.9,1122.3 C303.5,1123.7 304.2,1125.6 304.8,1126.9 C305.5,1128.2 306.0,1129.6 306.8,1130.1 C307.6,1130.7 308.6,1130.4 309.4,1130.1 C310.3,1129.9 311.3,1129.2 312.0,1128.8 C312.8,1128.5 313.3,1128.0 314.0,1128.2 C314.6,1128.4 315.2,1129.4 316.0,1130.1 C316.7,1130.9 317.7,1132.2 318.6,1132.8 C319.4,1133.3 320.4,1133.0 321.2,1133.4 C321.9,1133.9 322.5,1134.8 323.1,1135.4 C323.8,1135.9 324.4,1136.4 325.1,1136.7 C325.8,1137.0 326.4,1137.8 327.1,1137.3 C327.7,1136.9 328.3,1135.3 329.0,1134.1 C329.8,1132.9 330.8,1131.5 331.6,1130.1 C332.5,1128.8 333.4,1127.3 334.2,1126.2 C335.1,1125.1 336.0,1124.3 336.9,1123.6 C337.7,1123.0 338.7,1122.3 339.5,1122.3 C340.2,1122.3 340.7,1122.7 341.4,1123.6 C342.2,1124.5 343.2,1126.4 344.0,1127.5 C344.9,1128.6 345.8,1129.7 346.7,1130.1 C347.5,1130.6 348.4,1130.6 349.3,1130.1 C350.1,1129.7 351.0,1128.4 351.9,1127.5 C352.8,1126.7 353.6,1125.6 354.5,1124.9 C355.4,1124.3 356.3,1123.5 357.1,1123.6 C357.9,1123.7 358.4,1124.5 359.1,1125.6 C359.7,1126.7 360.4,1128.5 361.0,1130.1 C361.7,1131.8 362.2,1133.9 363.0,1135.4 C363.8,1136.9 364.8,1138.5 365.6,1139.3 C366.4,1140.1 366.9,1140.4 367.6,1139.9 C368.2,1139.5 368.9,1137.9 369.5,1136.7 C370.2,1135.5 370.8,1134.1 371.5,1132.8 C372.1,1131.5 372.8,1130.1 373.4,1128.8 C374.1,1127.5 374.7,1126.0 375.4,1124.9 C376.1,1123.8 376.7,1122.5 377.4,1122.3 C378.0,1122.1 378.7,1122.5 379.3,1123.6 C380.0,1124.7 380.6,1127.1 381.3,1128.8 C381.9,1130.6 382.6,1132.5 383.2,1134.1 C383.9,1135.6 384.4,1136.7 385.2,1138.0 C386.0,1139.3 386.9,1141.3 387.8,1141.9 C388.7,1142.6 389.6,1142.1 390.4,1141.9 C391.3,1141.7 392.3,1140.8 393.0,1140.6 C393.8,1140.4 394.2,1140.6 395.0,1140.6 C395.8,1140.6 396.9,1140.6 397.8,1140.6 C398.7,1140.6 399.7,1140.1 400.5,1140.6 C401.2,1141.1 401.8,1143.0 402.4,1143.9 C403.1,1144.7 403.7,1145.9 404.4,1145.8 C405.0,1145.7 405.6,1144.2 406.3,1143.2 C407.1,1142.2 408.1,1140.8 408.9,1139.9 C409.8,1139.1 410.7,1138.4 411.6,1138.0 C412.4,1137.6 413.4,1137.4 414.2,1137.3 C414.9,1137.2 415.5,1136.6 416.1,1137.3 C416.8,1138.1 417.4,1140.1 418.1,1141.9 C418.7,1143.8 419.4,1146.3 420.0,1148.4 C420.7,1150.6 421.4,1152.9 422.0,1155.0 C422.7,1157.0 423.3,1159.2 424.0,1160.9 C424.6,1162.5 425.3,1163.9 425.9,1164.8 C426.6,1165.6 427.1,1166.2 427.9,1166.1 C428.7,1166.0 429.6,1164.8 430.5,1164.1 C431.4,1163.5 432.2,1162.8 433.1,1162.2 C434.0,1161.5 435.0,1160.6 435.7,1160.2 C436.5,1159.8 437.0,1159.2 437.7,1159.5 C438.3,1159.9 439.0,1161.0 439.6,1162.2 C440.3,1163.4 441.0,1165.3 441.6,1166.7 C442.3,1168.1 442.8,1169.3 443.6,1170.7 C444.3,1172.0 445.4,1173.6 446.2,1174.6 C446.9,1175.6 447.5,1176.7 448.1,1176.5 C448.8,1176.3 449.4,1174.7 450.1,1173.3 C450.8,1171.8 451.4,1169.8 452.1,1168.0 C452.7,1166.3 453.4,1164.6 454.0,1162.8 C454.7,1161.1 455.3,1159.1 456.0,1157.6 C456.6,1156.1 457.2,1154.5 457.9,1153.7 C458.7,1152.8 459.7,1152.4 460.6,1152.4 C461.4,1152.4 462.4,1153.1 463.2,1153.7 C463.9,1154.2 464.5,1155.6 465.1,1155.6 C465.8,1155.6 466.4,1154.6 467.1,1153.7 C467.7,1152.7 468.4,1151.5 469.0,1149.7 C469.7,1148.0 470.4,1145.4 471.0,1143.2 C471.7,1141.0 472.3,1138.6 473.0,1136.7 C473.6,1134.7 474.3,1132.8 474.9,1131.5 C475.6,1130.1 476.2,1129.1 476.9,1128.8 C477.5,1128.6 478.2,1129.1 478.8,1130.1 C479.5,1131.2 480.1,1133.9 480.8,1135.4 C481.5,1136.9 482.1,1138.0 482.8,1139.3 C483.4,1140.6 484.1,1141.7 484.7,1143.2 C485.4,1144.7 486.0,1147.1 486.7,1148.4 C487.3,1149.7 487.9,1150.8 488.6,1151.1 C489.4,1151.3 490.4,1150.2 491.3,1149.7 C492.1,1149.3 493.0,1148.3 493.9,1148.4 C494.7,1148.5 495.6,1149.5 496.5,1150.4 C497.4,1151.3 498.2,1152.7 499.1,1153.7 C500.0,1154.6 500.7,1155.5 501.7,1156.3 C502.7,1157.0 504.0,1157.5 505.0,1158.2 C506.0,1159.0 506.7,1159.9 507.6,1160.9 C508.5,1161.8 509.3,1162.8 510.2,1164.1 C511.1,1165.4 511.9,1167.4 512.8,1168.7 C513.7,1170.0 514.6,1171.5 515.4,1172.0 C516.3,1172.4 517.3,1171.7 518.0,1171.3 C518.8,1170.9 519.5,1170.2 520.0,1169.3 C520.5,1168.5 520.4,1167.7 520.9,1166.3 C521.4,1165.0 522.1,1162.8 522.8,1161.1 C523.6,1159.4 524.6,1157.4 525.5,1155.9 C526.3,1154.4 527.2,1152.9 528.1,1152.0 C528.9,1151.0 529.8,1150.4 530.7,1150.0 C531.5,1149.6 532.4,1148.8 533.3,1149.3 C534.2,1149.9 535.1,1153.0 535.9,1153.3 C536.7,1153.5 537.1,1151.3 537.9,1150.7 C538.6,1150.0 539.6,1149.5 540.5,1149.3 C541.3,1149.2 542.2,1149.8 543.1,1150.0 C544.0,1150.2 544.8,1150.8 545.7,1150.7 C546.6,1150.5 547.4,1149.6 548.3,1149.3 C549.2,1149.1 550.1,1149.6 550.9,1149.3 C551.8,1149.1 552.8,1147.8 553.5,1148.0 C554.3,1148.3 554.8,1149.8 555.5,1150.7 C556.2,1151.5 556.7,1153.2 557.5,1153.3 C558.2,1153.4 559.2,1152.0 560.1,1151.3 C560.9,1150.7 561.8,1150.1 562.7,1149.3 C563.6,1148.6 564.5,1147.6 565.3,1146.7 C566.1,1145.9 566.6,1145.1 567.3,1144.1 C567.9,1143.1 568.6,1141.3 569.2,1140.9 C569.9,1140.4 570.5,1140.7 571.2,1141.5 C571.8,1142.3 572.6,1143.7 573.1,1145.4 C573.7,1147.2 574.0,1149.6 574.4,1152.0 C574.9,1154.4 575.2,1157.4 575.8,1159.8 C576.3,1162.2 577.1,1164.6 577.7,1166.3 C578.4,1168.1 579.0,1169.5 579.7,1170.2 C580.3,1171.0 581.0,1171.3 581.6,1170.9 C582.3,1170.5 582.9,1169.7 583.6,1167.6 C584.2,1165.6 585.0,1161.5 585.6,1158.5 C586.1,1155.4 586.4,1152.2 586.9,1149.3 C587.3,1146.5 587.6,1143.5 588.2,1141.5 C588.7,1139.5 589.4,1138.7 590.1,1137.6 C590.9,1136.5 591.9,1135.6 592.7,1135.0 C593.6,1134.3 594.5,1134.0 595.4,1133.7 C596.2,1133.3 597.1,1132.9 598.0,1133.0 C598.8,1133.1 599.9,1135.1 600.6,1134.3 C601.2,1133.6 601.3,1131.4 601.9,1128.4 C602.4,1125.5 603.3,1120.4 603.8,1116.7 C604.4,1113.0 604.6,1109.5 605.1,1106.2 C605.7,1103.0 606.5,1099.4 607.1,1097.1 C607.8,1094.8 608.3,1093.6 609.1,1092.5 C609.8,1091.4 610.9,1090.8 611.7,1090.6 C612.4,1090.3 613.0,1090.1 613.6,1091.2 C614.3,1092.3 615.1,1094.8 615.6,1097.1 C616.1,1099.4 616.5,1102.5 616.9,1104.9 C617.3,1107.3 617.7,1109.6 618.2,1111.5 C618.8,1113.3 619.4,1115.0 620.2,1116.0 C620.9,1117.0 621.9,1117.2 622.8,1117.3 C623.7,1117.4 624.6,1117.9 625.4,1116.7 C626.2,1115.5 626.8,1112.8 627.4,1110.1 C627.9,1107.5 628.2,1103.8 628.7,1101.0 C629.1,1098.2 629.4,1094.8 630.0,1093.2 C630.5,1091.5 631.3,1091.2 631.9,1091.2 C632.6,1091.2 633.2,1092.2 633.9,1093.2 C634.5,1094.1 635.2,1095.8 635.9,1097.1 C636.5,1098.4 637.0,1099.7 637.8,1101.0 C638.6,1102.3 639.6,1103.7 640.4,1104.9 C641.3,1106.1 642.3,1107.4 643.0,1108.2 C643.8,1109.0 644.4,1108.7 645.0,1109.5 C645.6,1110.3 645.8,1112.3 646.5,1112.8 C647.2,1113.2 648.3,1112.4 649.1,1112.1 C650.0,1111.8 651.0,1110.6 651.8,1110.8 C652.5,1111.0 653.1,1112.8 653.7,1113.4 C654.4,1114.1 655.0,1115.0 655.7,1114.7 C656.3,1114.4 657.0,1112.9 657.6,1111.5 C658.3,1110.0 658.9,1107.8 659.6,1106.2 C660.3,1104.7 660.9,1103.6 661.6,1102.3 C662.2,1101.0 662.9,1099.5 663.5,1098.4 C664.2,1097.3 664.8,1096.2 665.5,1095.8 C666.1,1095.3 666.7,1095.5 667.4,1095.8 C668.2,1096.1 669.3,1097.3 670.0,1097.7 C670.8,1098.2 671.4,1098.9 672.0,1098.4 C672.7,1097.8 673.3,1095.7 674.0,1094.5 C674.6,1093.3 675.3,1091.6 675.9,1091.2 C676.6,1090.8 677.2,1091.4 677.9,1091.9 C678.5,1092.3 679.2,1093.3 679.8,1093.8 C680.5,1094.4 681.2,1094.8 681.8,1095.1 C682.5,1095.5 683.2,1095.0 683.8,1095.8 C684.3,1096.5 684.5,1098.2 685.1,1099.7 C685.6,1101.2 686.4,1103.4 687.0,1104.9 C687.7,1106.4 688.2,1107.5 689.0,1108.8 C689.8,1110.1 690.8,1111.5 691.6,1112.8 C692.4,1114.1 692.9,1115.7 693.6,1116.7 C694.2,1117.7 694.8,1118.3 695.5,1118.6 C696.3,1119.0 697.4,1118.8 698.1,1118.6 C698.9,1118.5 699.3,1117.9 700.1,1118.0 C700.9,1118.1 701.8,1119.4 702.7,1119.3 C703.6,1119.2 704.6,1117.9 705.3,1117.3 C706.1,1116.8 706.6,1116.0 707.3,1116.0 C707.9,1116.0 708.5,1117.0 709.2,1117.3 C710.0,1117.7 711.0,1118.1 711.9,1118.0 C712.7,1117.9 713.7,1116.4 714.5,1116.7 C715.2,1117.0 715.7,1119.1 716.4,1119.9 C717.2,1120.8 718.3,1121.9 719.0,1121.9 C719.8,1121.9 720.2,1120.7 721.0,1119.9 C721.8,1119.2 722.7,1117.7 723.6,1117.3 C724.5,1117.0 725.4,1117.8 726.2,1118.0 C727.1,1118.2 728.0,1118.2 728.8,1118.6 C729.7,1119.1 730.7,1119.8 731.5,1120.6 C732.2,1121.4 732.8,1122.5 733.4,1123.2 C734.1,1124.0 734.7,1124.8 735.4,1125.2 C736.0,1125.5 736.7,1124.4 737.3,1125.2 C738.0,1125.9 738.6,1128.2 739.3,1129.7 C739.9,1131.3 740.6,1132.9 741.3,1134.3 C741.9,1135.7 742.6,1136.6 743.2,1138.2 C743.9,1139.9 744.5,1142.4 745.2,1144.1 C745.8,1145.9 746.4,1147.6 747.1,1148.7 C747.9,1149.8 748.9,1150.4 749.7,1150.7 C750.6,1150.9 751.5,1150.5 752.4,1150.0 C753.2,1149.5 754.1,1148.3 755.0,1147.4 C755.8,1146.5 756.8,1145.9 757.6,1144.8 C758.3,1143.7 759.0,1141.1 759.5,1140.9 C760.1,1140.6 760.3,1143.6 760.9,1143.5 C761.4,1143.4 762.2,1141.0 762.8,1140.2 C763.5,1139.4 764.1,1138.7 764.8,1138.9 C765.4,1139.1 766.1,1140.4 766.7,1141.5 C767.4,1142.6 768.1,1144.1 768.7,1145.4 C769.2,1146.7 769.6,1148.5 770.0,1149.3 C770.4,1150.2 770.4,1150.4 770.9,1150.3 C771.4,1150.3 772.2,1148.9 772.8,1149.0 C773.5,1149.1 774.1,1150.3 774.8,1151.0 C775.5,1151.6 776.1,1152.8 776.8,1152.9 C777.4,1153.0 778.1,1152.4 778.7,1151.6 C779.4,1150.9 780.0,1149.5 780.7,1148.4 C781.3,1147.3 782.0,1145.9 782.6,1145.1 C783.3,1144.3 783.9,1143.8 784.6,1143.8 C785.3,1143.8 785.9,1144.2 786.6,1145.1 C787.2,1146.0 787.9,1147.6 788.5,1149.0 C789.2,1150.4 789.8,1152.1 790.5,1153.6 C791.1,1155.1 791.8,1156.7 792.4,1158.2 C793.1,1159.6 793.6,1160.9 794.4,1162.1 C795.2,1163.3 796.2,1164.7 797.0,1165.4 C797.8,1166.0 798.3,1166.8 799.0,1166.0 C799.6,1165.2 800.3,1162.7 800.9,1160.8 C801.6,1158.8 802.2,1156.4 802.9,1154.2 C803.5,1152.1 804.2,1149.3 804.8,1147.7 C805.5,1146.1 806.2,1144.4 806.8,1144.4 C807.5,1144.4 808.2,1146.5 808.8,1147.7 C809.3,1148.9 809.6,1151.0 810.1,1151.6 C810.5,1152.3 810.9,1150.8 811.4,1151.6 C811.8,1152.5 812.1,1155.0 812.7,1156.9 C813.2,1158.7 814.0,1161.0 814.6,1162.7 C815.3,1164.5 816.0,1166.1 816.6,1167.3 C817.3,1168.5 817.9,1169.3 818.6,1169.9 C819.2,1170.6 819.9,1171.1 820.5,1171.2 C821.2,1171.3 821.8,1169.8 822.5,1170.6 C823.1,1171.3 823.8,1174.0 824.4,1175.8 C825.1,1177.7 825.8,1179.4 826.4,1181.7 C827.1,1184.0 827.8,1186.9 828.4,1189.5 C828.9,1192.1 829.2,1195.4 829.7,1197.4 C830.1,1199.3 830.4,1200.5 831.0,1201.3 C831.5,1202.0 832.3,1201.4 832.9,1201.9 C833.6,1202.5 834.2,1204.3 834.9,1204.5 C835.6,1204.8 836.2,1204.2 836.9,1203.2 C837.5,1202.3 838.3,1200.7 838.8,1198.7 C839.4,1196.6 839.7,1193.1 840.1,1190.8 C840.6,1188.5 841.0,1186.5 841.4,1184.9 C841.9,1183.4 842.2,1182.0 842.7,1181.7 C843.3,1181.4 844.0,1182.6 844.7,1183.0 C845.4,1183.4 846.0,1183.8 846.7,1184.3 C847.3,1184.8 848.1,1184.9 848.6,1186.3 C849.2,1187.6 849.5,1190.1 849.9,1192.1 C850.4,1194.2 850.8,1196.5 851.2,1198.7 C851.7,1200.8 852.0,1203.0 852.5,1205.2 C853.1,1207.4 853.8,1210.4 854.5,1211.7 C855.1,1213.0 855.8,1212.8 856.5,1213.0 C857.1,1213.3 857.8,1213.4 858.4,1213.0 C859.1,1212.7 859.8,1211.9 860.4,1211.1 C860.9,1210.2 861.1,1208.5 861.7,1207.8 C862.2,1207.2 862.9,1207.3 863.6,1207.2 C864.4,1207.0 865.5,1206.6 866.3,1207.2 C867.0,1207.7 867.7,1208.6 868.2,1210.4 C868.8,1212.3 869.1,1215.4 869.5,1218.3 C870.0,1221.1 870.4,1224.4 870.8,1227.4 C871.3,1230.5 871.6,1233.3 872.1,1236.6 C872.7,1239.8 873.4,1244.2 874.1,1247.0 C874.7,1249.8 875.4,1252.0 876.1,1253.5 C876.7,1255.1 877.4,1255.8 878.0,1256.2 C878.7,1256.5 879.3,1256.6 880.0,1255.5 C880.6,1254.4 881.4,1251.9 881.9,1249.6 C882.5,1247.3 882.8,1244.4 883.2,1241.8 C883.7,1239.2 884.0,1236.3 884.5,1233.9 C885.1,1231.5 885.9,1229.2 886.5,1227.4 C887.2,1225.7 887.8,1224.4 888.5,1223.5 C889.1,1222.6 889.8,1222.1 890.4,1222.2 C891.1,1222.3 891.6,1223.1 892.4,1224.1 C893.1,1225.2 894.2,1227.4 895.0,1228.7 C895.8,1230.0 896.3,1232.0 897.0,1232.0 C897.7,1232.0 898.3,1230.1 899.0,1228.7 C899.6,1227.3 900.3,1225.2 900.9,1223.5 C901.6,1221.7 902.2,1220.2 902.9,1218.3 C903.5,1216.3 904.2,1213.9 904.8,1211.7 C905.5,1209.6 906.2,1206.8 906.8,1205.2 C907.5,1203.6 908.1,1202.7 908.8,1201.9 C909.4,1201.2 910.1,1200.5 910.7,1200.6 C911.4,1200.7 912.0,1201.7 912.7,1202.6 C913.3,1203.5 913.9,1204.8 914.6,1205.9 C915.4,1206.9 916.4,1208.1 917.3,1209.1 C918.1,1210.1 919.1,1211.3 919.9,1211.7 C920.6,1212.2 921.1,1212.2 921.8,1211.7 C922.6,1211.3 923.7,1210.9 924.4,1209.1 C925.2,1207.4 925.8,1204.5 926.4,1201.3 C927.1,1198.0 927.7,1192.7 928.4,1189.5 C929.0,1186.4 929.7,1183.9 930.3,1182.3 C931.0,1180.8 931.6,1180.9 932.3,1180.4 C932.9,1179.8 933.6,1179.6 934.2,1179.1 C934.9,1178.5 935.7,1176.7 936.2,1177.1 C936.7,1177.5 937.0,1179.6 937.5,1181.7 C938.1,1183.8 938.8,1186.9 939.5,1189.5 C940.1,1192.1 940.8,1195.5 941.4,1197.4 C942.1,1199.2 942.6,1200.0 943.4,1200.6 C944.2,1201.3 945.2,1201.3 946.0,1201.3 C946.8,1201.3 947.3,1201.5 948.0,1200.6 C948.6,1199.8 949.3,1197.9 949.9,1196.1 C950.6,1194.2 951.2,1190.9 951.9,1189.5 C952.5,1188.1 953.1,1187.7 953.8,1187.6 C954.6,1187.5 955.6,1188.4 956.5,1188.9 C957.3,1189.3 958.3,1189.2 959.1,1190.2 C959.8,1191.2 960.4,1193.1 961.0,1194.7 C961.7,1196.4 962.3,1198.9 963.0,1200.0 C963.6,1201.1 964.3,1201.7 964.9,1201.3 C965.6,1200.8 966.3,1198.3 966.9,1197.4 C967.6,1196.4 968.2,1195.4 968.9,1195.4 C969.5,1195.4 970.1,1196.7 970.8,1197.4 C971.6,1198.0 972.7,1199.5 973.4,1199.3 C974.2,1199.1 974.7,1197.7 975.4,1196.1 C976.1,1194.4 976.7,1191.3 977.4,1189.5 C978.0,1187.8 978.7,1187.1 979.3,1185.6 C980.0,1184.1 980.6,1182.3 981.3,1180.4 C981.9,1178.4 982.6,1175.5 983.2,1173.8 C983.9,1172.2 984.5,1170.8 985.2,1170.6 C985.9,1170.4 986.6,1171.3 987.2,1172.5 C987.7,1173.7 988.2,1176.9 988.5,1177.8" fill="none" stroke="#1b9e77" stroke-width="2.45" stroke-linejoin="round" stroke-linecap="butt"/>
<path d="M273.5,1086.4 C273.8,1087.1 274.8,1089.5 275.5,1091.0 C276.1,1092.4 276.8,1093.6 277.4,1094.9 C278.1,1096.2 278.7,1097.6 279.4,1098.8 C280.0,1100.0 280.7,1101.1 281.3,1102.1 C282.0,1103.0 282.7,1104.2 283.3,1104.7 C283.8,1105.1 284.2,1105.2 284.6,1104.7 C285.0,1104.1 285.5,1103.0 285.9,1101.4 C286.3,1099.8 286.8,1097.1 287.2,1094.9 C287.6,1092.7 288.0,1090.7 288.5,1088.3 C289.1,1085.9 289.8,1082.2 290.5,1080.5 C291.1,1078.8 291.8,1078.4 292.4,1077.9 C293.1,1077.3 293.7,1077.0 294.4,1077.2 C295.0,1077.5 295.7,1078.2 296.4,1079.2 C297.0,1080.2 297.7,1082.0 298.3,1083.1 C299.0,1084.2 299.6,1085.2 300.3,1085.7 C300.9,1086.3 301.5,1086.6 302.2,1086.4 C303.0,1086.2 304.1,1085.6 304.8,1084.4 C305.6,1083.2 306.2,1080.9 306.8,1079.2 C307.5,1077.5 308.2,1075.2 308.8,1074.0 C309.3,1072.8 309.5,1072.4 310.1,1072.0 C310.6,1071.6 311.4,1071.4 312.0,1071.4 C312.7,1071.4 313.3,1071.4 314.0,1072.0 C314.6,1072.7 315.3,1074.1 316.0,1075.3 C316.6,1076.5 317.3,1077.9 317.9,1079.2 C318.6,1080.5 319.2,1082.2 319.9,1083.1 C320.5,1084.0 321.2,1084.6 321.8,1084.4 C322.5,1084.2 323.1,1082.5 323.8,1081.8 C324.4,1081.2 325.1,1081.4 325.8,1080.5 C326.4,1079.6 327.1,1077.8 327.7,1076.6 C328.4,1075.4 329.0,1074.1 329.7,1073.3 C330.3,1072.6 331.0,1072.2 331.6,1072.0 C332.3,1071.8 332.9,1071.6 333.6,1072.0 C334.2,1072.4 334.9,1073.4 335.6,1074.6 C336.2,1075.8 336.9,1077.8 337.5,1079.2 C338.2,1080.6 338.8,1082.1 339.5,1083.1 C340.1,1084.1 340.7,1084.6 341.4,1085.1 C342.2,1085.5 343.2,1085.6 344.0,1085.7 C344.9,1085.8 345.9,1086.2 346.7,1085.7 C347.4,1085.3 348.0,1084.4 348.6,1083.1 C349.3,1081.8 349.9,1079.3 350.6,1077.9 C351.2,1076.5 351.9,1075.2 352.5,1074.6 C353.2,1074.1 353.8,1074.1 354.5,1074.6 C355.1,1075.2 355.8,1076.6 356.5,1077.9 C357.1,1079.2 357.7,1080.8 358.4,1082.5 C359.2,1084.1 360.3,1086.2 361.0,1087.7 C361.8,1089.2 362.3,1090.6 363.0,1091.6 C363.6,1092.6 364.3,1093.7 364.9,1093.6 C365.6,1093.5 366.3,1092.3 366.9,1091.0 C367.6,1089.6 368.2,1087.5 368.9,1085.7 C369.5,1084.0 370.2,1081.8 370.8,1080.5 C371.5,1079.2 372.1,1078.3 372.8,1077.9 C373.4,1077.5 374.0,1077.8 374.7,1077.9 C375.5,1078.0 376.6,1078.1 377.4,1078.5 C378.1,1079.0 378.8,1079.3 379.3,1080.5 C379.9,1081.7 380.1,1083.6 380.6,1085.7 C381.2,1087.9 381.9,1091.3 382.6,1093.6 C383.2,1095.9 383.9,1098.1 384.5,1099.4 C385.2,1100.8 385.9,1100.6 386.5,1101.4 C387.2,1102.2 387.8,1103.0 388.5,1104.0 C389.1,1105.0 389.8,1106.6 390.4,1107.3 C391.1,1107.9 391.6,1108.3 392.4,1107.9 C393.1,1107.6 394.4,1105.9 395.0,1105.3 C395.6,1104.8 395.3,1104.9 395.9,1104.7 C396.5,1104.5 397.6,1104.1 398.5,1104.0 C399.4,1103.9 400.2,1104.2 401.1,1104.0 C402.0,1103.8 402.8,1103.5 403.7,1102.7 C404.6,1102.0 405.6,1100.5 406.3,1099.4 C407.1,1098.4 407.6,1097.3 408.3,1096.2 C408.9,1095.1 409.5,1093.6 410.3,1092.9 C411.0,1092.3 412.0,1092.7 412.9,1092.3 C413.7,1091.8 414.6,1090.7 415.5,1090.3 C416.3,1089.9 417.2,1089.5 418.1,1089.6 C419.0,1089.8 419.8,1090.4 420.7,1091.0 C421.6,1091.5 422.4,1092.8 423.3,1092.9 C424.2,1093.0 425.1,1092.2 425.9,1091.6 C426.8,1091.1 427.7,1090.4 428.5,1089.6 C429.4,1088.9 430.3,1087.6 431.2,1087.0 C432.0,1086.5 432.9,1086.3 433.8,1086.4 C434.6,1086.5 435.5,1087.1 436.4,1087.7 C437.3,1088.2 438.1,1089.2 439.0,1089.6 C439.9,1090.1 440.8,1090.5 441.6,1090.3 C442.4,1090.1 442.9,1089.3 443.6,1088.3 C444.2,1087.4 444.9,1085.7 445.5,1084.4 C446.2,1083.1 446.8,1081.7 447.5,1080.5 C448.1,1079.3 448.8,1078.0 449.4,1077.2 C450.1,1076.5 450.8,1075.9 451.4,1075.9 C452.1,1075.9 452.7,1076.3 453.4,1077.2 C454.0,1078.2 454.7,1080.3 455.3,1081.8 C456.0,1083.3 456.6,1085.0 457.3,1086.4 C457.9,1087.8 458.6,1089.2 459.2,1090.3 C459.9,1091.4 460.6,1092.4 461.2,1092.9 C461.9,1093.5 462.4,1093.8 463.2,1093.6 C463.9,1093.3 464.9,1092.2 465.8,1091.6 C466.6,1091.1 467.5,1090.4 468.4,1090.3 C469.3,1090.2 470.1,1090.7 471.0,1091.0 C471.9,1091.2 472.9,1090.7 473.6,1091.6 C474.4,1092.5 474.9,1094.5 475.6,1096.2 C476.2,1097.8 476.9,1099.7 477.5,1101.4 C478.2,1103.1 478.8,1105.5 479.5,1106.6 C480.1,1107.7 480.8,1108.2 481.5,1107.9 C482.1,1107.7 482.8,1106.4 483.4,1105.3 C484.1,1104.2 484.7,1102.7 485.4,1101.4 C486.0,1100.1 486.7,1098.8 487.3,1097.5 C488.0,1096.2 488.6,1094.8 489.3,1093.6 C489.9,1092.4 490.6,1091.0 491.3,1090.3 C491.9,1089.6 492.6,1089.1 493.2,1089.6 C493.9,1090.2 494.5,1092.5 495.2,1093.6 C495.8,1094.7 496.5,1095.5 497.1,1096.2 C497.8,1096.8 498.4,1097.6 499.1,1097.5 C499.7,1097.4 500.4,1096.1 501.1,1095.5 C501.7,1095.0 502.3,1094.4 503.0,1094.2 C503.8,1094.0 504.8,1093.9 505.6,1094.2 C506.5,1094.5 507.4,1095.9 508.2,1096.2 C509.1,1096.5 510.0,1096.0 510.9,1096.2 C511.7,1096.4 512.7,1096.5 513.5,1097.5 C514.2,1098.5 514.8,1101.0 515.4,1102.1 C516.1,1103.1 516.6,1103.7 517.4,1104.0 C518.1,1104.3 519.4,1103.9 520.0,1104.0 C520.6,1104.2 520.4,1105.2 520.9,1104.9 C521.4,1104.6 522.2,1103.3 522.8,1102.3 C523.5,1101.3 524.0,1100.2 524.8,1099.0 C525.6,1097.8 526.5,1096.2 527.4,1095.1 C528.3,1094.0 529.2,1093.3 530.0,1092.5 C530.9,1091.7 531.9,1091.1 532.6,1090.6 C533.4,1090.0 533.9,1089.2 534.6,1089.2 C535.3,1089.2 535.8,1090.7 536.6,1090.6 C537.3,1090.4 538.3,1089.0 539.2,1088.6 C540.0,1088.2 540.9,1088.6 541.8,1087.9 C542.7,1087.3 543.5,1085.7 544.4,1084.7 C545.3,1083.7 546.1,1082.7 547.0,1082.1 C547.9,1081.4 548.8,1080.9 549.6,1080.8 C550.5,1080.6 551.4,1081.5 552.2,1081.4 C553.1,1081.3 554.1,1080.4 554.8,1080.1 C555.6,1079.8 556.2,1079.2 556.8,1079.4 C557.5,1079.7 558.0,1080.5 558.8,1081.4 C559.5,1082.3 560.5,1083.7 561.4,1084.7 C562.3,1085.7 563.1,1086.5 564.0,1087.3 C564.9,1088.0 565.6,1089.0 566.6,1089.2 C567.6,1089.5 568.8,1088.8 569.9,1088.6 C571.0,1088.4 572.2,1088.5 573.1,1087.9 C574.1,1087.4 574.9,1086.0 575.8,1085.3 C576.6,1084.7 577.4,1084.3 578.4,1084.0 C579.3,1083.7 580.7,1083.5 581.6,1083.4 C582.6,1083.3 583.4,1083.6 584.2,1083.4 C585.1,1083.1 586.0,1082.5 586.9,1082.1 C587.7,1081.6 588.6,1081.3 589.5,1080.8 C590.3,1080.2 591.2,1079.0 592.1,1078.8 C593.0,1078.6 593.9,1079.7 594.7,1079.4 C595.5,1079.2 596.0,1078.9 596.7,1077.5 C597.3,1076.1 598.0,1073.1 598.6,1071.0 C599.3,1068.8 599.9,1066.6 600.6,1064.4 C601.2,1062.2 601.9,1059.8 602.5,1057.9 C603.2,1055.9 603.8,1054.1 604.5,1052.7 C605.1,1051.2 605.8,1049.7 606.5,1049.4 C607.1,1049.1 607.7,1050.3 608.4,1050.7 C609.2,1051.1 610.2,1051.7 611.0,1052.0 C611.9,1052.3 612.8,1052.1 613.6,1052.7 C614.5,1053.2 615.4,1054.5 616.3,1055.3 C617.1,1056.0 618.1,1057.3 618.9,1057.2 C619.6,1057.1 620.2,1055.6 620.8,1054.6 C621.5,1053.6 622.1,1052.0 622.8,1051.4 C623.4,1050.7 624.0,1050.5 624.7,1050.7 C625.5,1050.9 626.5,1052.2 627.4,1052.7 C628.2,1053.1 629.2,1053.4 630.0,1053.3 C630.7,1053.2 631.3,1051.4 631.9,1052.0 C632.6,1052.7 633.2,1055.4 633.9,1057.2 C634.5,1059.1 635.2,1061.8 635.9,1063.1 C636.5,1064.4 637.2,1065.1 637.8,1065.1 C638.5,1065.1 639.1,1064.1 639.8,1063.1 C640.4,1062.1 641.1,1060.0 641.7,1059.2 C642.4,1058.4 643.1,1058.7 643.7,1058.5 C644.2,1058.4 644.3,1059.3 645.0,1058.5 C645.7,1057.8 646.8,1054.9 647.8,1054.0 C648.9,1053.0 650.0,1053.0 651.1,1052.7 C652.2,1052.3 653.5,1052.2 654.4,1052.0 C655.2,1051.8 655.7,1052.0 656.3,1051.4 C657.0,1050.7 657.6,1049.4 658.3,1048.1 C658.9,1046.8 659.6,1044.9 660.3,1043.5 C660.9,1042.1 661.6,1040.6 662.2,1039.6 C662.9,1038.6 663.6,1037.9 664.2,1037.6 C664.7,1037.4 665.0,1037.6 665.5,1038.3 C665.9,1038.9 666.3,1040.5 666.8,1041.6 C667.2,1042.6 667.7,1043.7 668.1,1044.8 C668.5,1045.9 668.9,1047.2 669.4,1048.1 C669.9,1049.0 670.7,1049.6 671.4,1050.0 C672.0,1050.5 672.6,1050.3 673.3,1050.7 C674.1,1051.1 675.2,1052.2 675.9,1052.7 C676.7,1053.1 677.2,1053.5 677.9,1053.3 C678.5,1053.1 679.2,1052.1 679.8,1051.4 C680.5,1050.6 681.3,1049.3 681.8,1048.7 C682.4,1048.2 682.7,1047.9 683.1,1048.1 C683.6,1048.3 684.0,1049.1 684.4,1050.0 C684.9,1051.0 685.2,1052.6 685.7,1054.0 C686.3,1055.4 687.0,1057.2 687.7,1058.5 C688.3,1059.8 689.0,1060.7 689.6,1061.8 C690.3,1062.9 691.1,1064.0 691.6,1065.1 C692.2,1066.2 692.5,1066.9 692.9,1068.3 C693.3,1069.8 693.7,1071.9 694.2,1073.6 C694.8,1075.2 695.5,1076.9 696.2,1078.1 C696.8,1079.3 697.5,1079.9 698.1,1080.8 C698.8,1081.6 699.3,1082.7 700.1,1083.4 C700.9,1084.0 701.8,1084.6 702.7,1084.7 C703.6,1084.8 704.6,1084.7 705.3,1084.0 C706.1,1083.4 706.6,1082.0 707.3,1080.8 C707.9,1079.6 708.6,1077.9 709.2,1076.8 C709.9,1075.7 710.6,1074.9 711.2,1074.2 C711.9,1073.6 712.5,1073.1 713.2,1072.9 C713.8,1072.7 714.5,1072.6 715.1,1072.9 C715.8,1073.2 716.4,1074.0 717.1,1074.9 C717.7,1075.7 718.4,1077.2 719.0,1078.1 C719.7,1079.1 720.2,1080.5 721.0,1080.8 C721.8,1081.0 722.7,1080.1 723.6,1079.4 C724.5,1078.8 725.4,1077.6 726.2,1076.8 C727.1,1076.1 728.0,1075.4 728.8,1074.9 C729.7,1074.3 730.6,1073.9 731.5,1073.6 C732.3,1073.2 733.3,1072.9 734.1,1072.9 C734.8,1072.9 735.4,1073.0 736.0,1073.6 C736.7,1074.1 737.3,1075.2 738.0,1076.2 C738.6,1077.2 739.3,1078.7 739.9,1079.4 C740.6,1080.2 741.1,1080.5 741.9,1080.8 C742.7,1081.0 743.8,1080.3 744.5,1080.8 C745.3,1081.2 745.8,1082.5 746.5,1083.4 C747.1,1084.2 747.8,1085.2 748.4,1086.0 C749.1,1086.7 749.6,1087.5 750.4,1087.9 C751.2,1088.4 752.1,1088.7 753.0,1088.6 C753.9,1088.5 754.9,1087.8 755.6,1087.3 C756.4,1086.7 756.9,1086.1 757.6,1085.3 C758.2,1084.6 758.8,1083.7 759.5,1082.7 C760.3,1081.7 761.3,1080.2 762.2,1079.4 C763.0,1078.7 763.9,1078.1 764.8,1078.1 C765.6,1078.1 766.5,1079.1 767.4,1079.4 C768.3,1079.8 767.1,1079.2 770.0,1080.1 C772.9,1081.0 781.8,1083.5 784.6,1085.0 C787.4,1086.5 785.9,1087.5 786.6,1088.9 C787.2,1090.3 787.9,1092.0 788.5,1093.5 C789.2,1095.0 789.8,1096.8 790.5,1098.1 C791.1,1099.4 791.7,1100.5 792.4,1101.3 C793.2,1102.2 794.2,1102.9 795.0,1103.3 C795.9,1103.7 796.9,1104.4 797.7,1103.9 C798.4,1103.5 799.0,1101.9 799.6,1100.7 C800.3,1099.5 800.9,1097.7 801.6,1096.8 C802.2,1095.8 803.0,1094.9 803.5,1094.8 C804.1,1094.7 804.3,1094.9 804.8,1096.1 C805.4,1097.3 806.2,1100.2 806.8,1102.0 C807.5,1103.7 808.1,1105.3 808.8,1106.6 C809.4,1107.9 810.1,1108.7 810.7,1109.8 C811.4,1110.9 812.0,1112.1 812.7,1113.1 C813.3,1114.1 814.0,1115.3 814.6,1115.7 C815.3,1116.1 816.0,1116.2 816.6,1115.7 C817.3,1115.2 817.9,1113.6 818.6,1112.4 C819.2,1111.2 819.9,1109.6 820.5,1108.5 C821.2,1107.4 821.7,1106.6 822.5,1105.9 C823.2,1105.3 824.3,1105.0 825.1,1104.6 C825.9,1104.2 826.4,1103.2 827.1,1103.3 C827.7,1103.4 828.4,1104.4 829.0,1105.3 C829.7,1106.1 830.3,1107.9 831.0,1108.5 C831.6,1109.2 832.2,1109.1 832.9,1109.2 C833.7,1109.3 834.8,1108.8 835.6,1109.2 C836.3,1109.5 836.9,1110.6 837.5,1111.1 C838.2,1111.7 838.8,1112.5 839.5,1112.4 C840.1,1112.3 840.9,1111.2 841.4,1110.5 C842.0,1109.7 842.3,1108.2 842.7,1107.9 C843.2,1107.5 843.6,1107.8 844.0,1108.5 C844.5,1109.3 844.8,1111.0 845.4,1112.4 C845.9,1113.9 846.7,1115.8 847.3,1117.0 C848.0,1118.2 848.6,1119.2 849.3,1119.6 C849.9,1120.1 850.6,1120.1 851.2,1119.6 C851.9,1119.2 852.5,1117.7 853.2,1117.0 C853.8,1116.4 854.5,1116.4 855.1,1115.7 C855.8,1115.0 856.5,1114.2 857.1,1113.1 C857.8,1112.0 858.4,1110.5 859.1,1109.2 C859.7,1107.9 860.4,1106.3 861.0,1105.3 C861.7,1104.2 862.3,1103.2 863.0,1102.6 C863.6,1102.1 864.3,1101.7 864.9,1102.0 C865.6,1102.3 866.3,1103.5 866.9,1104.6 C867.6,1105.7 868.2,1107.2 868.9,1108.5 C869.5,1109.8 870.2,1111.2 870.8,1112.4 C871.5,1113.6 872.1,1114.7 872.8,1115.7 C873.4,1116.7 874.1,1117.7 874.7,1118.3 C875.4,1119.0 876.1,1119.4 876.7,1119.6 C877.4,1119.8 878.0,1119.9 878.7,1119.6 C879.3,1119.3 880.0,1118.5 880.6,1117.7 C881.3,1116.8 881.9,1115.3 882.6,1114.4 C883.2,1113.5 883.9,1112.8 884.5,1112.4 C885.2,1112.1 885.9,1112.1 886.5,1112.4 C887.2,1112.8 887.8,1113.7 888.5,1114.4 C889.1,1115.0 889.8,1115.8 890.4,1116.4 C891.1,1116.9 891.6,1117.3 892.4,1117.7 C893.1,1118.0 894.3,1118.3 895.0,1118.3 C895.7,1118.3 895.8,1118.3 896.4,1117.7 C896.9,1117.0 897.7,1115.4 898.3,1114.4 C899.0,1113.4 899.6,1112.3 900.3,1111.8 C900.9,1111.2 901.6,1111.2 902.2,1111.1 C902.9,1111.0 903.5,1110.8 904.2,1111.1 C904.8,1111.5 905.5,1112.1 906.2,1113.1 C906.8,1114.1 907.5,1115.8 908.1,1117.0 C908.8,1118.2 909.4,1119.5 910.1,1120.3 C910.7,1121.0 911.4,1121.5 912.0,1121.6 C912.7,1121.7 913.3,1121.5 914.0,1120.9 C914.6,1120.4 915.3,1119.4 916.0,1118.3 C916.6,1117.2 917.3,1115.7 917.9,1114.4 C918.6,1113.1 919.2,1111.3 919.9,1110.5 C920.5,1109.6 921.2,1109.4 921.8,1109.2 C922.5,1109.0 923.0,1109.3 923.8,1109.2 C924.6,1109.1 925.6,1108.5 926.4,1108.5 C927.2,1108.5 927.7,1108.7 928.4,1109.2 C929.0,1109.6 929.7,1110.7 930.3,1111.1 C931.0,1111.6 931.6,1111.9 932.3,1111.8 C932.9,1111.7 933.6,1110.9 934.2,1110.5 C934.9,1110.0 935.4,1109.5 936.2,1109.2 C937.0,1108.8 937.9,1108.7 938.8,1108.5 C939.7,1108.4 940.7,1108.1 941.4,1108.3 C942.2,1108.4 942.7,1108.7 943.4,1109.2 C944.0,1109.6 944.7,1110.5 945.4,1111.1 C946.0,1111.8 946.7,1112.4 947.3,1113.1 C948.0,1113.7 948.6,1114.4 949.3,1115.0 C949.9,1115.7 950.6,1116.5 951.2,1117.0 C951.9,1117.6 952.5,1118.1 953.2,1118.3 C953.8,1118.5 954.5,1118.6 955.1,1118.3 C955.8,1118.0 956.5,1117.0 957.1,1116.4 C957.8,1115.7 958.4,1115.0 959.1,1114.4 C959.7,1113.7 960.4,1112.9 961.0,1112.4 C961.7,1112.0 962.3,1111.8 963.0,1111.8 C963.6,1111.7 964.3,1111.8 964.9,1112.2 C965.6,1112.5 966.3,1112.9 966.9,1113.7 C967.6,1114.5 968.2,1115.9 968.9,1117.0 C969.5,1118.1 970.2,1119.3 970.8,1120.3 C971.5,1121.3 972.1,1122.2 972.8,1122.9 C973.4,1123.5 974.1,1124.1 974.7,1124.2 C975.4,1124.3 976.2,1124.4 976.7,1123.5 C977.3,1122.7 977.6,1121.0 978.0,1119.0 C978.4,1116.9 978.9,1113.7 979.3,1111.1 C979.8,1108.5 980.2,1105.7 980.6,1103.3 C981.1,1100.9 981.5,1098.4 981.9,1096.8 C982.4,1095.1 982.7,1094.3 983.2,1093.5 C983.8,1092.7 984.7,1092.5 985.2,1092.2 C985.7,1091.9 986.1,1091.3 986.5,1091.5 C986.9,1091.8 987.5,1093.1 987.8,1093.5 C988.1,1093.9 988.4,1094.0 988.5,1094.1" fill="none" stroke="#7570b3" stroke-width="2.45" stroke-linejoin="round" stroke-linecap="butt"/>
<path d="M273.5,1124.9 C273.7,1125.8 274.4,1128.2 274.8,1130.1 C275.2,1132.1 275.7,1134.7 276.1,1136.7 C276.5,1138.6 277.0,1140.7 277.4,1141.9 C277.8,1143.1 278.3,1143.9 278.7,1143.9 C279.2,1143.9 279.6,1142.0 280.0,1141.9 C280.5,1141.8 280.8,1142.6 281.3,1143.2 C281.9,1143.9 282.7,1145.6 283.3,1145.8 C283.8,1146.0 284.2,1146.0 284.6,1144.5 C285.0,1143.0 285.5,1139.3 285.9,1136.7 C286.3,1134.1 286.8,1131.7 287.2,1128.8 C287.6,1126.0 288.1,1122.5 288.5,1119.7 C289.0,1116.9 289.3,1113.8 289.8,1111.9 C290.4,1109.9 291.1,1108.5 291.8,1107.9 C292.4,1107.4 293.1,1107.7 293.7,1108.6 C294.4,1109.5 295.0,1111.3 295.7,1113.2 C296.4,1115.0 297.0,1117.8 297.7,1119.7 C298.3,1121.5 299.0,1123.4 299.6,1124.3 C300.3,1125.1 300.9,1125.2 301.6,1124.9 C302.2,1124.6 302.9,1123.4 303.5,1122.3 C304.2,1121.2 304.8,1119.6 305.5,1118.4 C306.2,1117.2 306.8,1116.0 307.5,1115.1 C308.1,1114.3 308.8,1113.5 309.4,1113.2 C310.1,1112.8 310.7,1112.5 311.4,1113.2 C312.0,1113.8 312.8,1115.3 313.3,1117.1 C313.9,1118.8 314.1,1121.4 314.6,1123.6 C315.2,1125.8 316.0,1128.5 316.6,1130.1 C317.3,1131.8 317.9,1133.0 318.6,1133.4 C319.2,1133.9 319.9,1133.3 320.5,1132.8 C321.2,1132.2 321.8,1131.0 322.5,1130.1 C323.1,1129.3 323.8,1128.6 324.4,1127.5 C325.1,1126.4 325.8,1124.9 326.4,1123.6 C327.1,1122.3 327.7,1121.0 328.4,1119.7 C329.0,1118.4 329.7,1116.6 330.3,1115.8 C331.0,1114.9 331.6,1114.6 332.3,1114.5 C332.9,1114.4 333.6,1114.6 334.2,1115.1 C334.9,1115.7 335.6,1116.8 336.2,1117.7 C336.9,1118.7 337.6,1120.4 338.2,1121.0 C338.7,1121.7 338.9,1122.3 339.5,1121.7 C340.0,1121.0 340.8,1118.5 341.4,1117.1 C342.1,1115.7 342.7,1114.5 343.4,1113.2 C344.0,1111.9 344.7,1110.8 345.4,1109.2 C346.0,1107.7 346.7,1105.8 347.3,1104.0 C348.0,1102.3 348.6,1100.3 349.3,1098.8 C349.9,1097.3 350.6,1095.5 351.2,1094.9 C351.9,1094.2 352.5,1094.2 353.2,1094.9 C353.8,1095.5 354.5,1097.3 355.1,1098.8 C355.8,1100.3 356.5,1102.5 357.1,1104.0 C357.8,1105.5 358.4,1106.6 359.1,1107.9 C359.7,1109.2 360.4,1110.7 361.0,1111.9 C361.7,1113.1 362.3,1114.5 363.0,1115.1 C363.6,1115.8 364.3,1115.9 364.9,1115.8 C365.6,1115.7 366.1,1114.7 366.9,1114.5 C367.7,1114.3 368.6,1114.4 369.5,1114.5 C370.4,1114.6 371.3,1114.7 372.1,1115.1 C373.0,1115.6 373.9,1116.3 374.7,1117.1 C375.6,1117.8 376.6,1118.8 377.4,1119.7 C378.1,1120.6 378.7,1120.8 379.3,1122.3 C380.0,1123.8 380.6,1126.4 381.3,1128.8 C381.9,1131.2 382.6,1134.3 383.2,1136.7 C383.9,1139.1 384.5,1141.5 385.2,1143.2 C385.9,1145.0 386.5,1146.0 387.2,1147.1 C387.8,1148.2 388.5,1148.9 389.1,1149.7 C389.8,1150.6 390.3,1151.8 391.1,1152.4 C391.8,1152.9 393.0,1153.0 393.7,1153.0 C394.3,1153.0 394.6,1153.1 395.0,1152.4 C395.4,1151.6 395.4,1149.2 395.9,1148.4 C396.4,1147.7 397.1,1147.8 397.8,1147.8 C398.6,1147.8 399.6,1148.2 400.5,1148.4 C401.3,1148.7 402.3,1149.4 403.1,1149.1 C403.8,1148.8 404.4,1148.1 405.0,1146.5 C405.7,1144.8 406.3,1141.6 407.0,1139.3 C407.6,1137.0 408.3,1134.7 408.9,1132.8 C409.6,1130.8 410.3,1129.1 410.9,1127.5 C411.6,1126.0 412.2,1125.1 412.9,1123.6 C413.5,1122.1 414.2,1120.1 414.8,1118.4 C415.5,1116.6 416.1,1114.5 416.8,1113.2 C417.4,1111.9 418.1,1110.6 418.7,1110.6 C419.4,1110.6 420.0,1112.3 420.7,1113.2 C421.4,1114.0 422.0,1115.1 422.7,1115.8 C423.3,1116.4 424.1,1117.1 424.6,1117.1 C425.2,1117.1 425.4,1115.1 425.9,1115.8 C426.5,1116.4 427.2,1119.3 427.9,1121.0 C428.5,1122.7 429.2,1124.6 429.8,1126.2 C430.5,1127.9 431.0,1129.6 431.8,1130.8 C432.6,1132.0 433.7,1132.2 434.4,1133.4 C435.2,1134.6 435.7,1136.8 436.4,1138.0 C437.0,1139.2 437.7,1140.6 438.3,1140.6 C439.0,1140.6 439.6,1139.1 440.3,1138.0 C441.0,1136.9 441.6,1135.0 442.3,1134.1 C442.9,1133.1 443.6,1132.1 444.2,1132.1 C444.9,1132.1 445.4,1133.6 446.2,1134.1 C446.9,1134.5 448.0,1134.4 448.8,1134.7 C449.6,1135.0 450.1,1134.8 450.8,1136.0 C451.4,1137.2 452.1,1139.8 452.7,1141.9 C453.4,1144.0 454.0,1146.9 454.7,1148.4 C455.3,1150.0 455.9,1150.8 456.6,1151.1 C457.4,1151.3 458.5,1150.6 459.2,1149.7 C460.0,1148.9 460.6,1147.4 461.2,1145.8 C461.9,1144.3 462.5,1142.0 463.2,1140.6 C463.8,1139.2 464.5,1138.0 465.1,1137.3 C465.8,1136.7 466.4,1136.4 467.1,1136.7 C467.7,1137.0 468.4,1138.4 469.0,1139.3 C469.7,1140.2 470.4,1141.0 471.0,1141.9 C471.7,1142.8 472.4,1143.0 473.0,1144.5 C473.5,1146.0 473.7,1148.4 474.3,1151.1 C474.8,1153.7 475.6,1158.0 476.2,1160.2 C476.9,1162.4 477.5,1163.9 478.2,1164.1 C478.8,1164.3 479.5,1163.0 480.1,1161.5 C480.8,1160.0 481.5,1157.6 482.1,1155.0 C482.8,1152.4 483.4,1148.4 484.1,1145.8 C484.7,1143.2 485.4,1141.3 486.0,1139.3 C486.7,1137.3 487.3,1135.5 488.0,1134.1 C488.6,1132.7 489.3,1131.5 489.9,1130.8 C490.6,1130.1 491.3,1129.6 491.9,1130.1 C492.6,1130.7 493.2,1132.1 493.9,1134.1 C494.5,1136.0 495.3,1139.9 495.8,1141.9 C496.4,1143.9 496.6,1145.6 497.1,1145.8 C497.7,1146.0 498.4,1144.5 499.1,1143.2 C499.7,1141.9 500.3,1139.7 501.1,1138.0 C501.8,1136.2 502.8,1134.0 503.7,1132.8 C504.5,1131.6 505.4,1131.1 506.3,1130.8 C507.2,1130.5 508.0,1130.3 508.9,1130.8 C509.8,1131.3 510.6,1133.1 511.5,1134.1 C512.4,1135.0 513.2,1135.7 514.1,1136.7 C515.0,1137.7 515.8,1139.3 516.7,1139.9 C517.7,1140.6 519.3,1141.0 520.0,1140.6 C520.7,1140.2 520.4,1138.9 520.9,1137.6 C521.4,1136.3 522.2,1134.1 522.8,1133.0 C523.5,1131.9 524.0,1131.3 524.8,1131.1 C525.6,1130.8 526.5,1131.6 527.4,1131.7 C528.3,1131.8 529.3,1131.8 530.0,1131.7 C530.8,1131.6 531.3,1130.5 532.0,1131.1 C532.6,1131.6 533.3,1133.4 533.9,1135.0 C534.6,1136.5 535.3,1138.5 535.9,1140.2 C536.6,1141.9 537.2,1144.8 537.9,1145.4 C538.5,1146.1 539.1,1145.0 539.8,1144.1 C540.6,1143.2 541.6,1141.8 542.4,1140.2 C543.3,1138.6 544.3,1136.1 545.0,1134.3 C545.8,1132.6 546.4,1131.2 547.0,1129.7 C547.7,1128.3 548.3,1126.5 549.0,1125.8 C549.6,1125.2 550.2,1125.6 550.9,1125.8 C551.7,1126.0 552.8,1127.0 553.5,1127.1 C554.3,1127.2 554.8,1126.0 555.5,1126.5 C556.2,1126.9 556.8,1128.5 557.5,1129.7 C558.1,1130.9 558.8,1133.4 559.4,1133.7 C560.1,1133.9 560.7,1132.6 561.4,1131.1 C562.0,1129.5 562.7,1126.5 563.3,1124.5 C564.0,1122.6 564.6,1120.8 565.3,1119.3 C566.0,1117.8 566.6,1116.4 567.3,1115.4 C567.9,1114.4 568.6,1113.7 569.2,1113.4 C569.9,1113.1 570.5,1112.9 571.2,1113.4 C571.8,1114.0 572.5,1115.3 573.1,1116.7 C573.8,1118.1 574.4,1120.2 575.1,1121.9 C575.8,1123.6 576.4,1125.5 577.1,1127.1 C577.7,1128.8 578.4,1130.8 579.0,1131.7 C579.7,1132.6 580.3,1132.7 581.0,1132.4 C581.6,1132.0 582.3,1131.1 582.9,1129.7 C583.6,1128.4 584.2,1126.4 584.9,1124.5 C585.6,1122.7 586.2,1120.3 586.9,1118.6 C587.5,1117.0 588.2,1115.6 588.8,1114.7 C589.5,1113.9 590.0,1113.5 590.8,1113.4 C591.5,1113.3 592.5,1114.1 593.4,1114.1 C594.3,1114.1 595.1,1114.1 596.0,1113.4 C596.9,1112.8 597.9,1111.8 598.6,1110.1 C599.4,1108.5 599.9,1105.8 600.6,1103.6 C601.2,1101.4 601.9,1099.2 602.5,1097.1 C603.2,1095.0 603.8,1092.5 604.5,1091.2 C605.1,1089.9 605.8,1089.2 606.5,1089.2 C607.1,1089.2 607.7,1090.6 608.4,1091.2 C609.2,1091.9 610.2,1092.2 611.0,1093.2 C611.9,1094.1 612.8,1096.1 613.6,1097.1 C614.5,1098.1 615.5,1098.7 616.3,1099.0 C617.0,1099.4 617.6,1099.7 618.2,1099.0 C618.9,1098.4 619.5,1096.6 620.2,1095.1 C620.8,1093.6 621.4,1091.3 622.1,1089.9 C622.9,1088.5 623.9,1087.2 624.7,1086.6 C625.6,1086.1 626.5,1086.6 627.4,1086.6 C628.2,1086.6 629.2,1086.6 630.0,1086.6 C630.7,1086.6 631.3,1085.9 631.9,1086.6 C632.6,1087.4 633.2,1089.2 633.9,1091.2 C634.5,1093.2 635.2,1096.5 635.9,1098.4 C636.5,1100.2 637.2,1101.9 637.8,1102.3 C638.5,1102.7 639.1,1101.8 639.8,1101.0 C640.4,1100.2 641.1,1098.7 641.7,1097.7 C642.4,1096.8 643.1,1095.9 643.7,1095.1 C644.2,1094.4 644.4,1093.8 645.0,1093.2 C645.6,1092.5 646.4,1092.0 647.2,1091.2 C648.0,1090.4 648.9,1089.4 649.8,1088.6 C650.7,1087.8 651.6,1086.6 652.4,1086.6 C653.2,1086.6 653.7,1087.7 654.4,1088.6 C655.0,1089.5 655.7,1091.7 656.3,1091.9 C657.0,1092.0 657.6,1090.6 658.3,1089.2 C658.9,1087.9 659.6,1085.7 660.3,1084.0 C660.9,1082.4 661.6,1080.4 662.2,1079.4 C662.9,1078.5 663.5,1078.1 664.2,1078.1 C664.8,1078.1 665.4,1079.2 666.1,1079.4 C666.9,1079.7 667.9,1079.7 668.7,1079.4 C669.6,1079.2 670.6,1077.9 671.4,1078.1 C672.1,1078.4 672.6,1080.0 673.3,1080.8 C674.1,1081.5 675.2,1082.9 675.9,1082.7 C676.7,1082.5 677.2,1080.9 677.9,1079.4 C678.5,1078.0 679.2,1075.6 679.8,1074.2 C680.5,1072.8 681.2,1071.7 681.8,1071.0 C682.5,1070.2 683.0,1069.9 683.8,1069.6 C684.5,1069.4 685.6,1069.3 686.4,1069.6 C687.1,1070.0 687.7,1070.7 688.3,1071.6 C689.0,1072.5 689.6,1073.7 690.3,1074.9 C691.0,1076.1 691.6,1077.5 692.3,1078.8 C692.9,1080.1 693.6,1081.7 694.2,1082.7 C694.9,1083.7 695.5,1084.0 696.2,1084.7 C696.8,1085.3 697.4,1086.1 698.1,1086.6 C698.9,1087.2 699.9,1088.0 700.8,1087.9 C701.6,1087.8 702.6,1086.4 703.4,1086.0 C704.1,1085.5 704.7,1085.0 705.3,1085.3 C706.0,1085.7 706.6,1086.8 707.3,1087.9 C707.9,1089.0 708.5,1091.0 709.2,1091.9 C710.0,1092.7 711.1,1092.4 711.9,1093.2 C712.6,1093.9 713.2,1095.0 713.8,1096.4 C714.5,1097.8 715.1,1100.2 715.8,1101.7 C716.4,1103.1 717.1,1104.3 717.7,1104.9 C718.4,1105.6 718.9,1105.8 719.7,1105.6 C720.5,1105.4 721.4,1104.4 722.3,1103.6 C723.2,1102.9 724.1,1101.9 724.9,1101.0 C725.8,1100.1 726.9,1099.5 727.5,1098.4 C728.2,1097.3 728.4,1096.0 728.8,1094.5 C729.3,1092.9 729.6,1090.8 730.1,1089.2 C730.7,1087.7 731.5,1086.2 732.1,1085.3 C732.8,1084.5 733.4,1083.7 734.1,1084.0 C734.7,1084.3 735.4,1086.1 736.0,1087.3 C736.7,1088.5 737.3,1090.0 738.0,1091.2 C738.6,1092.4 739.3,1093.5 739.9,1094.5 C740.6,1095.5 741.3,1096.5 741.9,1097.1 C742.6,1097.6 743.1,1097.8 743.9,1097.7 C744.6,1097.6 745.6,1096.8 746.5,1096.4 C747.4,1096.1 748.3,1095.6 749.1,1095.8 C749.9,1096.0 750.4,1096.9 751.1,1097.7 C751.7,1098.6 752.4,1099.8 753.0,1101.0 C753.7,1102.2 754.3,1103.2 755.0,1104.9 C755.6,1106.7 756.3,1109.7 756.9,1111.5 C757.6,1113.2 758.2,1114.6 758.9,1115.4 C759.5,1116.1 760.2,1116.5 760.9,1116.0 C761.5,1115.6 762.2,1114.0 762.8,1112.8 C763.5,1111.6 764.1,1109.8 764.8,1108.8 C765.4,1107.9 766.1,1107.4 766.7,1106.9 C767.4,1106.3 768.1,1105.7 768.7,1105.6 C769.2,1105.5 769.6,1106.0 770.0,1106.2 C770.4,1106.5 770.4,1106.2 770.9,1107.2 C771.4,1108.2 772.2,1110.4 772.8,1112.4 C773.5,1114.5 774.1,1117.7 774.8,1119.6 C775.5,1121.6 776.1,1123.0 776.8,1124.2 C777.4,1125.4 778.0,1126.2 778.7,1126.8 C779.5,1127.5 780.6,1128.1 781.3,1128.1 C782.1,1128.1 782.6,1127.4 783.3,1126.8 C783.9,1126.3 784.6,1125.4 785.3,1124.8 C785.9,1124.3 786.7,1123.2 787.2,1123.5 C787.8,1123.9 788.0,1125.2 788.5,1126.8 C789.1,1128.4 789.8,1131.3 790.5,1133.3 C791.1,1135.4 791.8,1137.7 792.4,1139.2 C793.1,1140.7 793.7,1141.9 794.4,1142.5 C795.0,1143.0 795.7,1142.9 796.4,1142.5 C797.0,1142.1 797.7,1141.3 798.3,1139.9 C799.0,1138.5 799.6,1136.2 800.3,1134.0 C800.9,1131.8 801.6,1128.7 802.2,1126.8 C802.9,1125.0 803.5,1123.7 804.2,1122.9 C804.8,1122.1 805.5,1122.1 806.2,1122.2 C806.8,1122.3 807.5,1122.6 808.1,1123.5 C808.8,1124.5 809.4,1126.2 810.1,1128.1 C810.7,1130.1 811.4,1132.9 812.0,1135.3 C812.7,1137.7 813.3,1140.6 814.0,1142.5 C814.6,1144.3 815.3,1145.8 816.0,1146.4 C816.6,1147.1 817.3,1147.0 817.9,1146.4 C818.6,1145.9 819.2,1144.1 819.9,1143.1 C820.5,1142.2 821.2,1141.3 821.8,1140.5 C822.5,1139.8 823.1,1139.0 823.8,1138.6 C824.4,1138.1 825.1,1137.8 825.8,1137.9 C826.4,1138.0 827.1,1138.2 827.7,1139.2 C828.4,1140.2 829.1,1141.9 829.7,1143.8 C830.2,1145.6 830.4,1147.9 831.0,1150.3 C831.5,1152.7 832.3,1155.8 832.9,1158.2 C833.6,1160.6 834.2,1163.2 834.9,1164.7 C835.6,1166.2 836.2,1167.1 836.9,1167.3 C837.5,1167.5 838.2,1167.3 838.8,1166.0 C839.5,1164.7 840.1,1161.9 840.8,1159.5 C841.4,1157.1 842.1,1153.8 842.7,1151.6 C843.4,1149.5 844.0,1147.6 844.7,1146.4 C845.4,1145.2 846.0,1144.7 846.7,1144.4 C847.3,1144.2 848.0,1144.7 848.6,1145.1 C849.3,1145.5 849.9,1146.0 850.6,1147.1 C851.2,1148.1 851.9,1149.9 852.5,1151.6 C853.2,1153.4 853.8,1156.1 854.5,1157.5 C855.1,1158.9 855.8,1159.6 856.5,1160.1 C857.1,1160.7 857.8,1161.1 858.4,1160.8 C859.1,1160.5 859.8,1159.4 860.4,1158.2 C860.9,1157.0 861.1,1154.5 861.7,1153.6 C862.2,1152.7 863.0,1152.2 863.6,1152.9 C864.3,1153.7 864.9,1156.2 865.6,1158.2 C866.3,1160.1 866.9,1162.3 867.6,1164.7 C868.2,1167.1 868.9,1169.7 869.5,1172.5 C870.2,1175.4 870.8,1178.6 871.5,1181.7 C872.1,1184.7 872.8,1188.2 873.4,1190.8 C874.1,1193.4 874.7,1195.9 875.4,1197.4 C876.1,1198.8 876.7,1199.2 877.4,1199.3 C878.0,1199.4 878.7,1199.2 879.3,1198.0 C880.0,1196.8 880.6,1194.4 881.3,1192.1 C881.9,1189.8 882.6,1186.7 883.2,1184.3 C883.9,1181.9 884.5,1179.4 885.2,1177.8 C885.9,1176.1 886.5,1175.0 887.2,1174.5 C887.8,1174.0 888.5,1174.2 889.1,1174.5 C889.8,1174.8 890.4,1175.5 891.1,1176.5 C891.7,1177.4 892.4,1178.9 893.0,1180.4 C893.7,1181.9 894.4,1184.2 895.0,1185.6 C895.6,1187.0 895.8,1188.6 896.4,1188.9 C896.9,1189.1 897.7,1187.9 898.3,1186.9 C899.0,1185.9 899.6,1184.2 900.3,1183.0 C900.9,1181.8 901.6,1180.7 902.2,1179.7 C902.9,1178.7 903.4,1177.9 904.2,1177.1 C905.0,1176.3 906.0,1176.0 906.8,1175.1 C907.6,1174.3 908.1,1172.8 908.8,1171.9 C909.4,1171.0 910.2,1170.3 910.7,1169.9 C911.3,1169.6 911.5,1169.3 912.0,1169.7 C912.6,1170.0 913.2,1170.9 914.0,1171.9 C914.8,1172.9 915.7,1174.6 916.6,1175.8 C917.5,1177.0 918.3,1178.0 919.2,1179.1 C920.1,1180.2 921.1,1182.1 921.8,1182.3 C922.6,1182.6 923.0,1181.4 923.8,1180.4 C924.6,1179.4 925.5,1178.0 926.4,1176.5 C927.3,1174.9 928.3,1173.1 929.0,1171.2 C929.8,1169.4 930.3,1166.8 931.0,1165.4 C931.6,1163.9 932.3,1162.8 932.9,1162.7 C933.6,1162.6 934.2,1163.8 934.9,1164.7 C935.6,1165.6 936.3,1167.4 936.9,1168.0 C937.4,1168.5 937.6,1168.5 938.2,1168.0 C938.7,1167.4 939.5,1165.4 940.1,1164.7 C940.8,1164.0 941.3,1164.1 942.1,1164.0 C942.8,1164.0 943.9,1164.5 944.7,1164.4 C945.5,1164.4 945.9,1163.8 946.7,1163.8 C947.4,1163.8 948.5,1164.2 949.3,1164.4 C950.0,1164.7 950.5,1165.4 951.2,1165.4 C952.0,1165.3 953.0,1164.4 953.8,1164.0 C954.7,1163.7 955.7,1164.4 956.5,1163.4 C957.2,1162.4 957.9,1160.8 958.4,1158.2 C959.0,1155.6 959.3,1151.1 959.7,1147.7 C960.2,1144.3 960.6,1140.4 961.0,1137.9 C961.5,1135.4 961.8,1133.7 962.3,1132.7 C962.9,1131.7 963.6,1131.9 964.3,1132.0 C964.9,1132.1 965.6,1132.5 966.3,1133.3 C966.9,1134.2 967.6,1135.1 968.2,1137.3 C968.9,1139.4 969.5,1143.1 970.2,1146.4 C970.8,1149.7 971.5,1154.0 972.1,1156.9 C972.8,1159.7 973.4,1162.2 974.1,1163.4 C974.7,1164.6 975.4,1164.7 976.1,1164.0 C976.7,1163.4 977.4,1161.5 978.0,1159.5 C978.7,1157.4 979.3,1154.5 980.0,1151.6 C980.6,1148.8 981.4,1145.3 981.9,1142.5 C982.5,1139.7 982.8,1136.3 983.2,1134.6 C983.7,1133.0 984.0,1132.7 984.5,1132.7 C985.1,1132.7 986.0,1133.7 986.5,1134.6 C987.0,1135.6 987.5,1137.7 987.8,1138.6 C988.1,1139.4 988.4,1139.7 988.5,1139.9" fill="none" stroke="#d95f02" stroke-width="2.45" stroke-linejoin="round" stroke-linecap="butt"/>
<line x1="683.6" y1="976.8" x2="683.6" y2="1312.8" stroke="#333" stroke-width="1.8"/>
<line x1="891.6" y1="976.8" x2="891.6" y2="1312.8" stroke="#333" stroke-width="1.8"/>
</g>
<rect x="269.0" y="976.8" width="723.0" height="336.0" fill="none" stroke="#c2c2c2" stroke-width="2.3"/>
<line x1="330.0" y1="1312.8" x2="330.0" y2="1306.3" stroke="#5c5c5c" stroke-width="1"/>
<line x1="330.0" y1="976.8" x2="330.0" y2="983.3" stroke="#5c5c5c" stroke-width="1"/>
<text x="330.0" y="1345.8999999999999" font-size="26.8" fill="#2e2e2e" text-anchor="middle" textLength="62" lengthAdjust="spacingAndGlyphs">1985</text>
<line x1="434.0" y1="1312.8" x2="434.0" y2="1306.3" stroke="#5c5c5c" stroke-width="1"/>
<line x1="434.0" y1="976.8" x2="434.0" y2="983.3" stroke="#5c5c5c" stroke-width="1"/>
<text x="434.0" y="1345.8999999999999" font-size="26.8" fill="#2e2e2e" text-anchor="middle" textLength="62" lengthAdjust="spacingAndGlyphs">1990</text>
<line x1="538.0" y1="1312.8" x2="538.0" y2="1306.3" stroke="#5c5c5c" stroke-width="1"/>
<line x1="538.0" y1="976.8" x2="538.0" y2="983.3" stroke="#5c5c5c" stroke-width="1"/>
<text x="538.0" y="1345.8999999999999" font-size="26.8" fill="#2e2e2e" text-anchor="middle" textLength="62" lengthAdjust="spacingAndGlyphs">1995</text>
<line x1="642.0" y1="1312.8" x2="642.0" y2="1306.3" stroke="#5c5c5c" stroke-width="1"/>
<line x1="642.0" y1="976.8" x2="642.0" y2="983.3" stroke="#5c5c5c" stroke-width="1"/>
<text x="642.0" y="1345.8999999999999" font-size="26.8" fill="#2e2e2e" text-anchor="middle" textLength="62" lengthAdjust="spacingAndGlyphs">2000</text>
<line x1="746.0" y1="1312.8" x2="746.0" y2="1306.3" stroke="#5c5c5c" stroke-width="1"/>
<line x1="746.0" y1="976.8" x2="746.0" y2="983.3" stroke="#5c5c5c" stroke-width="1"/>
<text x="746.0" y="1345.8999999999999" font-size="26.8" fill="#2e2e2e" text-anchor="middle" textLength="62" lengthAdjust="spacingAndGlyphs">2005</text>
<line x1="850.0" y1="1312.8" x2="850.0" y2="1306.3" stroke="#5c5c5c" stroke-width="1"/>
<line x1="850.0" y1="976.8" x2="850.0" y2="983.3" stroke="#5c5c5c" stroke-width="1"/>
<text x="850.0" y="1345.8999999999999" font-size="26.8" fill="#2e2e2e" text-anchor="middle" textLength="62" lengthAdjust="spacingAndGlyphs">2010</text>
<line x1="954.0" y1="1312.8" x2="954.0" y2="1306.3" stroke="#5c5c5c" stroke-width="1"/>
<line x1="954.0" y1="976.8" x2="954.0" y2="983.3" stroke="#5c5c5c" stroke-width="1"/>
<text x="954.0" y="1345.8999999999999" font-size="26.8" fill="#2e2e2e" text-anchor="middle" textLength="62" lengthAdjust="spacingAndGlyphs">2015</text>
<line x1="269.0" y1="991.5" x2="275.5" y2="991.5" stroke="#5c5c5c" stroke-width="1"/>
<line x1="992.0" y1="991.5" x2="985.5" y2="991.5" stroke="#5c5c5c" stroke-width="1"/>
<text x="259.1" y="1000.3" font-size="26.8" fill="#2e2e2e" text-anchor="end" textLength="13.9" lengthAdjust="spacingAndGlyphs">0</text>
<line x1="269.0" y1="1037.4" x2="275.5" y2="1037.4" stroke="#5c5c5c" stroke-width="1"/>
<line x1="992.0" y1="1037.4" x2="985.5" y2="1037.4" stroke="#5c5c5c" stroke-width="1"/>
<text x="259.1" y="1046.2" font-size="26.8" fill="#2e2e2e" text-anchor="end" textLength="46.6" lengthAdjust="spacingAndGlyphs">-0.3</text>
<line x1="269.0" y1="1083.3" x2="275.5" y2="1083.3" stroke="#5c5c5c" stroke-width="1"/>
<line x1="992.0" y1="1083.3" x2="985.5" y2="1083.3" stroke="#5c5c5c" stroke-width="1"/>
<text x="259.1" y="1092.1" font-size="26.8" fill="#2e2e2e" text-anchor="end" textLength="46.6" lengthAdjust="spacingAndGlyphs">-0.6</text>
<line x1="269.0" y1="1129.2" x2="275.5" y2="1129.2" stroke="#5c5c5c" stroke-width="1"/>
<line x1="992.0" y1="1129.2" x2="985.5" y2="1129.2" stroke="#5c5c5c" stroke-width="1"/>
<text x="259.1" y="1138.0" font-size="26.8" fill="#2e2e2e" text-anchor="end" textLength="46.6" lengthAdjust="spacingAndGlyphs">-0.9</text>
<line x1="269.0" y1="1175.1" x2="275.5" y2="1175.1" stroke="#5c5c5c" stroke-width="1"/>
<line x1="992.0" y1="1175.1" x2="985.5" y2="1175.1" stroke="#5c5c5c" stroke-width="1"/>
<text x="259.1" y="1183.9" font-size="26.8" fill="#2e2e2e" text-anchor="end" textLength="46.6" lengthAdjust="spacingAndGlyphs">-1.2</text>
<line x1="269.0" y1="1221.0" x2="275.5" y2="1221.0" stroke="#5c5c5c" stroke-width="1"/>
<line x1="992.0" y1="1221.0" x2="985.5" y2="1221.0" stroke="#5c5c5c" stroke-width="1"/>
<text x="259.1" y="1229.8" font-size="26.8" fill="#2e2e2e" text-anchor="end" textLength="46.6" lengthAdjust="spacingAndGlyphs">-1.5</text>
<line x1="269.0" y1="1266.9" x2="275.5" y2="1266.9" stroke="#5c5c5c" stroke-width="1"/>
<line x1="992.0" y1="1266.9" x2="985.5" y2="1266.9" stroke="#5c5c5c" stroke-width="1"/>
<text x="259.1" y="1275.7" font-size="26.8" fill="#2e2e2e" text-anchor="end" textLength="46.6" lengthAdjust="spacingAndGlyphs">-1.8</text>
<text x="259.1" y="1321.6" font-size="26.8" fill="#2e2e2e" text-anchor="end" textLength="46.6" lengthAdjust="spacingAndGlyphs">-2.1</text>
<text x="285.5" y="1009" font-size="27" fill="#111">C</text>
<text x="630.5" y="1377.5" font-size="27.5" fill="#2e2e2e" text-anchor="middle" textLength="148" lengthAdjust="spacingAndGlyphs">time (year)</text>
<g transform="translate(0,1145.3) rotate(-90)" fill="#2e2e2e" font-size="27.5" text-anchor="middle"><text x="0" y="156.9" textLength="215" lengthAdjust="spacingAndGlyphs">sea-air CO<tspan font-size="22.5" dy="12.5">2</tspan><tspan dy="-12.5"> flux</tspan></text><text x="0" y="201.4" textLength="156" lengthAdjust="spacingAndGlyphs">[mol/m²/yr]</text></g>
<line x1="67.6" y1="1017.8" x2="67.6" y2="1257.8" stroke="#000" stroke-width="1.3"/>
<polygon points="60.599999999999994,1247.3 74.6,1247.3 67.6,1267.8" fill="#000"/>
<text x="1.2" y="1300.5" font-size="23.3" fill="#111">stronger sink</text>
</svg></body></html>
